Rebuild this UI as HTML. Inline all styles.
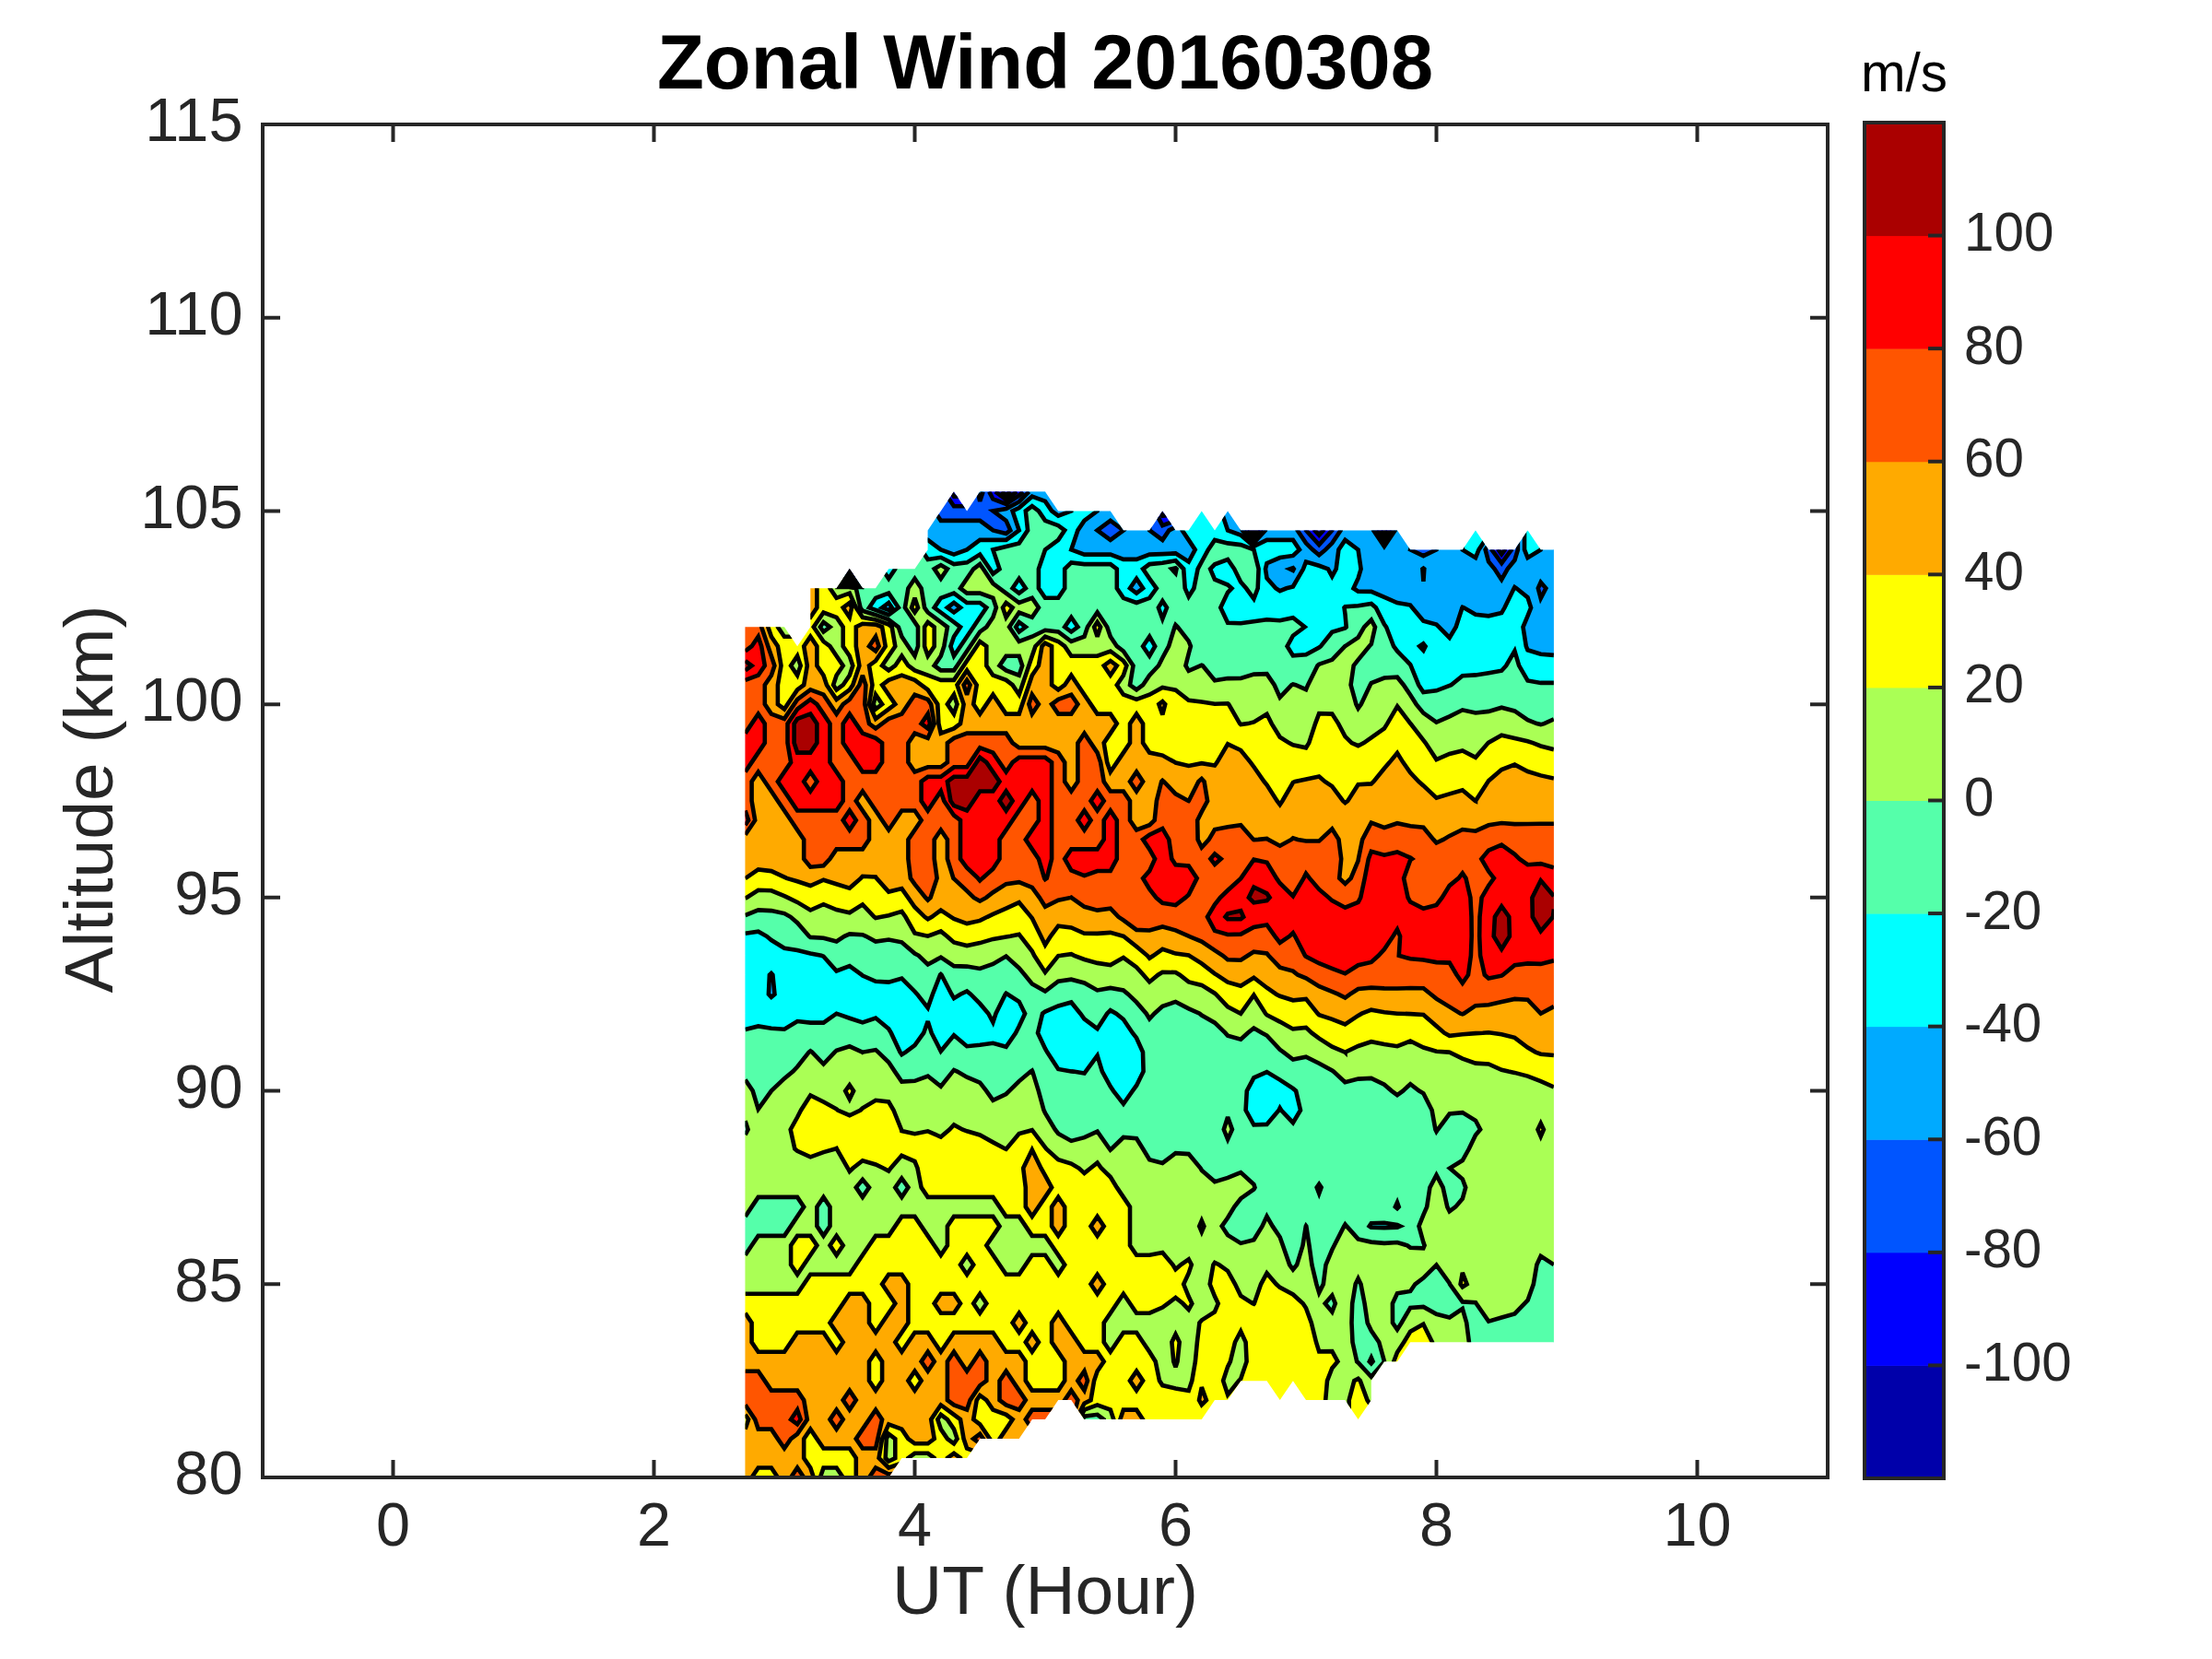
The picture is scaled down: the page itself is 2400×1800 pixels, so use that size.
<!DOCTYPE html>
<html><head><meta charset="utf-8">
<style>
html,body{margin:0;padding:0;background:#fff;}
body{width:2400px;height:1800px;overflow:hidden;position:relative;font-family:"Liberation Sans",sans-serif;}
svg{position:absolute;left:0;top:0;}
text{font-family:"Liberation Sans",sans-serif;}
.tk{font-size:58.33px;fill:#262626;}
.lb{font-size:75px;fill:#262626;}
.tkx{font-size:66.67px;fill:#262626;}
</style></head><body>
<svg width="2400" height="1800" viewBox="0 0 2400 1800">
<rect x="0" y="0" width="2400" height="1800" fill="#ffffff"/>
<defs><clipPath id="reg"><path d="M808.5 680.3 808.5 680.3 808.5 680.3 808.5 680.3 808.5 680.3 808.5 680.3 808.5 680.3 808.5 680.3 808.5 680.3 808.5 701.2 808.5 722.2 808.5 743.2 808.5 764.1 808.5 785.1 808.5 806.1 808.5 827.1 808.5 848.0 808.5 869.0 808.5 890.0 808.5 910.9 808.5 931.9 808.5 952.9 808.5 973.9 808.5 994.8 808.5 1015.8 808.5 1036.8 808.5 1057.7 808.5 1078.7 808.5 1099.7 808.5 1120.7 808.5 1141.6 808.5 1162.6 808.5 1183.6 808.5 1204.5 808.5 1225.5 808.5 1246.5 808.5 1267.5 808.5 1288.4 808.5 1309.4 808.5 1330.4 808.5 1351.3 808.5 1372.3 808.5 1393.3 808.5 1414.3 808.5 1435.2 808.5 1456.2 808.5 1477.2 808.5 1498.1 808.5 1519.1 808.5 1540.1 808.5 1561.1 808.5 1582.0 808.5 1603.0 808.5 1603.0 808.5 1603.0 808.5 1603.0 808.5 1603.0 808.5 1603.0 808.5 1603.0 808.5 1603.0 808.5 1603.0 808.5 1603.0 808.5 1603.0 808.5 1603.0 808.5 1603.0 808.5 1603.0 808.5 1603.0 808.5 1603.0 808.6 1603.0 822.7 1603.0 836.9 1603.0 851.0 1603.0 865.1 1603.0 879.3 1603.0 893.5 1603.0 907.6 1603.0 921.8 1603.0 935.9 1603.0 950.1 1603.0 964.2 1603.0 964.2 1603.0 964.2 1603.0 964.2 1603.0 964.2 1603.0 964.2 1603.0 964.2 1603.0 964.2 1603.0 964.2 1603.0 964.2 1603.0 964.2 1603.0 964.2 1603.0 964.2 1603.0 964.2 1603.0 964.2 1603.0 964.2 1603.0 964.2 1603.0 964.2 1603.0 964.2 1603.0 964.2 1603.0 964.2 1603.0 964.2 1603.0 964.2 1603.0 964.2 1603.0 964.2 1603.0 964.2 1603.0 964.2 1603.0 964.2 1603.0 964.2 1603.0 964.2 1603.0 964.2 1603.0 964.2 1603.0 964.2 1603.0 964.2 1603.0 964.2 1603.0 964.2 1603.0 964.2 1603.0 964.2 1603.0 964.2 1603.0 978.4 1582.0 992.5 1582.0 1006.7 1582.0 1020.8 1582.0 1035.0 1582.0 1049.1 1582.0 1049.1 1582.0 1049.1 1582.0 1049.1 1582.0 1049.1 1582.0 1049.1 1582.0 1049.1 1582.0 1049.1 1582.0 1049.1 1582.0 1049.1 1582.0 1049.1 1582.0 1049.1 1582.0 1049.1 1582.0 1049.1 1582.0 1049.1 1582.0 1049.1 1582.0 1049.1 1582.0 1049.1 1582.0 1049.1 1582.0 1049.1 1582.0 1049.1 1582.0 1049.1 1582.0 1049.1 1582.0 1049.1 1582.0 1049.1 1582.0 1049.1 1582.0 1049.1 1582.0 1049.1 1582.0 1049.1 1582.0 1049.1 1582.0 1049.1 1582.0 1049.1 1582.0 1049.1 1582.0 1049.1 1582.0 1049.1 1582.0 1049.1 1582.0 1049.1 1582.0 1049.1 1582.0 1049.1 1582.0 1063.3 1561.1 1077.4 1561.1 1091.6 1561.1 1105.7 1561.1 1105.7 1561.1 1105.7 1561.1 1105.7 1561.1 1105.7 1561.1 1105.7 1561.1 1105.7 1561.1 1105.7 1561.1 1105.7 1561.1 1105.7 1561.1 1105.7 1561.1 1105.7 1561.1 1105.7 1561.1 1105.7 1561.1 1105.7 1561.1 1105.7 1561.1 1105.7 1561.1 1105.7 1561.1 1105.7 1561.1 1105.7 1561.1 1105.7 1561.1 1105.7 1561.1 1105.7 1561.1 1105.7 1561.1 1105.7 1561.1 1105.7 1561.1 1105.7 1561.1 1105.7 1561.1 1105.7 1561.1 1105.7 1561.1 1105.7 1561.1 1105.7 1561.1 1105.7 1561.1 1105.7 1561.1 1105.7 1561.1 1105.7 1561.1 1105.7 1561.1 1105.7 1561.1 1105.7 1561.1 1119.9 1540.1 1134.0 1540.1 1134.0 1540.1 1134.0 1540.1 1134.0 1540.1 1134.0 1540.1 1134.0 1540.1 1134.0 1540.1 1134.0 1540.1 1134.0 1540.1 1134.0 1540.1 1134.0 1540.1 1134.0 1540.1 1134.0 1540.1 1134.0 1540.1 1134.0 1540.1 1134.0 1540.1 1134.0 1540.1 1134.0 1540.1 1134.0 1540.1 1134.0 1540.1 1134.0 1540.1 1134.0 1540.1 1134.0 1540.1 1134.0 1540.1 1134.0 1540.1 1134.0 1540.1 1134.0 1540.1 1134.0 1540.1 1134.0 1540.1 1134.0 1540.1 1134.0 1540.1 1134.0 1540.1 1134.0 1540.1 1134.0 1540.1 1134.0 1540.1 1134.0 1540.1 1134.0 1540.1 1134.0 1540.1 1134.0 1540.1 1148.2 1519.1 1162.3 1519.1 1176.4 1540.1 1176.4 1540.1 1176.4 1540.1 1176.4 1540.1 1176.4 1540.1 1176.4 1540.1 1176.4 1540.1 1176.4 1540.1 1176.4 1540.1 1176.4 1540.1 1176.4 1540.1 1176.4 1540.1 1176.4 1540.1 1176.4 1540.1 1176.4 1540.1 1176.4 1540.1 1176.4 1540.1 1176.4 1540.1 1176.4 1540.1 1176.4 1540.1 1176.4 1540.1 1176.4 1540.1 1176.4 1540.1 1176.4 1540.1 1176.4 1540.1 1176.4 1540.1 1176.4 1540.1 1176.4 1540.1 1176.4 1540.1 1176.4 1540.1 1176.4 1540.1 1176.4 1540.1 1176.4 1540.1 1176.4 1540.1 1176.4 1540.1 1176.4 1540.1 1176.4 1540.1 1176.4 1540.1 1176.5 1540.1 1190.6 1540.1 1204.8 1540.1 1218.9 1540.1 1233.1 1540.1 1247.2 1540.1 1261.3 1540.1 1275.5 1540.1 1289.7 1540.1 1303.8 1540.1 1303.8 1540.1 1303.8 1540.1 1303.8 1540.1 1303.8 1540.1 1303.8 1540.1 1303.8 1540.1 1303.8 1540.1 1303.8 1540.1 1303.8 1540.1 1303.8 1540.1 1303.8 1540.1 1303.8 1540.1 1303.8 1540.1 1303.8 1540.1 1303.8 1540.1 1303.8 1540.1 1303.8 1540.1 1303.8 1540.1 1303.8 1540.1 1303.8 1540.1 1303.8 1540.1 1303.8 1540.1 1303.8 1540.1 1303.8 1540.1 1303.8 1540.1 1303.8 1540.1 1303.8 1540.1 1303.8 1540.1 1303.8 1540.1 1303.8 1540.1 1303.8 1540.1 1303.8 1540.1 1303.8 1540.1 1303.8 1540.1 1303.8 1540.1 1303.8 1540.1 1303.8 1540.1 1303.8 1540.1 1318.0 1519.1 1332.1 1519.1 1332.1 1519.1 1332.1 1519.1 1332.1 1519.1 1332.1 1519.1 1332.1 1519.1 1332.1 1519.1 1332.1 1519.1 1332.1 1519.1 1332.1 1519.1 1332.1 1519.1 1332.1 1519.1 1332.1 1519.1 1332.1 1519.1 1332.1 1519.1 1332.1 1519.1 1332.1 1519.1 1332.1 1519.1 1332.1 1519.1 1332.1 1519.1 1332.1 1519.1 1332.1 1519.1 1332.1 1519.1 1332.1 1519.1 1332.1 1519.1 1332.1 1519.1 1332.1 1519.1 1332.1 1519.1 1332.1 1519.1 1332.1 1519.1 1332.1 1519.1 1332.1 1519.1 1332.1 1519.1 1332.1 1519.1 1332.1 1519.1 1332.1 1519.1 1332.1 1519.1 1332.1 1519.1 1332.1 1519.1 1346.3 1498.2 1360.4 1498.2 1374.5 1498.2 1388.7 1519.1 1388.7 1519.1 1388.7 1519.1 1388.7 1519.1 1388.7 1519.1 1388.7 1519.1 1388.7 1519.1 1388.7 1519.1 1388.7 1519.1 1388.7 1519.1 1388.7 1519.1 1388.7 1519.1 1388.7 1519.1 1388.7 1519.1 1388.7 1519.1 1388.7 1519.1 1388.7 1519.1 1388.7 1519.1 1388.7 1519.1 1388.7 1519.1 1388.7 1519.1 1388.7 1519.1 1388.7 1519.1 1388.7 1519.1 1388.7 1519.1 1388.7 1519.1 1388.7 1519.1 1388.7 1519.1 1388.7 1519.1 1388.7 1519.1 1388.7 1519.1 1388.7 1519.1 1388.7 1519.1 1388.7 1519.1 1388.7 1519.1 1388.7 1519.1 1388.7 1519.1 1388.7 1519.1 1388.7 1519.1 1388.7 1519.1 1388.7 1519.1 1388.7 1519.1 1388.7 1519.1 1388.7 1519.1 1388.7 1519.1 1388.7 1519.1 1388.7 1519.1 1388.7 1519.1 1388.7 1519.1 1388.7 1519.1 1388.7 1519.1 1388.7 1519.1 1388.7 1519.1 1388.7 1519.1 1388.7 1519.1 1388.7 1519.1 1388.7 1519.1 1388.7 1519.1 1388.7 1519.1 1388.7 1519.1 1388.7 1519.1 1388.7 1519.1 1388.7 1519.1 1388.7 1519.1 1388.7 1519.1 1388.7 1519.1 1388.7 1519.1 1388.7 1519.1 1388.7 1519.1 1388.7 1519.1 1388.7 1519.1 1388.7 1519.1 1388.7 1519.1 1388.7 1519.1 1388.7 1519.1 1388.7 1519.1 1388.7 1519.1 1388.7 1519.1 1388.7 1519.1 1402.9 1498.2 1417.0 1519.1 1417.0 1519.1 1417.0 1519.1 1417.0 1519.1 1417.0 1519.1 1417.0 1519.1 1417.0 1519.1 1417.0 1519.1 1417.0 1519.1 1417.0 1519.1 1417.0 1519.1 1417.0 1519.1 1417.0 1519.1 1417.0 1519.1 1417.0 1519.1 1417.0 1519.1 1417.0 1519.1 1417.0 1519.1 1417.0 1519.1 1417.0 1519.1 1417.0 1519.1 1417.0 1519.1 1417.0 1519.1 1417.0 1519.1 1417.0 1519.1 1417.0 1519.1 1417.0 1519.1 1417.0 1519.1 1417.0 1519.1 1417.0 1519.1 1417.0 1519.1 1417.0 1519.1 1417.0 1519.1 1417.0 1519.1 1417.0 1519.1 1417.0 1519.1 1417.0 1519.1 1417.0 1519.1 1417.0 1519.1 1431.2 1519.1 1445.3 1519.1 1459.4 1519.1 1473.6 1540.1 1473.6 1540.1 1473.6 1540.1 1473.6 1540.1 1473.6 1540.1 1473.6 1540.1 1473.6 1540.1 1473.6 1540.1 1473.6 1540.1 1473.6 1540.1 1473.6 1540.1 1473.6 1540.1 1473.6 1540.1 1473.6 1540.1 1473.6 1540.1 1473.6 1540.1 1473.6 1540.1 1473.6 1540.1 1473.6 1540.1 1473.6 1540.1 1473.6 1540.1 1473.6 1540.1 1473.6 1540.1 1473.6 1540.1 1473.6 1540.1 1473.6 1540.1 1473.6 1540.1 1473.6 1540.1 1473.6 1540.1 1473.6 1540.1 1473.6 1540.1 1473.6 1540.1 1473.6 1540.1 1473.6 1540.1 1473.6 1540.1 1473.6 1540.1 1473.6 1540.1 1473.6 1540.1 1473.6 1540.1 1473.6 1540.1 1473.6 1540.1 1473.6 1540.1 1473.6 1540.1 1473.6 1540.1 1473.6 1540.1 1473.6 1540.1 1473.6 1540.1 1473.6 1540.1 1473.6 1540.1 1473.6 1540.1 1473.6 1540.1 1473.6 1540.1 1473.6 1540.1 1473.6 1540.1 1473.6 1540.1 1473.6 1540.1 1473.6 1540.1 1473.6 1540.1 1473.6 1540.1 1473.6 1540.1 1473.6 1540.1 1473.6 1540.1 1473.6 1540.1 1473.6 1540.1 1473.6 1540.1 1473.6 1540.1 1473.6 1540.1 1473.6 1540.1 1473.6 1540.1 1473.6 1540.1 1473.6 1540.1 1473.6 1540.1 1473.6 1540.1 1473.6 1540.1 1473.6 1540.1 1473.6 1540.1 1473.6 1540.1 1473.6 1540.1 1473.6 1540.1 1487.8 1519.1 1487.8 1519.1 1487.8 1519.1 1487.8 1519.1 1487.8 1519.1 1487.8 1519.1 1487.8 1519.1 1487.8 1519.1 1487.8 1519.1 1487.8 1519.1 1487.8 1519.1 1487.8 1519.1 1487.8 1519.1 1487.8 1519.1 1487.8 1519.1 1487.8 1519.1 1487.8 1519.1 1487.8 1519.1 1487.8 1519.1 1487.8 1519.1 1487.8 1519.1 1487.8 1519.1 1487.8 1519.1 1487.8 1519.1 1487.8 1519.1 1487.8 1519.1 1487.8 1519.1 1487.8 1498.1 1501.9 1477.2 1516.0 1477.2 1516.1 1477.2 1516.1 1477.2 1516.1 1477.2 1516.1 1477.2 1516.1 1477.2 1516.1 1477.2 1516.1 1477.2 1516.1 1477.2 1516.1 1477.2 1516.1 1477.2 1516.1 1477.2 1516.1 1477.2 1516.1 1477.2 1516.1 1477.2 1516.1 1477.2 1516.1 1477.2 1516.1 1477.2 1516.1 1477.2 1516.1 1477.2 1516.1 1477.2 1516.1 1477.2 1516.1 1477.2 1516.1 1477.2 1516.1 1477.2 1516.1 1477.2 1516.1 1477.2 1516.1 1477.2 1516.1 1477.2 1516.1 1477.2 1516.1 1477.2 1516.1 1477.2 1516.1 1477.2 1516.1 1477.2 1516.1 1477.2 1516.1 1477.2 1516.1 1477.2 1516.1 1477.2 1516.1 1477.2 1530.2 1456.2 1544.4 1456.2 1558.5 1456.2 1572.7 1456.2 1586.8 1456.2 1601.0 1456.2 1615.1 1456.2 1629.2 1456.2 1643.4 1456.2 1657.5 1456.2 1671.7 1456.2 1685.9 1456.2 1685.9 1456.2 1685.9 1456.2 1685.9 1456.2 1685.9 1456.2 1685.9 1456.2 1685.9 1456.2 1685.9 1456.2 1685.9 1456.2 1685.9 1456.2 1685.9 1456.2 1685.9 1456.2 1685.9 1456.2 1685.9 1456.2 1685.9 1456.2 1685.9 1456.2 1685.9 1456.2 1685.9 1435.2 1685.9 1414.3 1685.9 1393.3 1685.9 1372.3 1685.9 1351.3 1685.9 1330.4 1685.9 1309.4 1685.9 1288.4 1685.9 1267.5 1685.9 1246.5 1685.9 1225.5 1685.9 1204.5 1685.9 1183.6 1685.9 1162.6 1685.9 1141.6 1685.9 1120.7 1685.9 1099.7 1685.9 1078.7 1685.9 1057.7 1685.9 1036.8 1685.9 1015.8 1685.9 994.8 1685.9 973.9 1685.9 952.9 1685.9 931.9 1685.9 910.9 1685.9 890.0 1685.9 869.0 1685.9 848.0 1685.9 827.1 1685.9 806.1 1685.9 785.1 1685.9 764.1 1685.9 743.2 1685.9 722.2 1685.9 701.2 1685.9 680.3 1685.9 659.3 1685.9 638.3 1685.9 617.3 1685.9 596.4 1685.9 596.4 1685.9 596.4 1685.9 596.4 1685.9 596.4 1685.9 596.4 1685.9 596.4 1685.9 596.4 1685.9 596.4 1685.9 596.4 1685.9 596.4 1685.9 596.4 1685.9 596.4 1685.9 596.4 1685.9 596.4 1685.9 596.4 1685.9 596.4 1671.7 596.4 1657.6 575.4 1657.6 575.4 1657.6 575.4 1657.6 575.4 1657.6 575.4 1657.6 575.4 1657.6 575.4 1657.6 575.4 1657.6 575.4 1657.6 575.4 1657.6 575.4 1657.6 575.4 1657.6 575.4 1657.6 575.4 1657.6 575.4 1657.6 575.4 1657.6 575.4 1657.6 575.4 1657.6 575.4 1657.6 575.4 1657.6 575.4 1657.6 575.4 1657.6 575.4 1657.6 575.4 1657.6 575.4 1657.6 575.4 1657.6 575.4 1657.6 575.4 1657.6 575.4 1657.6 575.4 1657.6 575.4 1657.6 575.4 1657.6 575.4 1657.6 575.4 1657.6 575.4 1657.6 575.4 1657.6 575.4 1657.6 575.4 1657.6 575.4 1657.5 575.4 1657.5 575.4 1657.5 575.4 1657.5 575.4 1657.5 575.4 1657.5 575.4 1657.5 575.4 1657.5 575.4 1657.5 575.4 1657.5 575.4 1657.5 575.4 1657.5 575.4 1657.5 575.4 1657.5 575.4 1657.5 575.4 1657.5 575.4 1657.5 575.4 1657.5 575.4 1657.5 575.4 1657.5 575.4 1657.5 575.4 1657.5 575.4 1657.5 575.4 1657.5 575.4 1657.5 575.4 1657.5 575.4 1657.5 575.4 1657.5 575.4 1657.5 575.4 1657.5 575.4 1657.5 575.4 1657.5 575.4 1657.5 575.4 1657.5 575.4 1657.5 575.4 1657.5 575.4 1657.5 575.4 1657.5 575.4 1657.5 575.4 1657.5 575.4 1643.4 596.4 1629.2 596.4 1615.1 596.4 1601.0 575.4 1601.0 575.4 1601.0 575.4 1601.0 575.4 1601.0 575.4 1601.0 575.4 1601.0 575.4 1601.0 575.4 1601.0 575.4 1601.0 575.4 1601.0 575.4 1601.0 575.4 1601.0 575.4 1601.0 575.4 1601.0 575.4 1601.0 575.4 1601.0 575.4 1601.0 575.4 1601.0 575.4 1601.0 575.4 1601.0 575.4 1601.0 575.4 1601.0 575.4 1601.0 575.4 1601.0 575.4 1601.0 575.4 1601.0 575.4 1601.0 575.4 1601.0 575.4 1601.0 575.4 1601.0 575.4 1601.0 575.4 1601.0 575.4 1601.0 575.4 1601.0 575.4 1601.0 575.4 1601.0 575.4 1601.0 575.4 1601.0 575.4 1601.0 575.4 1600.9 575.4 1600.9 575.4 1600.9 575.4 1600.9 575.4 1600.9 575.4 1600.9 575.4 1600.9 575.4 1600.9 575.4 1600.9 575.4 1600.9 575.4 1600.9 575.4 1600.9 575.4 1600.9 575.4 1600.9 575.4 1600.9 575.4 1600.9 575.4 1600.9 575.4 1600.9 575.4 1600.9 575.4 1600.9 575.4 1600.9 575.4 1600.9 575.4 1600.9 575.4 1600.9 575.4 1600.9 575.4 1600.9 575.4 1600.9 575.4 1600.9 575.4 1600.9 575.4 1600.9 575.4 1600.9 575.4 1600.9 575.4 1600.9 575.4 1600.9 575.4 1600.9 575.4 1600.9 575.4 1600.9 575.4 1600.9 575.4 1600.9 575.4 1586.8 596.4 1572.7 596.4 1558.5 596.4 1544.4 596.4 1530.2 596.4 1516.1 575.4 1516.1 575.4 1516.1 575.4 1516.1 575.4 1516.1 575.4 1516.1 575.4 1516.1 575.4 1516.1 575.4 1516.1 575.4 1516.1 575.4 1516.1 575.4 1516.1 575.4 1516.1 575.4 1516.1 575.4 1516.1 575.4 1516.1 575.4 1516.1 575.4 1516.1 575.4 1516.1 575.4 1516.1 575.4 1516.1 575.4 1516.1 575.4 1516.1 575.4 1516.1 575.4 1516.1 575.4 1516.1 575.4 1516.1 575.4 1516.1 575.4 1516.1 575.4 1516.1 575.4 1516.1 575.4 1516.1 575.4 1516.1 575.4 1516.1 575.4 1516.1 575.4 1516.1 575.4 1516.1 575.4 1516.1 575.4 1516.0 575.4 1501.9 575.4 1487.8 575.4 1473.6 575.4 1459.5 575.4 1445.3 575.4 1431.2 575.4 1417.0 575.4 1402.9 575.4 1388.7 575.4 1374.5 575.4 1360.4 575.4 1346.3 575.4 1332.1 554.4 1332.1 554.4 1332.1 554.4 1332.1 554.4 1332.1 554.4 1332.1 554.4 1332.1 554.4 1332.1 554.4 1332.1 554.4 1332.1 554.4 1332.1 554.4 1332.1 554.4 1332.1 554.4 1332.1 554.4 1332.1 554.4 1332.1 554.4 1332.1 554.4 1332.1 554.4 1332.1 554.4 1332.1 554.4 1332.1 554.4 1332.1 554.4 1332.1 554.4 1332.1 554.4 1332.1 554.4 1332.1 554.4 1332.1 554.4 1332.1 554.4 1332.1 554.4 1332.1 554.4 1332.1 554.4 1332.1 554.4 1332.1 554.4 1332.1 554.4 1332.1 554.4 1332.1 554.4 1332.1 554.4 1332.1 554.4 1332.1 554.4 1332.1 554.4 1332.1 554.4 1332.1 554.4 1332.1 554.4 1332.1 554.4 1332.1 554.4 1332.1 554.4 1332.1 554.4 1332.1 554.4 1332.1 554.4 1332.1 554.4 1332.1 554.4 1332.1 554.4 1332.1 554.4 1332.1 554.4 1332.1 554.4 1332.1 554.4 1332.1 554.4 1332.1 554.4 1332.1 554.4 1332.1 554.4 1332.1 554.4 1332.1 554.4 1332.1 554.4 1332.1 554.4 1332.1 554.4 1332.1 554.4 1332.1 554.4 1332.1 554.4 1332.1 554.4 1332.1 554.4 1332.1 554.4 1332.1 554.4 1332.1 554.4 1332.1 554.4 1332.1 554.4 1332.1 554.4 1332.1 554.4 1332.1 554.4 1332.1 554.4 1318.0 575.4 1303.8 554.4 1303.8 554.4 1303.8 554.4 1303.8 554.4 1303.8 554.4 1303.8 554.4 1303.8 554.4 1303.8 554.4 1303.8 554.4 1303.8 554.4 1303.8 554.4 1303.8 554.4 1303.8 554.4 1303.8 554.4 1303.8 554.4 1303.8 554.4 1303.8 554.4 1303.8 554.4 1303.8 554.4 1303.8 554.4 1303.8 554.4 1303.8 554.4 1303.8 554.4 1303.8 554.4 1303.8 554.4 1303.8 554.4 1303.8 554.4 1303.8 554.4 1303.8 554.4 1303.8 554.4 1303.8 554.4 1303.8 554.4 1303.8 554.4 1303.8 554.4 1303.8 554.4 1303.8 554.4 1303.8 554.4 1303.8 554.4 1303.8 554.4 1303.8 554.4 1303.8 554.4 1303.8 554.4 1303.8 554.4 1303.8 554.4 1303.8 554.4 1303.8 554.4 1303.8 554.4 1303.8 554.4 1303.8 554.4 1303.8 554.4 1303.8 554.4 1303.8 554.4 1303.8 554.4 1303.8 554.4 1303.8 554.4 1303.8 554.4 1303.8 554.4 1303.8 554.4 1303.8 554.4 1303.8 554.4 1303.8 554.4 1303.8 554.4 1303.8 554.4 1303.8 554.4 1303.8 554.4 1303.8 554.4 1303.8 554.4 1303.8 554.4 1303.8 554.4 1303.8 554.4 1303.8 554.4 1303.8 554.4 1303.8 554.4 1303.8 554.4 1303.8 554.4 1303.8 554.4 1303.8 554.4 1303.8 554.4 1303.8 554.4 1289.6 575.4 1275.5 575.4 1261.4 554.4 1261.4 554.4 1261.4 554.4 1261.4 554.4 1261.4 554.4 1261.4 554.4 1261.4 554.4 1261.4 554.4 1261.4 554.4 1261.4 554.4 1261.4 554.4 1261.4 554.4 1261.4 554.4 1261.4 554.4 1261.4 554.4 1261.4 554.4 1261.4 554.4 1261.4 554.4 1261.4 554.4 1261.4 554.4 1261.4 554.4 1261.4 554.4 1261.4 554.4 1261.4 554.4 1261.4 554.4 1261.4 554.4 1261.4 554.4 1261.4 554.4 1261.4 554.4 1261.4 554.4 1261.4 554.4 1261.4 554.4 1261.4 554.4 1261.4 554.4 1261.4 554.4 1261.4 554.4 1261.4 554.4 1261.4 554.4 1261.4 554.4 1261.3 554.4 1261.3 554.4 1261.3 554.4 1261.3 554.4 1261.3 554.4 1261.3 554.4 1261.3 554.4 1261.3 554.4 1261.3 554.4 1261.3 554.4 1261.3 554.4 1261.3 554.4 1261.3 554.4 1261.3 554.4 1261.3 554.4 1261.3 554.4 1261.3 554.4 1261.3 554.4 1261.3 554.4 1261.3 554.4 1261.3 554.4 1261.3 554.4 1261.3 554.4 1261.3 554.4 1261.3 554.4 1261.3 554.4 1261.3 554.4 1261.3 554.4 1261.3 554.4 1261.3 554.4 1261.3 554.4 1261.3 554.4 1261.3 554.4 1261.3 554.4 1261.3 554.4 1261.3 554.4 1261.3 554.4 1261.3 554.4 1261.3 554.4 1261.3 554.4 1247.2 575.4 1233.1 575.4 1218.9 575.4 1204.8 554.4 1204.8 554.4 1204.8 554.4 1204.8 554.4 1204.8 554.4 1204.8 554.4 1204.8 554.4 1204.8 554.4 1204.8 554.4 1204.8 554.4 1204.8 554.4 1204.8 554.4 1204.8 554.4 1204.8 554.4 1204.8 554.4 1204.8 554.4 1204.8 554.4 1204.8 554.4 1204.8 554.4 1204.8 554.4 1204.8 554.4 1204.8 554.4 1204.8 554.4 1204.8 554.4 1204.8 554.4 1204.8 554.4 1204.8 554.4 1204.8 554.4 1204.8 554.4 1204.8 554.4 1204.8 554.4 1204.8 554.4 1204.8 554.4 1204.8 554.4 1204.8 554.4 1204.8 554.4 1204.8 554.4 1204.8 554.4 1204.8 554.4 1190.6 554.4 1176.5 554.4 1162.3 554.4 1148.2 554.4 1134.0 533.5 1134.0 533.5 1134.0 533.5 1134.0 533.5 1134.0 533.5 1134.0 533.5 1134.0 533.5 1134.0 533.5 1134.0 533.5 1134.0 533.4 1134.0 533.4 1134.0 533.4 1134.0 533.4 1134.0 533.4 1134.0 533.4 1134.0 533.4 1134.0 533.4 1134.0 533.4 1134.0 533.4 1134.0 533.4 1134.0 533.4 1134.0 533.4 1134.0 533.4 1134.0 533.4 1134.0 533.4 1134.0 533.4 1134.0 533.4 1134.0 533.4 1134.0 533.4 1134.0 533.4 1134.0 533.4 1134.0 533.4 1134.0 533.4 1134.0 533.4 1134.0 533.4 1134.0 533.4 1134.0 533.4 1134.0 533.4 1134.0 533.4 1119.8 533.4 1105.7 533.4 1091.6 533.4 1077.4 533.4 1063.2 533.4 1063.2 533.4 1063.2 533.4 1063.2 533.4 1063.2 533.4 1063.2 533.4 1063.2 533.4 1063.2 533.4 1063.2 533.4 1063.2 533.4 1063.2 533.4 1063.2 533.4 1063.2 533.4 1063.2 533.4 1063.2 533.4 1063.2 533.4 1063.2 533.4 1063.2 533.4 1063.2 533.4 1063.2 533.4 1063.2 533.4 1063.2 533.4 1063.2 533.4 1063.2 533.4 1063.2 533.4 1063.2 533.4 1063.2 533.4 1063.2 533.4 1063.2 533.4 1063.2 533.4 1063.2 533.5 1063.2 533.5 1063.2 533.5 1063.2 533.5 1063.2 533.5 1063.2 533.5 1063.2 533.5 1063.2 533.5 1063.2 533.5 1049.1 554.4 1035.0 533.5 1035.0 533.5 1035.0 533.5 1035.0 533.5 1035.0 533.5 1035.0 533.5 1035.0 533.5 1035.0 533.5 1035.0 533.5 1035.0 533.4 1035.0 533.4 1035.0 533.4 1035.0 533.4 1035.0 533.4 1035.0 533.4 1035.0 533.4 1035.0 533.4 1035.0 533.4 1035.0 533.4 1035.0 533.4 1035.0 533.4 1035.0 533.4 1035.0 533.4 1035.0 533.4 1035.0 533.4 1035.0 533.4 1035.0 533.4 1035.0 533.4 1035.0 533.4 1035.0 533.4 1035.0 533.4 1035.0 533.4 1035.0 533.4 1035.0 533.4 1035.0 533.4 1035.0 533.4 1035.0 533.4 1035.0 533.4 1035.0 533.4 1035.0 533.4 1034.9 533.4 1034.9 533.4 1034.9 533.4 1034.9 533.4 1034.9 533.4 1034.9 533.4 1034.9 533.4 1034.9 533.4 1034.9 533.4 1034.9 533.4 1034.9 533.4 1034.9 533.4 1034.9 533.4 1034.9 533.4 1034.9 533.4 1034.9 533.4 1034.9 533.4 1034.9 533.4 1034.9 533.4 1034.9 533.4 1034.9 533.4 1034.9 533.4 1034.9 533.4 1034.9 533.4 1034.9 533.4 1034.9 533.4 1034.9 533.4 1034.9 533.4 1034.9 533.4 1034.9 533.4 1034.9 533.5 1034.9 533.5 1034.9 533.5 1034.9 533.5 1034.9 533.5 1034.9 533.5 1034.9 533.5 1034.9 533.5 1034.9 533.5 1020.8 554.4 1006.6 575.4 1006.6 575.4 1006.6 575.4 1006.6 575.4 1006.6 575.4 1006.6 575.4 1006.6 575.4 1006.6 575.4 1006.6 575.4 1006.6 575.4 1006.6 575.4 1006.6 575.4 1006.6 575.4 1006.6 575.4 1006.6 575.4 1006.6 575.4 1006.6 575.4 1006.6 575.4 1006.6 575.4 1006.6 575.4 1006.6 575.4 1006.6 575.4 1006.6 575.4 1006.6 575.4 1006.6 575.4 1006.6 575.4 1006.6 575.4 1006.6 596.4 992.5 617.3 978.4 617.3 964.2 617.3 964.2 617.3 964.2 617.3 964.2 617.3 964.2 617.3 964.2 617.3 964.2 617.3 964.2 617.3 964.2 617.3 964.2 617.3 964.2 617.3 964.2 617.3 964.2 617.3 964.2 617.3 964.2 617.3 964.2 617.3 964.2 617.3 964.2 617.3 964.2 617.3 964.2 617.3 964.2 617.3 964.2 617.3 964.2 617.3 964.2 617.3 964.2 617.3 964.2 617.3 964.2 617.3 964.2 617.3 964.2 617.3 964.2 617.3 964.2 617.3 964.2 617.3 964.2 617.3 964.2 617.3 964.2 617.3 964.2 617.3 964.2 617.3 964.2 617.3 964.2 617.3 950.0 638.3 935.9 638.3 921.8 617.3 921.8 617.3 921.8 617.3 921.8 617.3 921.8 617.3 921.8 617.3 921.8 617.3 921.8 617.3 921.8 617.3 921.8 617.3 921.8 617.3 921.8 617.3 921.8 617.3 921.8 617.3 921.8 617.3 921.8 617.3 921.8 617.3 921.8 617.3 921.8 617.3 921.8 617.3 921.8 617.3 921.8 617.3 921.8 617.3 921.8 617.3 921.8 617.3 921.8 617.3 921.8 617.3 921.8 617.3 921.8 617.3 921.8 617.3 921.8 617.3 921.8 617.3 921.8 617.3 921.8 617.3 921.8 617.3 921.8 617.3 921.8 617.3 921.8 617.3 921.8 617.3 921.8 617.3 921.7 617.3 921.7 617.3 921.7 617.3 921.7 617.3 921.7 617.3 921.7 617.3 921.7 617.3 921.7 617.3 921.7 617.3 921.7 617.3 921.7 617.3 921.7 617.3 921.7 617.3 921.7 617.3 921.7 617.3 921.7 617.3 921.7 617.3 921.7 617.3 921.7 617.3 921.7 617.3 921.7 617.3 921.7 617.3 921.7 617.3 921.7 617.3 921.7 617.3 921.7 617.3 921.7 617.3 921.7 617.3 921.7 617.3 921.7 617.3 921.7 617.3 921.7 617.3 921.7 617.3 921.7 617.3 921.7 617.3 921.7 617.3 921.7 617.3 921.7 617.3 921.7 617.3 907.6 638.3 893.5 638.3 879.3 638.3 879.3 638.3 879.3 638.3 879.3 638.3 879.3 638.3 879.3 638.3 879.3 638.3 879.3 638.3 879.3 638.3 879.3 638.3 879.3 638.3 879.3 638.3 879.3 638.3 879.3 638.3 879.3 638.3 879.3 638.3 879.3 638.3 879.3 659.3 879.3 680.3 865.1 701.2 851.0 680.3 851.0 680.3 851.0 680.3 851.0 680.3 851.0 680.3 851.0 680.3 851.0 680.3 851.0 680.3 851.0 680.3 851.0 680.2 851.0 680.2 851.0 680.2 851.0 680.2 851.0 680.2 851.0 680.2 851.0 680.2 851.0 680.2 851.0 680.2 851.0 680.2 851.0 680.2 851.0 680.2 851.0 680.2 851.0 680.2 851.0 680.2 851.0 680.2 851.0 680.2 851.0 680.2 851.0 680.2 851.0 680.2 851.0 680.2 851.0 680.2 851.0 680.2 851.0 680.2 851.0 680.2 851.0 680.2 851.0 680.2 851.0 680.2 851.0 680.2 851.0 680.2 836.9 680.2 822.7 680.2 808.6 680.2 808.5 680.2 808.5 680.2 808.5 680.2 808.5 680.2 808.5 680.2 808.5 680.2 808.5 680.2 808.5 680.3Z" clip-rule="evenodd"/></clipPath></defs>
<g clip-path="url(#reg)">
<path d="M918.3 617.3 921.8 622.4 935.9 623.2 939.9 617.3 940.6 596.4 940.6 575.4 940.6 554.4 940.6 533.5 935.9 533.5 921.8 533.5 907.6 533.5 893.5 533.5 890.8 533.5 890.8 554.4 890.8 575.4 893.5 579.8 904.6 596.4 907.6 601.4 918.3 617.3ZM1625.7 596.4 1629.2 601.3 1632.8 596.4 1632.8 575.4 1631.0 554.4 1629.2 551.8 1627.5 554.4 1627.5 575.4 1625.7 596.4ZM1354.6 575.4 1360.4 581.8 1366.2 575.4 1366.2 554.4 1366.2 533.5 1360.4 533.5 1354.6 533.5 1354.6 554.4 1354.6 575.4ZM1426.4 575.4 1431.2 580.6 1435.9 575.4 1435.9 554.4 1435.9 533.5 1431.2 533.5 1426.4 533.5 1426.4 554.4 1426.4 575.4ZM1499.5 575.4 1501.9 578.9 1504.3 575.4 1504.3 554.4 1504.3 533.5 1501.9 533.5 1499.5 533.5 1499.5 554.4 1499.5 575.4ZM1258.5 554.4 1261.3 559.7 1275.5 557.9 1277.3 554.4 1277.3 533.5 1275.5 533.5 1261.3 533.5 1247.2 533.5 1244.8 533.5 1247.2 537.7 1258.5 554.4ZM1031.4 533.5 1035.0 538.7 1049.1 538.7 1051.5 533.5 1049.1 533.5 1035.0 533.5 1031.4 533.5ZM1079.9 533.5 1091.6 542.1 1103.2 533.5 1091.6 533.5 1079.9 533.5Z" fill="#0000AA" stroke="#0000AA" stroke-width="1" fill-rule="evenodd"/>
<path d="M916.4 617.3 921.8 625.3 935.9 626.6 942.1 617.3 943.3 596.4 943.3 575.4 943.3 554.4 943.3 533.5 940.6 533.5 940.6 554.4 940.6 575.4 940.6 596.4 939.9 617.3 935.9 623.2 921.8 622.4 918.3 617.3 907.6 601.4 904.6 596.4 893.5 579.8 890.8 575.4 890.8 554.4 890.8 533.5 889.2 533.5 889.2 554.4 889.2 575.4 893.5 582.4 902.9 596.4 907.6 604.3 916.4 617.3ZM1618.6 596.4 1629.2 611.0 1639.9 596.4 1639.9 575.4 1634.6 554.4 1629.2 546.6 1623.9 554.4 1623.9 575.4 1618.6 596.4ZM1629.2 601.3 1625.7 596.4 1627.5 575.4 1627.5 554.4 1629.2 551.8 1631.0 554.4 1632.8 575.4 1632.8 596.4 1629.2 601.3ZM1351.2 575.4 1360.4 585.4 1369.6 575.4 1369.6 554.4 1369.6 533.5 1366.2 533.5 1366.2 554.4 1366.2 575.4 1360.4 581.8 1354.6 575.4 1354.6 554.4 1354.6 533.5 1351.2 533.5 1351.2 554.4 1351.2 575.4ZM1417.0 575.4 1417.0 575.4 1431.2 591.1 1445.3 575.4 1445.3 575.4 1445.3 554.4 1445.3 533.5 1445.3 533.5 1435.9 533.5 1435.9 554.4 1435.9 575.4 1431.2 580.6 1426.4 575.4 1426.4 554.4 1426.4 533.5 1417.0 533.5 1417.0 533.5 1417.0 554.4 1417.0 575.4ZM1494.8 575.4 1501.9 585.9 1509.0 575.4 1509.0 554.4 1509.0 533.5 1504.3 533.5 1504.3 554.4 1504.3 575.4 1501.9 578.9 1499.5 575.4 1499.5 554.4 1499.5 533.5 1494.8 533.5 1494.8 554.4 1494.8 575.4ZM1252.9 554.4 1261.3 570.2 1275.5 564.9 1280.8 554.4 1280.8 533.5 1277.3 533.5 1277.3 554.4 1275.5 557.9 1261.3 559.7 1258.5 554.4 1247.2 537.7 1244.8 533.5 1240.1 533.5 1247.2 546.0 1252.9 554.4ZM1024.3 533.5 1035.0 549.2 1049.1 549.2 1056.2 533.5 1051.5 533.5 1049.1 538.7 1035.0 538.7 1031.4 533.5 1024.3 533.5ZM1073.2 533.5 1077.4 541.5 1091.6 547.0 1105.7 537.7 1109.9 533.5 1105.7 533.5 1103.2 533.5 1091.6 542.1 1079.9 533.5 1077.4 533.5 1073.2 533.5Z" fill="#0000FF" stroke="#0000FF" stroke-width="1" fill-rule="evenodd"/>
<path d="M1668.8 638.3 1671.7 649.2 1677.3 638.3 1671.7 631.7 1668.8 638.3ZM914.4 617.3 921.8 628.2 935.9 629.9 944.4 617.3 946.0 596.4 946.0 575.4 946.0 554.4 946.0 533.5 943.3 533.5 943.3 554.4 943.3 575.4 943.3 596.4 942.1 617.3 935.9 626.6 921.8 625.3 916.4 617.3 907.6 604.3 902.9 596.4 893.5 582.4 889.2 575.4 889.2 554.4 889.2 533.5 887.7 533.5 887.7 554.4 887.7 575.4 893.5 584.9 901.2 596.4 907.6 607.2 914.4 617.3ZM1399.4 617.3 1402.9 619.0 1403.8 617.3 1402.9 616.1 1399.4 617.3ZM1621.6 617.3 1629.2 628.9 1635.7 617.3 1643.4 607.8 1646.9 596.4 1646.9 575.4 1643.4 570.2 1638.1 554.4 1629.2 541.3 1620.4 554.4 1620.4 575.4 1615.1 591.1 1611.6 596.4 1615.1 609.5 1621.6 617.3ZM1629.2 611.0 1618.6 596.4 1623.9 575.4 1623.9 554.4 1629.2 546.6 1634.6 554.4 1639.9 575.4 1639.9 596.4 1629.2 611.0ZM1424.1 596.4 1431.2 602.2 1438.2 596.4 1445.3 589.4 1454.7 575.4 1454.7 554.4 1454.7 533.5 1445.3 533.5 1445.3 554.4 1445.3 575.4 1445.3 575.4 1431.2 591.1 1417.0 575.4 1417.0 575.4 1417.0 554.4 1417.0 533.5 1407.6 533.5 1407.6 554.4 1407.6 575.4 1417.0 589.4 1424.1 596.4ZM1530.2 596.4 1530.2 596.4 1544.4 603.1 1558.5 596.4 1558.5 596.4 1558.5 575.4 1558.5 554.4 1558.5 533.5 1558.5 533.5 1558.5 533.5 1544.4 543.9 1537.3 554.4 1537.3 575.4 1530.2 596.4 1530.2 596.4ZM1077.4 575.4 1077.4 575.4 1091.6 578.9 1096.3 575.4 1091.6 564.9 1077.4 554.4 1091.6 552.0 1105.7 544.4 1116.5 533.5 1109.9 533.5 1105.7 537.7 1091.6 547.0 1077.4 541.5 1073.2 533.5 1066.6 533.5 1063.2 543.9 1060.9 533.5 1056.2 533.5 1049.1 549.2 1035.0 549.2 1024.3 533.5 1020.8 533.5 1006.7 533.5 999.6 533.5 1006.7 543.9 1013.7 554.4 1020.8 564.9 1035.0 564.9 1049.1 564.9 1063.2 564.9 1077.4 575.4ZM1190.6 575.4 1190.6 575.4 1204.8 585.9 1218.9 575.4 1218.9 575.4 1218.9 575.4 1204.8 564.9 1190.6 575.4 1190.6 575.4ZM1247.2 575.4 1247.2 575.4 1261.3 585.9 1268.4 575.4 1275.5 571.9 1284.3 554.4 1284.3 533.5 1280.8 533.5 1280.8 554.4 1275.5 564.9 1261.3 570.2 1252.9 554.4 1247.2 546.0 1240.1 533.5 1235.4 533.5 1247.2 554.4 1247.2 575.4ZM1347.9 575.4 1360.4 589.1 1372.9 575.4 1372.9 554.4 1372.9 533.5 1369.6 533.5 1369.6 554.4 1369.6 575.4 1360.4 585.4 1351.2 575.4 1351.2 554.4 1351.2 533.5 1347.9 533.5 1347.9 554.4 1347.9 575.4ZM1490.1 575.4 1501.9 592.9 1513.7 575.4 1513.7 554.4 1513.7 533.5 1509.0 533.5 1509.0 554.4 1509.0 575.4 1501.9 585.9 1494.8 575.4 1494.8 554.4 1494.8 533.5 1490.1 533.5 1490.1 554.4 1490.1 575.4Z" fill="#0055FF" stroke="#0055FF" stroke-width="1" fill-rule="evenodd"/>
<path d="M833.9 1078.7 836.9 1081.9 840.5 1078.7 838.4 1057.7 836.9 1056.0 834.9 1057.7 833.9 1078.7ZM1655.8 701.2 1657.5 705.3 1671.7 709.8 1685.9 710.9 1685.9 701.2 1685.9 680.3 1685.9 659.3 1685.9 638.3 1685.9 617.3 1685.9 596.4 1685.9 575.4 1685.9 554.4 1685.9 543.9 1678.8 554.4 1678.8 575.4 1671.7 596.4 1671.7 596.4 1657.5 605.1 1654.0 596.4 1654.0 575.4 1643.4 559.7 1641.6 554.4 1629.2 536.1 1616.9 554.4 1616.9 575.4 1615.1 580.6 1604.5 596.4 1600.9 605.1 1586.8 596.4 1586.8 575.4 1586.8 575.4 1579.7 554.4 1572.7 543.9 1567.9 533.5 1558.5 533.5 1558.5 554.4 1558.5 575.4 1558.5 596.4 1558.5 596.4 1544.4 603.1 1530.2 596.4 1530.2 596.4 1530.2 596.4 1537.3 575.4 1537.3 554.4 1544.4 543.9 1558.5 533.5 1544.4 533.5 1530.2 533.5 1516.0 533.5 1513.7 533.5 1513.7 554.4 1513.7 575.4 1501.9 592.9 1490.1 575.4 1490.1 554.4 1490.1 533.5 1487.8 533.5 1473.6 533.5 1459.5 533.5 1454.7 533.5 1454.7 554.4 1454.7 575.4 1445.3 589.4 1438.2 596.4 1431.2 602.2 1424.1 596.4 1417.0 589.4 1407.6 575.4 1407.6 554.4 1407.6 533.5 1402.9 533.5 1388.7 533.5 1374.5 533.5 1372.9 533.5 1372.9 554.4 1372.9 575.4 1360.4 589.1 1347.9 575.4 1347.9 554.4 1347.9 533.5 1346.2 533.5 1332.1 533.5 1325.0 533.5 1325.0 554.4 1332.1 575.4 1332.1 575.4 1346.2 580.6 1360.4 592.7 1374.5 585.9 1388.7 585.9 1402.9 585.9 1409.9 596.4 1402.9 602.9 1388.7 605.1 1374.5 611.1 1373.0 617.3 1374.5 627.2 1384.2 638.3 1388.7 641.1 1395.8 638.3 1402.9 636.4 1414.0 617.3 1417.0 609.5 1431.2 613.8 1440.9 617.3 1445.3 625.4 1449.7 617.3 1452.4 596.4 1459.5 585.9 1473.6 596.4 1473.6 596.4 1476.6 617.3 1473.6 627.4 1468.5 638.3 1473.6 641.6 1487.8 641.9 1501.9 647.9 1516.1 654.0 1530.2 656.5 1532.3 659.3 1544.4 673.8 1558.5 677.6 1561.4 680.3 1572.7 691.9 1579.7 680.3 1586.5 659.3 1586.8 658.8 1588.2 659.3 1601.0 666.7 1615.1 668.3 1629.2 665.1 1632.5 659.3 1642.7 638.3 1643.4 637.0 1645.3 638.3 1657.5 648.1 1661.1 659.3 1657.5 668.4 1652.5 680.3 1655.8 701.2ZM1671.7 649.2 1668.8 638.3 1671.7 631.7 1677.3 638.3 1671.7 649.2ZM1402.9 619.0 1399.4 617.3 1402.9 616.1 1403.8 617.3 1402.9 619.0ZM1544.4 630.8 1543.4 617.3 1544.4 616.6 1545.3 617.3 1544.4 630.8ZM1629.2 628.9 1621.6 617.3 1615.1 609.5 1611.6 596.4 1615.1 591.1 1620.4 575.4 1620.4 554.4 1629.2 541.3 1638.1 554.4 1643.4 570.2 1646.9 575.4 1646.9 596.4 1643.4 607.8 1635.7 617.3 1629.2 628.9ZM957.1 659.3 964.2 661.9 967.7 659.3 964.2 654.0 957.1 659.3ZM1027.9 659.3 1035.0 664.5 1042.0 659.3 1035.0 654.0 1027.9 659.3ZM1226.0 638.3 1233.1 643.6 1240.1 638.3 1233.1 627.8 1226.0 638.3ZM912.5 617.3 921.8 631.1 935.9 633.3 946.7 617.3 948.7 596.4 948.7 575.4 948.7 554.4 948.7 533.5 946.0 533.5 946.0 554.4 946.0 575.4 946.0 596.4 944.4 617.3 935.9 629.9 921.8 628.2 914.4 617.3 907.6 607.2 901.2 596.4 893.5 584.9 887.7 575.4 887.7 554.4 887.7 533.5 886.2 533.5 886.2 554.4 886.2 575.4 893.5 587.5 899.5 596.4 907.6 610.1 912.5 617.3ZM1020.8 596.4 1020.8 596.4 1035.0 601.6 1049.1 596.4 1049.1 596.4 1063.2 585.9 1077.4 585.9 1091.6 585.9 1105.7 575.4 1105.7 575.4 1105.7 575.4 1098.6 554.4 1105.7 551.1 1119.8 538.7 1134.0 543.9 1141.1 554.4 1148.2 559.7 1162.3 554.4 1162.3 554.4 1162.3 533.5 1162.3 533.5 1148.2 533.5 1134.0 533.5 1119.8 533.5 1116.5 533.5 1105.7 544.4 1091.6 552.0 1077.4 554.4 1091.6 564.9 1096.3 575.4 1091.6 578.9 1077.4 575.4 1077.4 575.4 1063.2 564.9 1049.1 564.9 1035.0 564.9 1020.8 564.9 1013.7 554.4 1006.7 543.9 999.6 533.5 992.5 533.5 978.4 533.5 964.2 533.5 957.1 533.5 964.2 543.9 971.3 554.4 978.4 559.7 989.0 575.4 992.5 580.6 1006.7 585.9 1020.8 596.4ZM1162.3 596.4 1162.3 596.4 1176.5 601.6 1190.6 601.6 1204.8 601.6 1218.9 606.9 1233.1 606.9 1247.2 601.6 1261.3 601.1 1275.5 600.4 1289.7 609.5 1296.7 596.4 1289.7 585.9 1282.6 575.4 1287.9 554.4 1287.9 533.5 1284.3 533.5 1284.3 554.4 1275.5 571.9 1268.4 575.4 1261.3 585.9 1247.2 575.4 1247.2 575.4 1247.2 554.4 1235.4 533.5 1233.1 533.5 1218.9 533.5 1204.8 533.5 1190.6 533.5 1190.6 533.5 1190.6 554.4 1176.5 564.9 1169.4 575.4 1162.3 596.4 1162.3 596.4ZM1190.6 575.4 1190.6 575.4 1190.6 575.4 1204.8 564.9 1218.9 575.4 1218.9 575.4 1218.9 575.4 1204.8 585.9 1190.6 575.4ZM1060.9 533.5 1063.2 543.9 1066.6 533.5 1063.2 533.5 1060.9 533.5Z" fill="#00AAFF" stroke="#00AAFF" stroke-width="1" fill-rule="evenodd"/>
<path d="M1485.8 1477.2 1487.8 1479.3 1489.6 1477.2 1487.8 1473.0 1485.8 1477.2ZM1485.7 1330.4 1487.8 1331.8 1501.9 1332.1 1516.0 1331.7 1519.1 1330.4 1516.0 1328.9 1501.9 1326.7 1487.8 1327.3 1485.7 1330.4ZM1351.6 1204.5 1360.4 1220.5 1374.5 1219.9 1387.6 1204.5 1388.7 1202.2 1390.1 1204.5 1402.9 1218.1 1411.0 1204.5 1406.1 1183.6 1402.9 1180.9 1388.7 1171.6 1374.5 1163.1 1360.4 1169.3 1352.8 1183.6 1351.6 1204.5ZM1208.0 1183.6 1218.9 1197.7 1228.8 1183.6 1233.1 1177.7 1240.6 1162.6 1240.0 1141.6 1233.1 1126.2 1228.8 1120.7 1218.9 1106.0 1211.0 1099.7 1204.8 1096.2 1201.2 1099.7 1190.6 1116.2 1176.5 1105.5 1172.2 1099.7 1162.3 1087.5 1148.2 1091.5 1134.0 1097.6 1131.1 1099.7 1126.0 1120.7 1134.0 1137.7 1136.2 1141.6 1148.2 1160.0 1162.3 1162.4 1164.7 1162.6 1176.5 1164.5 1177.9 1162.6 1190.6 1145.3 1195.9 1162.6 1204.8 1178.8 1208.0 1183.6ZM976.6 1141.6 978.4 1144.2 982.5 1141.6 992.5 1134.2 1002.2 1120.7 1006.7 1108.1 1010.7 1120.7 1020.8 1140.5 1035.0 1123.2 1049.1 1135.2 1063.2 1133.7 1077.4 1131.8 1091.6 1135.8 1102.0 1120.7 1105.7 1113.5 1112.1 1099.7 1105.7 1086.8 1093.2 1078.7 1091.6 1077.7 1090.8 1078.7 1080.5 1099.7 1077.4 1109.2 1072.4 1099.7 1063.2 1088.9 1053.1 1078.7 1049.1 1075.4 1042.1 1078.7 1035.0 1083.1 1032.4 1078.7 1021.5 1057.7 1020.8 1057.1 1020.1 1057.7 1011.9 1078.7 1006.7 1093.5 995.1 1078.7 992.5 1075.7 978.4 1061.6 964.2 1065.6 950.0 1064.8 935.9 1058.5 934.9 1057.7 921.8 1048.2 907.6 1053.5 893.5 1037.7 891.1 1036.8 879.3 1034.5 865.1 1031.1 851.0 1028.7 836.9 1020.0 831.8 1015.8 822.7 1010.7 808.6 1012.7 808.6 1015.8 808.6 1036.8 808.6 1057.7 808.6 1078.7 808.6 1099.7 808.6 1117.0 822.7 1113.4 836.9 1115.8 851.0 1116.7 865.2 1108.0 879.3 1109.6 893.5 1109.6 907.6 1099.7 907.6 1099.7 907.6 1099.7 921.8 1104.7 935.9 1109.4 950.1 1104.5 964.2 1116.3 966.8 1120.7 976.6 1141.6ZM836.9 1081.9 833.9 1078.7 834.9 1057.7 836.8 1056.0 838.4 1057.7 840.5 1078.7 836.9 1081.9ZM1539.2 743.2 1544.4 751.1 1558.5 749.3 1572.7 744.0 1574.4 743.2 1586.8 733.2 1601.0 732.4 1615.1 730.2 1629.2 727.7 1634.2 722.2 1643.4 706.3 1648.1 722.2 1657.5 738.4 1671.7 740.9 1685.9 740.9 1685.9 722.2 1685.9 710.9 1671.7 709.8 1657.5 705.3 1655.8 701.2 1652.5 680.3 1657.5 668.4 1661.1 659.3 1657.5 648.1 1645.3 638.3 1643.4 637.0 1642.7 638.3 1632.5 659.3 1629.2 665.1 1615.1 668.3 1601.0 666.7 1588.2 659.3 1586.8 658.8 1586.5 659.3 1579.7 680.3 1572.7 691.9 1561.4 680.3 1558.5 677.6 1544.4 673.8 1532.3 659.3 1530.2 656.5 1516.0 654.0 1501.9 647.9 1487.8 641.9 1473.6 641.6 1468.5 638.3 1473.6 627.4 1476.6 617.3 1473.6 596.4 1473.6 596.4 1459.5 585.9 1452.4 596.4 1449.7 617.3 1445.3 625.4 1440.9 617.3 1431.2 613.8 1417.0 609.5 1414.0 617.3 1402.9 636.4 1395.8 638.3 1388.7 641.1 1384.2 638.3 1374.5 627.2 1373.0 617.3 1374.5 611.1 1388.7 605.1 1402.9 602.9 1409.9 596.4 1402.9 585.9 1388.7 585.9 1374.5 585.9 1360.4 592.7 1346.2 580.6 1332.1 575.4 1332.1 575.4 1325.0 554.4 1325.0 533.5 1318.0 533.5 1303.8 533.5 1289.7 533.5 1287.9 533.5 1287.9 554.4 1282.6 575.4 1289.7 585.9 1296.7 596.4 1289.7 609.5 1275.5 600.4 1261.3 601.1 1247.2 601.6 1233.1 606.9 1218.9 606.9 1204.8 601.6 1190.6 601.6 1176.5 601.6 1162.3 596.4 1162.3 596.4 1162.3 596.4 1169.4 575.4 1176.5 564.9 1190.6 554.4 1190.6 533.5 1176.5 533.5 1162.3 533.5 1162.3 554.4 1162.3 554.4 1148.2 559.7 1141.1 554.4 1134.0 543.9 1119.8 538.7 1105.7 551.1 1098.6 554.4 1105.7 575.4 1105.7 575.4 1105.7 575.4 1091.6 585.9 1077.4 585.9 1063.2 585.9 1049.1 596.4 1049.1 596.4 1035.0 601.6 1020.8 596.4 1020.8 596.4 1006.7 585.9 992.5 580.6 989.0 575.4 978.4 559.7 971.3 554.4 964.2 543.9 957.1 533.5 950.1 533.5 948.7 533.5 948.7 554.4 948.7 575.4 948.7 596.4 946.7 617.3 935.9 633.3 921.8 631.1 912.5 617.3 907.6 610.1 899.5 596.4 893.5 587.5 886.2 575.4 886.2 554.4 886.2 533.5 884.7 533.5 884.7 554.4 884.7 575.4 893.5 590.0 897.7 596.4 907.6 613.0 910.5 617.3 921.8 634.0 935.9 636.6 948.9 617.3 950.1 606.9 957.1 617.3 964.2 627.8 971.3 617.3 971.3 596.4 971.3 575.4 978.4 570.2 981.9 575.4 992.5 591.1 999.6 596.4 1006.7 606.9 1020.8 604.8 1035.0 612.1 1049.1 610.4 1063.2 601.6 1073.9 617.3 1077.4 622.6 1084.5 617.3 1077.4 596.4 1091.6 592.9 1105.7 589.4 1115.1 575.4 1112.8 554.4 1119.8 549.2 1126.9 554.4 1134.0 564.9 1148.2 570.2 1155.2 575.4 1148.2 585.9 1134.0 596.4 1134.0 596.4 1126.9 617.3 1126.9 638.3 1134.0 648.8 1148.2 648.8 1155.2 638.3 1155.2 617.3 1162.3 610.4 1176.5 612.1 1190.6 612.1 1204.8 612.1 1211.8 617.3 1211.8 638.3 1218.9 648.8 1233.1 654.0 1247.2 648.8 1254.8 638.3 1247.2 627.8 1240.1 617.3 1247.2 612.1 1261.3 610.7 1275.5 608.3 1284.2 617.3 1285.7 638.3 1289.7 647.4 1295.4 638.3 1299.6 617.3 1303.8 609.5 1310.9 596.4 1318.0 585.9 1332.1 589.4 1346.2 591.1 1360.4 596.4 1360.4 596.4 1365.6 617.3 1364.7 638.3 1360.4 649.7 1352.1 638.3 1346.2 631.5 1339.2 617.3 1332.1 607.0 1318.0 612.3 1313.1 617.3 1318.0 628.7 1332.1 634.6 1336.4 638.3 1332.1 642.8 1324.3 659.3 1332.1 675.8 1346.2 676.2 1360.4 674.3 1374.6 672.3 1388.7 673.2 1402.9 670.2 1415.6 680.3 1402.9 689.7 1396.6 701.2 1402.9 711.4 1417.0 710.2 1431.2 702.6 1433.0 701.2 1445.3 685.7 1459.5 681.5 1460.7 680.3 1459.5 666.4 1458.5 659.3 1459.5 658.2 1473.6 657.2 1487.8 654.9 1492.8 659.3 1501.9 677.4 1504.1 680.3 1512.1 701.2 1516.1 706.4 1530.2 721.1 1530.7 722.2 1539.2 743.2ZM1544.4 705.7 1540.2 701.2 1544.4 698.4 1546.6 701.2 1544.4 705.7ZM1233.1 643.6 1226.0 638.3 1233.1 627.8 1240.1 638.3 1233.1 643.6ZM1031.4 701.2 1035.0 711.7 1042.0 701.2 1049.1 690.7 1056.2 680.3 1063.2 669.8 1070.3 659.3 1063.2 654.0 1049.1 654.0 1035.0 643.6 1020.8 648.8 1013.7 659.3 1020.8 664.5 1035.0 675.0 1042.0 680.3 1035.0 690.7 1031.4 701.2ZM1035.0 664.5 1027.9 659.3 1035.0 654.0 1042.0 659.3 1035.0 664.5ZM1240.1 701.2 1247.2 711.7 1253.2 701.2 1247.2 690.7 1240.1 701.2ZM1102.2 680.3 1105.7 685.5 1112.8 680.3 1105.7 675.0 1102.2 680.3ZM1155.2 680.3 1162.3 685.5 1169.4 680.3 1162.3 669.8 1155.2 680.3ZM943.0 659.3 950.1 661.9 964.2 667.2 974.8 659.3 964.2 643.6 950.1 648.8 943.0 659.3ZM964.2 661.9 957.1 659.3 964.2 654.0 967.7 659.3 964.2 661.9ZM1256.9 659.3 1261.3 671.5 1266.0 659.3 1261.3 652.1 1256.9 659.3ZM1098.6 638.3 1105.7 643.6 1112.8 638.3 1105.7 627.8 1098.6 638.3ZM1543.4 617.3 1544.4 630.8 1545.3 617.3 1544.4 616.6 1543.4 617.3ZM1586.8 596.4 1601.0 605.1 1604.5 596.4 1615.1 580.6 1616.9 575.4 1616.9 554.4 1629.2 536.1 1641.6 554.4 1643.4 559.7 1654.0 575.4 1654.0 596.4 1657.5 605.1 1671.7 596.4 1671.7 596.4 1678.8 575.4 1678.8 554.4 1685.9 543.9 1685.9 533.5 1671.7 533.5 1657.5 533.5 1643.4 533.5 1629.2 533.5 1615.1 533.5 1601.0 533.5 1586.8 533.5 1572.7 533.5 1567.9 533.5 1572.7 543.9 1579.7 554.4 1586.8 575.4 1586.8 575.4 1586.8 596.4Z" fill="#00FFFF" stroke="#00FFFF" stroke-width="1" fill-rule="evenodd"/>
<path d="M1160.5 1603.0 1162.3 1603.0 1176.5 1603.0 1190.6 1603.0 1197.7 1603.0 1197.7 1582.0 1197.7 1561.1 1197.7 1540.1 1190.6 1534.8 1176.5 1536.6 1174.7 1540.1 1162.3 1558.4 1160.5 1561.1 1160.5 1582.0 1160.5 1603.0ZM1593.9 1603.0 1601.0 1603.0 1615.1 1603.0 1629.2 1603.0 1643.4 1603.0 1657.5 1603.0 1671.7 1603.0 1685.9 1603.0 1685.9 1582.0 1685.9 1561.1 1685.9 1540.1 1685.9 1519.1 1685.9 1498.1 1685.9 1477.2 1685.9 1456.2 1685.9 1435.2 1685.9 1414.3 1685.9 1393.3 1685.9 1372.3 1685.9 1372.2 1671.7 1362.8 1667.4 1372.3 1663.8 1393.3 1657.6 1410.7 1654.1 1414.3 1643.4 1425.4 1629.2 1429.5 1615.1 1433.6 1601.7 1414.3 1601.0 1413.2 1586.8 1412.4 1573.0 1393.3 1572.7 1392.2 1558.5 1372.6 1544.4 1386.6 1535.4 1393.3 1530.2 1401.0 1516.0 1403.3 1510.9 1414.3 1511.0 1435.2 1516.0 1442.6 1520.6 1435.2 1530.2 1418.9 1544.4 1417.9 1558.5 1425.8 1572.7 1429.4 1586.8 1420.0 1591.2 1435.2 1593.9 1456.2 1593.9 1477.2 1593.9 1498.1 1593.9 1519.1 1593.9 1540.1 1593.9 1561.1 1593.9 1582.0 1593.9 1603.0ZM1472.2 1477.2 1473.6 1478.5 1487.8 1493.7 1501.9 1477.5 1501.9 1477.2 1501.9 1476.9 1496.2 1456.2 1487.8 1443.8 1483.7 1435.2 1480.6 1414.3 1476.5 1393.3 1473.6 1387.3 1470.7 1393.3 1467.2 1414.3 1466.5 1435.2 1467.5 1456.2 1472.2 1477.2ZM1487.8 1479.3 1485.8 1477.2 1487.8 1473.0 1489.6 1477.2 1487.8 1479.3ZM1437.7 1414.3 1445.3 1423.4 1448.8 1414.3 1445.3 1405.6 1437.7 1414.3ZM1428.4 1393.3 1431.2 1402.6 1435.8 1393.3 1438.5 1372.3 1445.3 1356.0 1447.7 1351.3 1458.3 1330.4 1459.5 1328.4 1461.1 1330.4 1473.6 1344.4 1487.8 1347.6 1501.9 1348.9 1516.0 1348.0 1526.9 1351.3 1530.2 1353.7 1544.4 1354.4 1545.6 1351.3 1544.4 1348.0 1539.5 1330.4 1544.4 1318.2 1548.2 1309.4 1551.4 1288.4 1558.5 1274.9 1565.6 1288.4 1570.3 1309.4 1572.7 1314.3 1579.3 1309.4 1586.8 1300.6 1590.2 1288.4 1586.8 1279.3 1573.0 1267.5 1586.8 1259.0 1593.8 1246.5 1601.0 1231.4 1606.1 1225.5 1601.0 1215.8 1586.8 1207.1 1572.7 1208.5 1560.0 1225.5 1558.5 1227.7 1557.4 1225.5 1553.6 1204.5 1544.4 1186.3 1539.7 1183.6 1530.2 1176.3 1522.2 1183.6 1516.0 1188.2 1509.9 1183.6 1501.9 1176.8 1487.8 1169.9 1473.6 1170.6 1459.5 1174.2 1446.9 1162.6 1445.3 1161.4 1431.2 1153.8 1417.0 1146.7 1402.9 1149.5 1392.6 1141.6 1388.7 1138.8 1374.5 1123.5 1369.3 1120.7 1360.4 1115.5 1353.8 1120.7 1346.2 1127.7 1332.1 1123.8 1329.4 1120.7 1317.9 1109.7 1303.8 1101.6 1301.6 1099.7 1289.7 1094.4 1275.5 1086.9 1261.3 1091.8 1252.5 1099.7 1247.2 1105.4 1243.7 1099.7 1233.1 1087.4 1224.0 1078.7 1218.9 1074.4 1204.8 1071.9 1190.6 1074.4 1176.5 1066.4 1162.3 1062.7 1148.2 1064.7 1134.0 1075.5 1119.8 1067.4 1111.9 1057.7 1105.7 1050.3 1091.6 1037.6 1077.4 1046.0 1063.2 1051.0 1049.1 1048.6 1035.0 1048.1 1020.8 1038.7 1006.7 1046.5 996.8 1036.8 992.5 1034.6 978.3 1022.3 964.2 1019.5 950.0 1021.5 939.5 1015.8 935.9 1014.2 921.8 1013.4 916.2 1015.8 907.6 1021.4 893.5 1017.7 879.3 1016.9 877.8 1015.8 865.1 1001.2 857.7 994.8 851.0 991.1 836.8 988.1 822.7 987.4 808.6 993.0 808.6 994.8 808.6 1012.7 822.7 1010.7 831.8 1015.8 836.9 1020.0 851.0 1028.7 865.1 1031.1 879.3 1034.5 891.1 1036.8 893.5 1037.7 907.6 1053.5 921.8 1048.2 934.9 1057.7 935.9 1058.5 950.1 1064.8 964.2 1065.6 978.4 1061.6 992.5 1075.7 995.1 1078.7 1006.7 1093.5 1011.9 1078.7 1020.1 1057.7 1020.8 1057.1 1021.5 1057.7 1032.4 1078.7 1035.0 1083.1 1042.1 1078.7 1049.1 1075.4 1053.1 1078.7 1063.2 1088.9 1072.4 1099.7 1077.4 1109.2 1080.5 1099.7 1090.8 1078.7 1091.6 1077.7 1093.2 1078.7 1105.7 1086.8 1112.1 1099.7 1105.7 1113.5 1102.0 1120.7 1091.6 1135.8 1077.4 1131.8 1063.2 1133.7 1049.1 1135.2 1035.0 1123.2 1020.8 1140.5 1010.7 1120.7 1006.7 1108.1 1002.2 1120.7 992.5 1134.2 982.5 1141.6 978.4 1144.2 976.6 1141.6 966.8 1120.7 964.2 1116.3 950.1 1104.5 935.9 1109.4 921.8 1104.7 907.6 1099.7 907.6 1099.7 907.6 1099.7 893.5 1109.6 879.3 1109.6 865.2 1108.0 851.0 1116.7 836.9 1115.8 822.7 1113.4 808.6 1117.0 808.6 1120.7 808.6 1141.6 808.6 1162.6 808.6 1171.4 816.7 1183.6 822.7 1203.3 836.9 1183.6 836.9 1183.6 851.0 1170.2 860.3 1162.6 865.1 1157.5 877.6 1141.6 879.3 1140.4 881.1 1141.6 893.5 1154.5 905.6 1141.6 907.6 1139.7 921.8 1135.3 935.8 1141.6 935.9 1141.7 936.1 1141.6 950.1 1139.1 952.9 1141.6 964.2 1152.5 970.9 1162.6 978.4 1173.6 992.5 1172.8 1006.7 1167.5 1020.8 1178.7 1033.6 1162.6 1035.0 1161.0 1038.6 1162.6 1049.1 1168.7 1063.2 1174.7 1070.2 1183.6 1077.4 1193.9 1091.6 1187.0 1095.1 1183.6 1105.7 1173.1 1118.2 1162.6 1119.8 1161.6 1120.3 1162.6 1126.8 1183.6 1132.5 1204.5 1134.0 1207.6 1144.7 1225.5 1148.2 1230.0 1162.3 1237.9 1176.5 1234.1 1190.6 1227.7 1203.8 1246.5 1204.8 1247.7 1206.0 1246.5 1218.9 1234.0 1233.1 1235.2 1240.1 1246.5 1247.2 1258.2 1261.3 1261.9 1275.5 1251.2 1289.7 1252.1 1302.6 1267.5 1303.8 1269.7 1317.9 1282.1 1332.1 1277.9 1346.2 1272.1 1360.4 1285.0 1361.5 1288.4 1360.4 1290.4 1346.2 1300.5 1339.3 1309.4 1332.1 1321.3 1325.7 1330.4 1332.1 1340.1 1346.2 1348.9 1360.4 1345.3 1369.5 1330.4 1374.5 1319.8 1380.7 1330.4 1388.7 1342.2 1391.9 1351.3 1399.2 1372.3 1402.9 1377.4 1407.1 1372.3 1413.5 1351.3 1416.8 1330.4 1417.0 1330.0 1417.3 1330.4 1420.5 1351.3 1423.4 1372.3 1428.4 1393.3ZM1431.2 1294.9 1428.7 1288.4 1431.2 1284.8 1433.6 1288.4 1431.2 1294.9ZM1487.8 1331.8 1485.7 1330.4 1487.8 1327.3 1501.9 1326.7 1516.0 1328.9 1519.1 1330.4 1516.0 1331.7 1501.9 1332.1 1487.8 1331.8ZM1218.9 1197.7 1208.0 1183.6 1204.8 1178.8 1195.9 1162.6 1190.6 1145.3 1177.9 1162.6 1176.5 1164.5 1164.7 1162.6 1162.3 1162.4 1148.2 1160.0 1136.2 1141.6 1134.0 1137.7 1126.0 1120.7 1131.1 1099.7 1134.0 1097.6 1148.2 1091.5 1162.3 1087.5 1172.2 1099.7 1176.5 1105.5 1190.6 1116.2 1201.2 1099.7 1204.8 1096.2 1211.0 1099.7 1218.9 1106.0 1228.8 1120.7 1233.1 1126.2 1240.0 1141.6 1240.6 1162.6 1233.1 1177.7 1228.8 1183.6 1218.9 1197.7ZM1332.1 1236.1 1327.8 1225.5 1332.1 1212.0 1336.9 1225.5 1332.1 1236.1ZM1360.4 1220.5 1351.6 1204.5 1352.8 1183.6 1360.4 1169.3 1374.5 1163.1 1388.7 1171.6 1402.8 1180.9 1406.1 1183.6 1411.0 1204.5 1402.9 1218.1 1390.1 1204.5 1388.7 1202.2 1387.6 1204.5 1374.5 1219.9 1360.4 1220.5ZM1516.0 1311.1 1513.9 1309.4 1516.0 1304.7 1517.7 1309.4 1516.0 1311.1ZM808.6 1351.3 808.6 1361.8 815.6 1351.3 822.7 1340.9 836.9 1340.9 851.0 1340.9 858.1 1330.4 865.1 1319.9 872.2 1309.4 865.1 1298.9 851.0 1298.9 836.9 1298.9 822.7 1298.9 815.6 1309.4 808.6 1319.9 808.6 1330.4 808.6 1351.3ZM886.4 1330.4 893.5 1340.9 900.5 1330.4 900.5 1309.4 893.5 1298.9 886.4 1309.4 886.4 1330.4ZM928.8 1288.4 935.9 1298.9 943.0 1288.4 935.9 1279.8 928.8 1288.4ZM971.3 1288.4 978.4 1298.9 985.4 1288.4 978.4 1278.4 971.3 1288.4ZM808.6 1225.5 808.6 1231.2 811.6 1225.5 808.6 1216.1 808.6 1225.5ZM1667.4 785.1 1671.7 786.1 1675.4 785.1 1685.9 780.3 1685.9 764.1 1685.9 743.2 1685.9 740.9 1671.7 740.9 1657.5 738.4 1648.1 722.2 1643.4 706.3 1634.2 722.2 1629.2 727.7 1615.1 730.2 1601.0 732.4 1586.8 733.2 1574.4 743.2 1572.7 744.0 1558.5 749.3 1544.3 751.1 1539.2 743.2 1530.7 722.2 1530.2 721.1 1516.0 706.4 1512.1 701.2 1504.1 680.3 1501.9 677.4 1492.8 659.3 1487.8 654.9 1473.6 657.2 1459.5 658.2 1458.5 659.3 1459.5 666.4 1460.7 680.3 1459.5 681.5 1445.3 685.7 1433.0 701.2 1431.2 702.6 1417.0 710.2 1402.9 711.4 1396.6 701.2 1402.9 689.7 1415.6 680.3 1402.9 670.2 1388.7 673.2 1374.5 672.3 1360.4 674.3 1346.2 676.2 1332.1 675.8 1324.3 659.3 1332.1 642.8 1336.4 638.3 1332.1 634.6 1318.0 628.7 1313.1 617.3 1318.0 612.3 1332.1 607.0 1339.2 617.3 1346.2 631.5 1352.1 638.3 1360.4 649.7 1364.7 638.3 1365.6 617.3 1360.4 596.4 1360.4 596.4 1346.2 591.1 1332.1 589.4 1318.0 585.9 1310.9 596.4 1303.8 609.5 1299.6 617.3 1295.4 638.3 1289.7 647.4 1285.7 638.3 1284.2 617.3 1275.5 608.3 1261.3 610.7 1247.2 612.1 1240.1 617.3 1247.2 627.8 1254.8 638.3 1247.2 648.8 1233.1 654.0 1218.9 648.8 1211.8 638.3 1211.8 617.3 1204.8 612.1 1190.6 612.1 1176.5 612.1 1162.3 610.4 1155.2 617.3 1155.2 638.3 1148.2 648.8 1134.0 648.8 1126.9 638.3 1126.9 617.3 1134.0 596.4 1134.0 596.4 1148.2 585.9 1155.2 575.4 1148.2 570.2 1134.0 564.9 1126.9 554.4 1119.8 549.2 1112.8 554.4 1115.1 575.4 1105.7 589.4 1091.6 592.9 1077.4 596.4 1084.5 617.3 1077.4 622.6 1073.9 617.3 1063.2 601.6 1049.1 610.4 1035.0 612.1 1020.8 604.8 1006.7 606.9 999.6 596.4 992.5 591.1 981.9 575.4 978.4 570.2 971.3 575.4 971.3 596.4 971.3 617.3 964.2 627.8 957.1 617.3 950.1 606.9 948.9 617.3 935.9 636.6 921.8 634.0 910.5 617.3 907.6 613.0 897.7 596.4 893.5 590.0 884.7 575.4 884.7 554.4 884.7 533.5 883.1 533.5 883.1 554.4 883.1 575.4 893.5 592.6 896.0 596.4 907.6 615.9 908.6 617.3 921.8 636.9 928.8 638.3 933.5 659.3 935.9 662.8 950.0 667.2 964.2 672.4 974.8 680.3 978.4 690.7 985.4 701.2 992.5 711.7 996.0 701.2 996.0 680.3 992.5 675.0 981.9 659.3 985.4 638.3 992.5 627.8 999.6 638.3 1003.1 659.3 1006.7 664.5 1020.8 675.0 1027.9 680.3 1024.3 701.2 1020.8 711.7 1013.7 722.2 1020.8 727.4 1035.0 727.4 1038.5 722.2 1049.1 706.5 1052.6 701.2 1063.2 685.5 1070.3 680.3 1077.4 669.8 1080.9 659.3 1077.4 648.8 1063.2 643.6 1049.1 643.6 1042.0 638.3 1049.1 627.8 1056.2 617.3 1063.2 612.1 1066.8 617.3 1077.4 633.1 1084.5 638.3 1091.6 643.6 1105.7 654.0 1119.8 648.8 1126.9 659.3 1119.8 669.8 1105.7 664.5 1095.1 680.3 1105.7 696.0 1119.8 690.7 1134.0 683.8 1148.2 685.5 1162.3 696.0 1176.5 690.7 1180.0 680.3 1190.6 664.5 1201.2 680.3 1204.8 690.7 1211.8 701.2 1218.9 706.5 1229.5 722.2 1226.0 743.2 1233.1 748.4 1240.1 743.2 1247.2 732.7 1257.0 722.2 1261.3 713.7 1268.1 701.2 1274.5 680.3 1275.5 678.0 1277.8 680.3 1289.7 695.7 1291.9 701.2 1289.7 709.2 1286.4 722.2 1289.7 727.9 1302.8 722.2 1303.8 721.8 1304.9 722.2 1318.0 738.3 1332.1 736.1 1346.2 736.0 1360.4 731.6 1374.5 731.1 1382.7 743.2 1388.7 756.7 1401.4 743.2 1402.8 742.5 1405.8 743.2 1417.0 748.2 1419.1 743.2 1429.5 722.2 1431.2 720.7 1445.3 715.8 1459.3 701.2 1459.5 701.1 1473.6 691.7 1480.1 680.3 1487.8 672.5 1492.0 680.3 1487.8 698.9 1485.6 701.2 1473.6 715.9 1468.7 722.2 1465.6 743.2 1471.4 764.1 1473.6 768.6 1476.8 764.1 1486.6 743.2 1487.8 741.1 1501.9 735.5 1516.0 734.7 1522.9 743.2 1530.2 754.0 1536.6 764.1 1544.4 773.6 1558.5 783.7 1572.7 777.4 1586.8 770.3 1601.0 773.5 1615.1 771.9 1629.2 767.7 1643.4 771.4 1657.5 781.1 1667.4 785.1ZM950.1 661.9 943.0 659.3 950.1 648.8 964.2 643.6 974.8 659.3 964.2 667.2 950.1 661.9ZM1035.0 711.7 1031.4 701.2 1035.0 690.7 1042.0 680.3 1035.0 675.0 1020.8 664.5 1013.7 659.3 1020.8 648.8 1035.0 643.6 1049.1 654.0 1063.2 654.0 1070.3 659.3 1063.2 669.8 1056.2 680.3 1049.1 690.7 1042.0 701.2 1035.0 711.7ZM1105.7 643.6 1098.6 638.3 1105.7 627.8 1112.8 638.3 1105.7 643.6ZM1105.7 685.5 1102.2 680.3 1105.7 675.0 1112.8 680.3 1105.7 685.5ZM1162.3 685.5 1155.2 680.3 1162.3 669.8 1169.4 680.3 1162.3 685.5ZM1247.2 711.7 1240.1 701.2 1247.2 690.7 1253.2 701.2 1247.2 711.7ZM1261.3 671.5 1256.9 659.3 1261.3 652.1 1266.0 659.3 1261.3 671.5ZM1275.5 622.0 1271.2 617.3 1275.5 616.3 1276.5 617.3 1275.5 622.0ZM1020.8 627.8 1013.7 617.3 1020.8 613.1 1027.9 617.3 1020.8 627.8ZM1084.5 722.2 1091.6 727.4 1105.7 732.7 1109.2 722.2 1105.7 711.7 1091.6 711.7 1084.5 722.2ZM1540.2 701.2 1544.4 705.7 1546.6 701.2 1544.3 698.4 1540.2 701.2ZM889.9 680.3 893.5 685.5 900.5 680.3 893.5 675.0 889.9 680.3Z" fill="#55FFAA" stroke="#55FFAA" stroke-width="1" fill-rule="evenodd"/>
<path d="M889.9 1603.0 893.5 1603.0 907.6 1603.0 914.7 1603.0 907.6 1592.5 893.5 1592.5 889.9 1603.0ZM960.7 1582.0 964.2 1585.5 971.3 1582.0 971.3 1561.1 964.2 1555.8 961.8 1561.1 960.7 1582.0ZM990.1 1603.0 992.5 1603.0 1006.7 1603.0 1013.7 1603.0 1013.7 1582.0 1006.7 1576.8 992.5 1576.8 985.4 1582.0 990.1 1603.0ZM1157.0 1603.0 1160.5 1603.0 1160.5 1582.0 1160.5 1561.1 1162.3 1558.4 1174.7 1540.1 1176.5 1536.6 1190.6 1534.8 1197.7 1540.1 1197.7 1561.1 1197.7 1582.0 1197.7 1603.0 1204.8 1603.0 1208.3 1603.0 1208.3 1582.0 1208.3 1561.1 1208.3 1540.1 1204.8 1529.6 1190.6 1524.4 1176.5 1529.6 1171.1 1540.1 1162.3 1553.2 1157.0 1561.1 1157.0 1582.0 1157.0 1603.0ZM1526.0 1582.0 1530.2 1588.3 1540.1 1603.0 1544.4 1603.0 1558.5 1603.0 1572.7 1603.0 1586.8 1603.0 1593.9 1603.0 1593.9 1582.0 1593.9 1561.1 1593.9 1540.1 1593.9 1519.1 1593.9 1498.1 1593.9 1477.2 1593.9 1456.2 1591.2 1435.2 1586.8 1420.0 1572.7 1429.4 1558.5 1425.8 1544.4 1417.9 1530.2 1418.9 1520.6 1435.2 1516.0 1442.6 1511.0 1435.2 1510.9 1414.3 1516.0 1403.3 1530.2 1401.0 1535.4 1393.3 1544.4 1386.6 1558.5 1372.6 1572.7 1392.2 1573.0 1393.3 1586.8 1412.4 1601.0 1413.2 1601.7 1414.3 1615.1 1433.6 1629.2 1429.5 1643.4 1425.4 1654.1 1414.3 1657.6 1410.7 1663.8 1393.3 1667.4 1372.3 1671.7 1362.8 1685.9 1372.2 1685.9 1351.3 1685.9 1330.4 1685.9 1309.4 1685.9 1288.4 1685.9 1267.5 1685.9 1246.5 1685.9 1225.5 1685.9 1204.5 1685.9 1183.6 1685.9 1179.4 1671.7 1173.1 1657.5 1167.6 1643.4 1163.9 1636.7 1162.6 1629.2 1160.8 1615.1 1154.5 1601.0 1153.6 1586.8 1148.6 1572.7 1141.8 1571.8 1141.6 1558.5 1140.7 1544.3 1136.5 1530.2 1129.5 1516.0 1135.2 1501.9 1133.1 1487.8 1130.2 1473.6 1135.0 1459.5 1141.6 1459.5 1141.7 1459.4 1141.6 1445.3 1135.6 1431.2 1126.6 1423.2 1120.7 1417.0 1114.9 1402.9 1116.4 1388.7 1108.6 1374.5 1101.2 1373.1 1099.7 1360.4 1079.7 1346.2 1099.7 1332.1 1092.3 1319.2 1078.7 1317.9 1077.7 1303.8 1068.9 1289.7 1065.4 1280.0 1057.7 1275.5 1055.0 1261.3 1054.7 1256.5 1057.7 1247.2 1065.4 1240.6 1057.7 1233.1 1049.4 1218.9 1039.1 1204.8 1047.0 1190.6 1044.9 1176.5 1041.0 1165.6 1036.8 1162.3 1035.2 1150.8 1036.8 1148.2 1037.1 1134.0 1054.9 1122.2 1036.8 1119.8 1032.0 1107.3 1015.8 1105.7 1013.7 1096.2 1015.8 1091.6 1016.4 1077.4 1018.9 1063.2 1023.1 1049.1 1026.1 1035.0 1022.5 1027.4 1015.8 1020.8 1010.4 1006.7 1015.7 992.5 1012.4 982.5 994.8 978.4 988.9 964.2 993.2 956.3 994.8 950.1 996.0 948.5 994.8 935.9 981.4 921.8 990.3 907.6 987.1 893.5 981.2 879.3 987.5 865.1 978.9 854.7 973.9 851.0 972.1 836.8 966.3 822.7 965.8 810.0 973.9 808.6 974.6 808.6 993.0 822.7 987.4 836.9 988.1 851.0 991.1 857.7 994.8 865.1 1001.2 877.8 1015.8 879.3 1016.9 893.5 1017.7 907.6 1021.4 916.2 1015.8 921.8 1013.4 935.9 1014.2 939.5 1015.8 950.1 1021.5 964.2 1019.5 978.3 1022.3 992.5 1034.6 996.8 1036.8 1006.7 1046.5 1020.8 1038.7 1035.0 1048.1 1049.1 1048.6 1063.2 1051.0 1077.4 1046.0 1091.6 1037.6 1105.7 1050.3 1111.9 1057.7 1119.8 1067.4 1134.0 1075.5 1148.2 1064.7 1162.3 1062.7 1176.5 1066.4 1190.6 1074.4 1204.8 1071.9 1218.9 1074.4 1224.0 1078.7 1233.1 1087.4 1243.7 1099.7 1247.2 1105.4 1252.5 1099.7 1261.3 1091.8 1275.5 1086.9 1289.7 1094.4 1301.6 1099.7 1303.8 1101.6 1318.0 1109.7 1329.4 1120.7 1332.1 1123.8 1346.2 1127.7 1353.8 1120.7 1360.4 1115.5 1369.3 1120.7 1374.5 1123.5 1388.7 1138.8 1392.6 1141.6 1402.9 1149.5 1417.0 1146.7 1431.2 1153.8 1445.3 1161.4 1446.9 1162.6 1459.4 1174.2 1473.6 1170.6 1487.8 1169.9 1501.9 1176.8 1509.9 1183.6 1516.0 1188.2 1522.2 1183.6 1530.2 1176.3 1539.7 1183.6 1544.4 1186.3 1553.6 1204.5 1557.4 1225.5 1558.5 1227.7 1560.0 1225.5 1572.7 1208.5 1586.8 1207.1 1601.0 1215.8 1606.1 1225.5 1601.0 1231.4 1593.8 1246.5 1586.8 1259.0 1573.0 1267.5 1586.8 1279.3 1590.2 1288.4 1586.8 1300.6 1579.3 1309.4 1572.7 1314.3 1570.3 1309.4 1565.6 1288.4 1558.5 1274.9 1551.4 1288.4 1548.2 1309.4 1544.4 1318.2 1539.5 1330.4 1544.4 1348.0 1545.6 1351.3 1544.3 1354.4 1530.2 1353.7 1526.9 1351.3 1516.0 1348.0 1501.9 1348.9 1487.8 1347.6 1473.6 1344.4 1461.1 1330.4 1459.5 1328.4 1458.3 1330.4 1447.7 1351.3 1445.3 1356.0 1438.5 1372.3 1435.8 1393.3 1431.2 1402.6 1428.4 1393.3 1423.4 1372.3 1420.5 1351.3 1417.3 1330.4 1417.0 1330.0 1416.8 1330.4 1413.5 1351.3 1407.1 1372.3 1402.9 1377.4 1399.2 1372.3 1391.9 1351.3 1388.7 1342.2 1380.7 1330.4 1374.5 1319.8 1369.5 1330.4 1360.4 1345.3 1346.2 1348.9 1332.1 1340.1 1325.7 1330.4 1332.1 1321.3 1339.3 1309.4 1346.2 1300.5 1360.4 1290.4 1361.5 1288.4 1360.4 1285.0 1346.2 1272.1 1332.1 1277.9 1318.0 1282.1 1303.8 1269.7 1302.6 1267.5 1289.7 1252.1 1275.5 1251.2 1261.3 1261.9 1247.2 1258.2 1240.1 1246.5 1233.1 1235.2 1218.9 1234.0 1206.0 1246.5 1204.7 1247.7 1203.8 1246.5 1190.6 1227.7 1176.5 1234.1 1162.3 1237.9 1148.2 1230.0 1144.7 1225.5 1134.0 1207.6 1132.5 1204.5 1126.8 1183.6 1120.3 1162.6 1119.8 1161.6 1118.2 1162.6 1105.7 1173.1 1095.1 1183.6 1091.6 1187.0 1077.4 1193.9 1070.2 1183.6 1063.2 1174.7 1049.1 1168.7 1038.6 1162.6 1035.0 1161.0 1033.6 1162.6 1020.8 1178.7 1006.7 1167.5 992.5 1172.8 978.4 1173.6 970.9 1162.6 964.2 1152.5 952.9 1141.6 950.1 1139.1 936.1 1141.6 935.9 1141.7 935.8 1141.6 921.8 1135.3 907.6 1139.7 905.6 1141.6 893.5 1154.5 881.1 1141.6 879.3 1140.4 877.6 1141.6 865.1 1157.5 860.3 1162.6 851.0 1170.2 836.9 1183.6 836.9 1183.6 822.7 1203.3 816.7 1183.6 808.6 1171.4 808.6 1183.6 808.6 1204.5 808.6 1216.1 811.6 1225.5 808.6 1231.2 808.6 1246.5 808.6 1267.5 808.6 1288.4 808.6 1309.4 808.6 1319.9 815.6 1309.4 822.7 1298.9 836.9 1298.9 851.0 1298.9 865.1 1298.9 872.2 1309.4 865.1 1319.9 858.1 1330.4 851.0 1340.9 836.9 1340.9 822.7 1340.9 815.6 1351.3 808.6 1361.8 808.6 1372.3 808.6 1393.3 808.6 1403.8 822.7 1403.8 836.9 1403.8 851.0 1403.8 865.1 1403.8 872.2 1393.3 879.3 1382.8 893.5 1382.8 907.6 1382.8 921.8 1382.8 928.8 1372.3 935.9 1361.8 943.0 1351.3 950.1 1340.9 964.2 1340.9 971.3 1330.4 978.4 1319.9 992.5 1319.9 999.6 1330.4 1006.7 1340.9 1013.7 1351.3 1020.8 1361.8 1027.9 1351.3 1027.9 1330.4 1035.0 1319.9 1049.1 1319.9 1063.2 1319.9 1077.4 1319.9 1084.5 1330.4 1077.4 1340.9 1070.3 1351.3 1077.4 1361.8 1084.5 1372.3 1091.6 1382.8 1105.7 1382.8 1112.8 1372.3 1119.8 1361.8 1134.0 1361.8 1141.1 1372.3 1148.2 1382.8 1155.2 1372.3 1148.2 1361.8 1141.1 1351.3 1134.0 1340.9 1119.8 1340.9 1112.8 1330.4 1105.7 1319.9 1091.6 1319.9 1084.5 1309.4 1077.4 1298.9 1063.2 1298.9 1049.1 1298.9 1035.0 1298.9 1020.8 1298.9 1006.7 1298.9 999.6 1288.4 995.5 1267.5 992.5 1260.1 978.3 1253.8 966.4 1267.5 964.2 1270.5 958.5 1267.5 950.1 1263.5 935.9 1259.2 925.4 1267.5 921.7 1271.0 919.9 1267.5 907.8 1246.5 907.6 1246.0 906.3 1246.5 893.5 1250.1 879.3 1255.3 865.1 1248.8 862.3 1246.5 857.7 1225.5 865.2 1212.0 869.1 1204.5 879.3 1188.4 893.5 1195.5 907.6 1203.3 908.9 1204.5 921.8 1210.2 933.6 1204.5 935.9 1202.3 950.1 1193.8 964.2 1195.5 969.5 1204.5 977.9 1225.5 978.3 1227.1 992.5 1230.2 1006.7 1227.3 1020.8 1233.5 1030.2 1225.5 1035.0 1220.4 1044.1 1225.5 1049.1 1227.3 1063.2 1231.5 1077.4 1239.4 1090.7 1246.5 1091.6 1246.8 1091.9 1246.5 1105.7 1230.1 1119.8 1226.2 1134.0 1244.9 1135.2 1246.5 1148.2 1258.1 1162.3 1262.6 1170.7 1267.5 1176.5 1272.9 1183.2 1267.5 1190.6 1261.6 1195.0 1267.5 1204.8 1277.0 1211.8 1288.4 1218.9 1298.9 1226.0 1309.4 1226.0 1330.4 1226.0 1351.3 1233.1 1361.8 1247.2 1361.8 1261.3 1359.1 1272.5 1372.3 1275.5 1377.3 1281.1 1372.3 1289.7 1366.3 1292.8 1372.3 1289.7 1381.4 1284.2 1393.3 1289.7 1406.8 1293.3 1414.3 1289.7 1420.8 1283.4 1414.3 1275.5 1407.9 1267.0 1414.3 1261.3 1418.5 1247.2 1424.7 1233.1 1424.7 1226.0 1414.3 1218.9 1403.8 1211.8 1414.3 1204.8 1424.7 1197.7 1435.2 1197.7 1456.2 1204.8 1466.7 1211.8 1456.2 1218.9 1445.7 1233.1 1445.7 1240.1 1456.2 1247.2 1466.7 1253.7 1477.2 1258.0 1498.1 1261.3 1503.1 1275.5 1506.5 1289.7 1508.9 1293.3 1498.1 1296.9 1477.2 1298.9 1456.2 1301.4 1435.2 1303.8 1432.4 1318.0 1423.4 1321.7 1414.3 1318.0 1406.5 1312.7 1393.3 1316.4 1372.3 1318.0 1369.9 1322.7 1372.3 1332.1 1379.0 1340.1 1393.3 1346.2 1406.0 1359.1 1414.3 1360.4 1414.8 1360.8 1414.3 1368.1 1393.3 1374.5 1381.4 1384.7 1393.3 1388.7 1396.9 1402.9 1404.5 1413.7 1414.3 1417.0 1419.2 1422.8 1435.2 1428.0 1456.2 1431.2 1466.4 1445.3 1466.1 1451.4 1477.2 1445.3 1484.5 1440.0 1498.1 1438.2 1519.1 1438.2 1540.1 1438.2 1561.1 1445.3 1571.5 1452.4 1561.1 1459.5 1546.4 1463.7 1540.1 1463.7 1519.1 1469.3 1498.1 1473.6 1495.9 1475.8 1498.1 1483.5 1519.1 1487.8 1525.4 1497.7 1540.1 1501.9 1546.4 1511.8 1561.1 1516.0 1567.3 1526.0 1582.0ZM1558.5 1572.7 1550.6 1561.1 1544.4 1551.7 1536.5 1540.1 1530.2 1530.8 1522.3 1519.1 1516.0 1509.8 1511.1 1498.1 1512.2 1477.2 1516.0 1467.3 1523.2 1456.2 1530.2 1444.8 1544.4 1436.8 1554.0 1456.2 1554.0 1477.2 1554.0 1498.1 1552.2 1519.1 1552.2 1540.1 1558.5 1549.4 1566.4 1561.1 1558.5 1572.7ZM1586.8 1396.3 1584.6 1393.3 1586.8 1380.8 1591.6 1393.3 1586.8 1396.3ZM1671.7 1233.0 1668.5 1225.5 1671.7 1218.8 1674.9 1225.5 1671.7 1233.0ZM865.1 1382.8 858.1 1372.3 858.1 1351.3 865.1 1340.9 879.3 1340.9 886.4 1351.3 879.3 1361.8 872.2 1372.3 865.1 1382.8ZM893.5 1340.9 886.4 1330.4 886.4 1309.4 893.5 1298.9 900.5 1309.4 900.5 1330.4 893.5 1340.9ZM907.6 1361.8 900.5 1351.3 907.6 1340.9 914.7 1351.3 907.6 1361.8ZM935.9 1298.9 928.8 1288.4 935.9 1279.8 943.0 1288.4 935.9 1298.9ZM978.4 1298.9 971.3 1288.4 978.3 1278.4 985.4 1288.4 978.4 1298.9ZM921.8 1192.5 917.2 1183.6 921.8 1177.2 926.1 1183.6 921.8 1192.5ZM1275.5 1483.3 1273.3 1477.2 1271.4 1456.2 1275.5 1447.7 1279.7 1456.2 1277.5 1477.2 1275.5 1483.3ZM1303.8 1336.6 1301.2 1330.4 1303.8 1324.4 1306.4 1330.4 1303.8 1336.6ZM1445.3 1423.4 1437.7 1414.3 1445.3 1405.6 1448.8 1414.3 1445.3 1423.4ZM1473.6 1478.5 1472.2 1477.2 1467.5 1456.2 1466.5 1435.2 1467.2 1414.3 1470.7 1393.3 1473.6 1387.3 1476.5 1393.3 1480.6 1414.3 1483.7 1435.2 1487.8 1443.8 1496.2 1456.2 1501.9 1476.9 1501.9 1477.2 1501.9 1477.5 1487.8 1493.7 1473.6 1478.5ZM1027.9 1561.1 1035.0 1566.3 1038.5 1561.1 1035.0 1550.6 1027.9 1540.1 1020.8 1534.8 1017.3 1540.1 1020.8 1550.6 1027.9 1561.1ZM1327.1 1498.1 1332.1 1513.3 1344.2 1498.1 1346.2 1496.0 1352.6 1477.2 1351.6 1456.2 1346.2 1444.5 1340.0 1456.2 1334.9 1477.2 1332.1 1482.9 1327.1 1498.1ZM1056.2 1414.3 1063.2 1424.7 1070.3 1414.3 1063.2 1403.8 1056.2 1414.3ZM1042.0 1372.3 1049.1 1382.8 1056.2 1372.3 1049.1 1361.8 1042.0 1372.3ZM1513.9 1309.4 1516.0 1311.1 1517.7 1309.4 1516.0 1304.7 1513.9 1309.4ZM1428.7 1288.4 1431.2 1294.9 1433.6 1288.4 1431.2 1284.8 1428.7 1288.4ZM1327.8 1225.5 1332.1 1236.1 1336.9 1225.5 1332.1 1212.0 1327.8 1225.5ZM1398.7 806.1 1402.9 808.3 1417.0 811.3 1420.2 806.1 1427.1 785.1 1431.2 774.1 1445.3 774.6 1452.1 785.1 1459.5 799.1 1466.6 806.1 1473.6 809.2 1479.7 806.1 1487.8 800.3 1501.9 790.4 1505.2 785.1 1516.1 766.3 1530.2 784.9 1530.4 785.1 1544.4 803.1 1546.7 806.1 1558.5 824.1 1572.7 818.0 1586.8 814.4 1601.0 821.8 1614.6 806.1 1615.1 805.7 1629.2 797.7 1643.4 801.1 1657.5 804.3 1663.3 806.1 1671.7 809.5 1685.9 813.2 1685.9 806.1 1685.9 785.1 1685.9 780.3 1675.4 785.1 1671.7 786.1 1667.4 785.1 1657.6 781.1 1643.4 771.4 1629.2 767.7 1615.1 771.9 1601.0 773.5 1586.8 770.3 1572.7 777.4 1558.5 783.7 1544.4 773.6 1536.6 764.1 1530.2 754.0 1522.9 743.2 1516.0 734.7 1501.9 735.5 1487.8 741.1 1486.6 743.2 1476.8 764.1 1473.6 768.6 1471.4 764.1 1465.6 743.2 1468.7 722.2 1473.6 715.9 1485.6 701.2 1487.8 698.9 1492.0 680.3 1487.8 672.5 1480.1 680.3 1473.6 691.7 1459.5 701.1 1459.3 701.2 1445.3 715.8 1431.2 720.7 1429.5 722.2 1419.1 743.2 1417.0 748.2 1405.8 743.2 1402.9 742.5 1401.4 743.2 1388.7 756.7 1382.7 743.2 1374.5 731.1 1360.4 731.6 1346.2 736.0 1332.1 736.1 1318.0 738.3 1304.9 722.2 1303.8 721.8 1302.8 722.2 1289.7 727.9 1286.4 722.2 1289.7 709.2 1291.9 701.2 1289.7 695.7 1277.8 680.3 1275.5 678.0 1274.5 680.3 1268.1 701.2 1261.3 713.7 1257.0 722.2 1247.2 732.7 1240.1 743.2 1233.1 748.4 1226.0 743.2 1229.5 722.2 1218.9 706.5 1211.8 701.2 1204.8 690.7 1201.2 680.3 1190.6 664.5 1180.0 680.3 1176.5 690.7 1162.3 696.0 1148.2 685.5 1134.0 683.8 1119.8 690.7 1105.7 696.0 1095.1 680.3 1105.7 664.5 1119.8 669.8 1126.9 659.3 1119.8 648.8 1105.7 654.0 1091.6 643.6 1084.5 638.3 1077.4 633.1 1066.8 617.3 1063.2 612.1 1056.2 617.3 1049.1 627.8 1042.0 638.3 1049.1 643.6 1063.2 643.6 1077.4 648.8 1080.9 659.3 1077.4 669.8 1070.3 680.3 1063.2 685.5 1052.6 701.2 1049.1 706.5 1038.5 722.2 1035.0 727.4 1020.8 727.4 1013.7 722.2 1020.8 711.7 1024.3 701.2 1027.9 680.3 1020.8 675.0 1006.7 664.5 1003.1 659.3 999.6 638.3 992.5 627.8 985.4 638.3 981.9 659.3 992.5 675.0 996.0 680.3 996.0 701.2 992.5 711.7 985.4 701.2 978.4 690.7 974.8 680.3 964.2 672.4 950.0 667.2 935.9 662.8 933.5 659.3 928.8 638.3 921.8 636.9 908.6 617.3 907.6 615.9 896.0 596.4 893.5 592.6 883.1 575.4 883.1 554.4 883.1 533.5 881.6 533.5 881.6 554.4 881.6 575.4 893.5 595.1 894.3 596.4 900.5 617.3 900.5 638.3 907.6 648.8 921.8 643.6 928.8 659.3 935.9 669.8 950.0 672.4 964.2 677.6 967.7 680.3 971.3 701.2 964.2 711.7 957.1 722.2 964.2 727.4 971.3 722.2 978.4 711.7 985.4 722.2 992.5 727.4 1006.7 732.7 1020.8 737.9 1035.0 737.9 1045.6 722.2 1049.1 717.0 1059.7 701.2 1063.2 696.0 1070.3 701.2 1070.3 722.2 1077.4 732.7 1091.6 737.9 1098.6 743.2 1105.7 753.7 1109.2 743.2 1116.3 722.2 1119.8 711.7 1123.4 701.2 1134.0 690.7 1148.2 696.0 1155.2 701.2 1162.3 711.7 1176.5 711.7 1190.6 711.7 1204.8 706.5 1218.9 717.0 1222.4 722.2 1218.9 732.7 1211.8 743.2 1218.9 753.7 1233.1 758.9 1247.2 753.7 1261.3 745.9 1275.5 748.7 1289.7 759.9 1303.8 761.5 1318.0 763.7 1332.1 763.3 1333.1 764.1 1345.2 785.1 1346.2 786.1 1354.0 785.1 1360.4 783.4 1374.5 774.8 1379.7 785.1 1388.7 799.8 1398.7 806.1ZM992.5 664.5 989.0 659.3 992.5 648.8 996.0 659.3 992.5 664.5ZM1006.7 711.7 1003.1 701.2 1003.1 680.3 1006.7 675.0 1013.7 680.3 1013.7 701.2 1006.7 711.7ZM1091.6 727.4 1084.5 722.2 1091.6 711.7 1105.7 711.7 1109.2 722.2 1105.7 732.7 1091.6 727.4ZM1190.6 690.7 1187.1 680.3 1190.6 675.0 1194.1 680.3 1190.6 690.7ZM1091.6 669.8 1088.0 659.3 1091.6 654.0 1098.6 659.3 1091.6 669.8ZM947.7 764.1 950.1 769.4 957.1 764.1 950.1 753.7 947.7 764.1ZM1027.9 764.1 1035.0 774.6 1038.5 764.1 1035.0 753.7 1027.9 764.1ZM904.1 743.2 907.6 748.4 914.7 743.2 921.8 732.7 925.3 722.2 921.8 711.7 914.7 701.2 914.7 680.3 907.6 669.8 893.5 664.5 882.8 680.3 893.5 696.0 900.5 701.2 907.6 711.7 914.7 722.2 907.6 732.7 904.1 743.2ZM893.5 685.5 889.9 680.3 893.5 675.0 900.5 680.3 893.5 685.5ZM858.1 722.2 865.1 732.7 868.7 722.2 865.1 711.7 858.1 722.2ZM843.9 680.3 851.0 690.7 865.1 690.7 872.2 680.3 865.1 675.0 854.5 659.3 854.5 638.3 851.0 633.1 843.9 638.3 843.9 659.3 843.9 680.3ZM1013.7 617.3 1020.8 627.8 1027.9 617.3 1020.8 613.1 1013.7 617.3ZM1271.2 617.3 1275.5 622.0 1276.5 617.3 1275.5 616.3 1271.2 617.3Z" fill="#AAFF55" stroke="#AAFF55" stroke-width="1" fill-rule="evenodd"/>
<path d="M815.6 1603.0 822.7 1603.0 836.9 1603.0 843.9 1603.0 836.9 1592.5 822.7 1592.5 815.6 1603.0ZM872.2 1582.0 879.3 1592.5 882.8 1603.0 889.9 1603.0 893.5 1592.5 907.6 1592.5 914.7 1603.0 921.8 1603.0 928.8 1603.0 928.8 1582.0 921.8 1571.5 907.6 1571.5 893.5 1571.5 886.4 1561.1 879.3 1550.6 872.2 1561.1 872.2 1582.0ZM953.6 1582.0 964.2 1592.5 978.4 1587.3 985.4 1603.0 990.1 1603.0 985.4 1582.0 992.5 1576.8 1006.7 1576.8 1013.7 1582.0 1013.7 1603.0 1020.8 1603.0 1027.9 1603.0 1027.9 1582.0 1035.0 1576.8 1042.0 1582.0 1042.0 1603.0 1049.1 1603.0 1063.2 1603.0 1077.4 1603.0 1084.5 1603.0 1084.5 1582.0 1084.5 1561.1 1091.6 1550.6 1098.6 1540.1 1091.6 1534.8 1077.4 1529.6 1070.3 1519.1 1063.2 1513.9 1059.7 1519.1 1056.2 1540.1 1063.2 1545.3 1073.9 1561.1 1063.2 1576.8 1049.1 1571.5 1045.6 1561.1 1042.0 1540.1 1035.0 1534.8 1020.8 1524.4 1010.2 1540.1 1013.7 1561.1 1006.7 1566.3 992.5 1566.3 985.4 1561.1 978.4 1550.6 964.2 1545.3 957.1 1561.1 953.6 1582.0ZM964.2 1585.5 960.7 1582.0 961.8 1561.1 964.2 1555.8 971.3 1561.1 971.3 1582.0 964.2 1585.5ZM1035.0 1566.3 1027.9 1561.1 1020.8 1550.6 1017.3 1540.1 1020.8 1534.8 1027.9 1540.1 1035.0 1550.6 1038.5 1561.1 1035.0 1566.3ZM1153.5 1603.0 1157.0 1603.0 1157.0 1582.0 1157.0 1561.1 1162.3 1553.2 1171.1 1540.1 1176.5 1529.6 1190.6 1524.4 1204.8 1529.6 1208.3 1540.1 1208.3 1561.1 1208.3 1582.0 1208.3 1603.0 1215.4 1603.0 1215.4 1582.0 1215.4 1561.1 1215.4 1540.1 1218.9 1529.6 1233.1 1529.6 1240.1 1540.1 1240.1 1561.1 1240.1 1582.0 1240.1 1603.0 1247.2 1603.0 1261.3 1603.0 1275.5 1603.0 1289.7 1603.0 1303.8 1603.0 1318.0 1603.0 1332.1 1603.0 1346.2 1603.0 1360.4 1603.0 1374.5 1603.0 1388.7 1603.0 1402.9 1603.0 1417.0 1603.0 1431.2 1603.0 1445.3 1603.0 1459.5 1603.0 1473.6 1603.0 1487.8 1603.0 1501.9 1603.0 1516.0 1603.0 1530.2 1603.0 1540.1 1603.0 1530.2 1588.3 1526.0 1582.0 1516.0 1567.3 1511.8 1561.1 1501.9 1546.4 1497.7 1540.1 1487.8 1525.4 1483.5 1519.1 1475.8 1498.1 1473.6 1495.9 1469.3 1498.1 1463.7 1519.1 1463.7 1540.1 1459.5 1546.4 1452.4 1561.1 1445.3 1571.5 1438.2 1561.1 1438.2 1540.1 1438.2 1519.1 1440.0 1498.1 1445.3 1484.5 1451.4 1477.2 1445.3 1466.1 1431.2 1466.4 1428.0 1456.2 1422.8 1435.2 1417.0 1419.2 1413.7 1414.3 1402.9 1404.5 1388.7 1396.9 1384.7 1393.3 1374.5 1381.4 1368.1 1393.3 1360.8 1414.3 1360.4 1414.8 1359.1 1414.3 1346.2 1406.0 1340.1 1393.3 1332.1 1379.0 1322.7 1372.3 1318.0 1369.9 1316.4 1372.3 1312.7 1393.3 1318.0 1406.5 1321.7 1414.3 1317.9 1423.4 1303.8 1432.4 1301.4 1435.2 1298.9 1456.2 1296.9 1477.2 1293.3 1498.1 1289.7 1508.9 1275.5 1506.5 1261.3 1503.1 1258.0 1498.1 1253.7 1477.2 1247.2 1466.7 1240.1 1456.2 1233.1 1445.7 1218.9 1445.7 1211.8 1456.2 1204.8 1466.7 1197.7 1456.2 1197.7 1435.2 1204.8 1424.7 1211.8 1414.3 1218.9 1403.8 1226.0 1414.3 1233.1 1424.7 1247.2 1424.7 1261.3 1418.5 1267.0 1414.3 1275.5 1407.9 1283.4 1414.3 1289.7 1420.8 1293.3 1414.3 1289.7 1406.8 1284.2 1393.3 1289.7 1381.4 1292.8 1372.3 1289.7 1366.3 1281.1 1372.3 1275.5 1377.3 1272.5 1372.3 1261.3 1359.1 1247.2 1361.8 1233.1 1361.8 1226.0 1351.3 1226.0 1330.4 1226.0 1309.4 1218.9 1298.9 1211.8 1288.4 1204.8 1277.0 1195.0 1267.5 1190.6 1261.6 1183.2 1267.5 1176.5 1272.9 1170.7 1267.5 1162.3 1262.6 1148.2 1258.1 1135.2 1246.5 1134.0 1244.9 1119.8 1226.2 1105.7 1230.1 1091.9 1246.5 1091.6 1246.8 1090.7 1246.5 1077.4 1239.4 1063.2 1231.5 1049.1 1227.3 1044.1 1225.5 1035.0 1220.4 1030.2 1225.5 1020.8 1233.5 1006.7 1227.3 992.5 1230.2 978.3 1227.1 977.9 1225.5 969.5 1204.5 964.2 1195.5 950.1 1193.8 935.9 1202.3 933.6 1204.5 921.8 1210.2 908.9 1204.5 907.6 1203.3 893.5 1195.5 879.3 1188.4 869.1 1204.5 865.2 1212.0 857.7 1225.5 862.3 1246.5 865.1 1248.8 879.3 1255.3 893.5 1250.1 906.3 1246.5 907.6 1246.0 907.8 1246.5 919.9 1267.5 921.8 1271.0 925.4 1267.5 935.9 1259.2 950.1 1263.5 958.5 1267.5 964.2 1270.5 966.4 1267.5 978.3 1253.8 992.5 1260.1 995.5 1267.5 999.6 1288.4 1006.7 1298.9 1020.8 1298.9 1035.0 1298.9 1049.1 1298.9 1063.2 1298.9 1077.4 1298.9 1084.5 1309.4 1091.6 1319.9 1105.7 1319.9 1112.8 1330.4 1119.8 1340.9 1134.0 1340.9 1141.1 1351.3 1148.2 1361.8 1155.2 1372.3 1148.2 1382.8 1141.1 1372.3 1134.0 1361.8 1119.8 1361.8 1112.8 1372.3 1105.7 1382.8 1091.6 1382.8 1084.5 1372.3 1077.4 1361.8 1070.3 1351.3 1077.4 1340.9 1084.5 1330.4 1077.4 1319.9 1063.2 1319.9 1049.1 1319.9 1035.0 1319.9 1027.9 1330.4 1027.9 1351.3 1020.8 1361.8 1013.7 1351.3 1006.7 1340.9 999.6 1330.4 992.5 1319.9 978.4 1319.9 971.3 1330.4 964.2 1340.9 950.1 1340.9 943.0 1351.3 935.9 1361.8 928.8 1372.3 921.8 1382.8 907.6 1382.8 893.5 1382.8 879.3 1382.8 872.2 1393.3 865.1 1403.8 851.0 1403.8 836.9 1403.8 822.7 1403.8 808.6 1403.8 808.6 1414.3 808.6 1424.7 815.6 1435.2 815.6 1456.2 822.7 1466.7 836.9 1466.7 851.0 1466.7 858.1 1456.2 865.1 1445.7 879.3 1445.7 893.5 1445.7 900.5 1456.2 907.6 1466.7 914.7 1456.2 907.6 1445.7 900.5 1435.2 907.6 1424.7 914.7 1414.3 921.8 1403.8 935.9 1403.8 943.0 1414.3 943.0 1435.2 950.1 1445.7 957.1 1435.2 964.2 1424.7 971.3 1414.3 964.2 1403.8 957.1 1393.3 964.2 1382.8 978.4 1382.8 985.4 1393.3 985.4 1414.3 985.4 1435.2 978.4 1445.7 971.3 1456.2 978.4 1466.7 985.4 1456.2 992.5 1445.7 1006.7 1445.7 1013.7 1456.2 1020.8 1466.7 1027.9 1456.2 1035.0 1445.7 1049.1 1445.7 1063.2 1445.7 1077.4 1445.7 1084.5 1456.2 1091.6 1466.7 1105.7 1466.7 1112.8 1477.2 1112.8 1498.1 1119.8 1508.6 1134.0 1508.6 1148.2 1508.6 1155.2 1498.1 1155.2 1477.2 1148.2 1466.7 1141.1 1456.2 1141.1 1435.2 1148.2 1424.7 1155.2 1435.2 1162.3 1445.7 1169.4 1456.2 1176.5 1466.7 1190.6 1466.7 1197.7 1477.2 1190.6 1487.7 1187.1 1498.1 1183.5 1519.1 1176.5 1522.6 1167.6 1540.1 1162.3 1548.0 1153.5 1561.1 1153.5 1582.0 1153.5 1603.0ZM1233.1 1508.6 1226.0 1498.1 1233.1 1487.7 1240.1 1498.1 1233.1 1508.6ZM1303.8 1524.2 1301.0 1519.1 1303.8 1505.1 1308.9 1519.1 1303.8 1524.2ZM1332.1 1513.3 1327.1 1498.1 1332.1 1482.9 1334.9 1477.2 1340.0 1456.2 1346.2 1444.5 1351.6 1456.2 1352.6 1477.2 1346.2 1496.0 1344.2 1498.1 1332.1 1513.3ZM1119.8 1319.9 1112.8 1309.4 1112.8 1288.4 1110.2 1267.5 1119.8 1247.5 1129.5 1267.5 1134.0 1275.3 1141.1 1288.4 1134.0 1298.9 1126.9 1309.4 1119.8 1319.9ZM1148.2 1340.9 1141.1 1330.4 1141.1 1309.4 1148.2 1298.9 1155.2 1309.4 1155.2 1330.4 1148.2 1340.9ZM1020.8 1424.7 1013.7 1414.3 1020.8 1403.8 1035.0 1403.8 1042.0 1414.3 1035.0 1424.7 1020.8 1424.7ZM1049.1 1382.8 1042.0 1372.3 1049.1 1361.8 1056.2 1372.3 1049.1 1382.8ZM1063.2 1424.7 1056.2 1414.3 1063.2 1403.8 1070.3 1414.3 1063.2 1424.7ZM1105.7 1445.7 1098.6 1435.2 1105.7 1424.7 1112.8 1435.2 1105.7 1445.7ZM1119.8 1466.7 1112.8 1456.2 1119.8 1445.7 1126.9 1456.2 1119.8 1466.7ZM1190.6 1403.8 1183.5 1393.3 1190.6 1382.8 1197.7 1393.3 1190.6 1403.8ZM1190.6 1340.9 1183.5 1330.4 1190.6 1319.9 1197.7 1330.4 1190.6 1340.9ZM1550.6 1561.1 1558.5 1572.7 1566.4 1561.1 1558.5 1549.4 1552.2 1540.1 1552.2 1519.1 1554.0 1498.1 1554.0 1477.2 1554.0 1456.2 1544.3 1436.8 1530.2 1444.8 1523.2 1456.2 1516.0 1467.3 1512.2 1477.2 1511.1 1498.1 1516.0 1509.8 1522.3 1519.1 1530.2 1530.8 1536.5 1540.1 1544.4 1551.7 1550.6 1561.1ZM808.6 1540.1 808.6 1550.6 812.1 1540.1 808.6 1534.8 808.6 1540.1ZM943.0 1498.1 950.1 1508.6 957.1 1498.1 957.1 1477.2 950.1 1466.7 943.0 1477.2 943.0 1498.1ZM985.4 1498.1 992.5 1508.6 999.6 1498.1 992.5 1487.7 985.4 1498.1ZM1273.3 1477.2 1275.5 1483.3 1277.5 1477.2 1279.7 1456.2 1275.5 1447.7 1271.4 1456.2 1273.3 1477.2ZM1584.6 1393.3 1586.8 1396.3 1591.6 1393.3 1586.8 1380.8 1584.6 1393.3ZM858.1 1372.3 865.1 1382.8 872.2 1372.3 879.3 1361.8 886.4 1351.3 879.3 1340.9 865.1 1340.9 858.1 1351.3 858.1 1372.3ZM900.5 1351.3 907.6 1361.8 914.7 1351.3 907.6 1340.9 900.5 1351.3ZM1301.2 1330.4 1303.8 1336.6 1306.4 1330.4 1303.8 1324.4 1301.2 1330.4ZM1668.5 1225.5 1671.7 1233.0 1674.9 1225.5 1671.7 1218.8 1668.5 1225.5ZM917.2 1183.6 921.8 1192.5 926.1 1183.6 921.8 1177.2 917.2 1183.6ZM1636.7 1162.6 1643.4 1163.9 1657.5 1167.6 1671.7 1173.1 1685.9 1179.4 1685.9 1162.6 1685.9 1145.0 1671.7 1143.7 1666.1 1141.6 1657.6 1136.5 1643.4 1125.8 1629.2 1122.3 1618.7 1120.7 1615.1 1120.2 1608.8 1120.7 1601.0 1121.1 1586.8 1122.3 1572.7 1123.8 1567.0 1120.7 1558.5 1113.3 1544.4 1100.9 1530.2 1100.1 1516.2 1099.7 1516.0 1099.7 1501.9 1098.3 1487.8 1095.7 1477.6 1099.7 1473.6 1101.9 1459.5 1111.3 1445.3 1105.8 1431.2 1101.2 1429.7 1099.7 1417.0 1083.9 1402.9 1085.3 1388.7 1080.8 1384.7 1078.7 1374.5 1071.7 1360.4 1060.8 1346.2 1069.7 1332.1 1065.7 1320.0 1057.7 1318.0 1056.3 1303.8 1045.4 1290.3 1036.8 1289.7 1036.4 1275.5 1034.6 1261.3 1029.9 1251.5 1036.8 1247.2 1039.6 1244.8 1036.8 1233.1 1027.0 1219.0 1015.8 1218.9 1015.7 1204.8 1011.9 1190.6 1012.9 1176.5 1012.8 1162.3 1006.5 1148.2 1004.7 1139.9 1015.8 1134.0 1025.2 1129.4 1015.8 1119.9 996.3 1118.7 994.8 1105.7 979.2 1091.6 985.7 1077.4 991.9 1071.3 994.8 1063.2 998.9 1049.1 1002.1 1035.0 996.9 1031.8 994.8 1020.8 987.6 1011.1 994.8 1006.6 997.2 1003.3 994.8 992.5 984.2 985.3 973.9 978.4 964.1 964.2 967.6 951.0 952.9 950.0 951.5 935.9 950.8 934.0 952.9 921.8 963.6 907.6 959.3 893.5 954.7 879.3 961.0 865.1 956.2 853.6 952.9 851.0 951.6 836.9 945.1 822.7 943.4 808.9 952.9 808.6 953.1 808.6 973.9 808.6 974.6 810.0 973.9 822.7 965.8 836.9 966.3 851.0 972.1 854.7 973.9 865.1 978.9 879.3 987.5 893.5 981.2 907.6 987.1 921.8 990.3 935.9 981.4 948.5 994.8 950.1 996.0 956.3 994.8 964.2 993.2 978.4 988.9 982.5 994.8 992.5 1012.4 1006.7 1015.7 1020.8 1010.4 1027.4 1015.8 1035.0 1022.5 1049.1 1026.1 1063.2 1023.1 1077.4 1018.9 1091.6 1016.4 1096.2 1015.8 1105.7 1013.7 1107.3 1015.8 1119.8 1032.0 1122.2 1036.8 1134.0 1054.9 1148.2 1037.1 1150.8 1036.8 1162.3 1035.2 1165.6 1036.8 1176.5 1041.0 1190.6 1044.9 1204.8 1047.0 1218.9 1039.1 1233.1 1049.4 1240.6 1057.7 1247.2 1065.4 1256.5 1057.7 1261.3 1054.7 1275.5 1055.0 1280.0 1057.7 1289.7 1065.4 1303.8 1068.9 1318.0 1077.7 1319.2 1078.7 1332.1 1092.3 1346.2 1099.7 1360.4 1079.7 1373.1 1099.7 1374.5 1101.2 1388.7 1108.6 1402.8 1116.4 1417.0 1114.9 1423.2 1120.7 1431.2 1126.6 1445.3 1135.6 1459.4 1141.6 1459.5 1141.7 1459.5 1141.6 1473.6 1135.0 1487.8 1130.2 1501.9 1133.1 1516.0 1135.2 1530.2 1129.5 1544.4 1136.5 1558.5 1140.7 1571.8 1141.6 1572.7 1141.8 1586.8 1148.6 1601.0 1153.6 1615.1 1154.5 1629.2 1160.8 1636.7 1162.6ZM1385.6 869.0 1388.7 873.0 1391.4 869.0 1402.9 849.0 1405.2 848.0 1417.0 845.6 1431.2 842.6 1437.5 848.0 1445.3 853.2 1457.1 869.0 1459.5 871.1 1462.3 869.0 1473.6 851.2 1487.8 850.4 1490.4 848.0 1501.9 833.7 1507.7 827.1 1516.1 817.0 1522.3 827.1 1530.2 838.3 1539.4 848.0 1544.4 852.4 1558.5 865.7 1572.7 861.4 1586.8 857.2 1600.8 869.0 1601.0 869.1 1601.0 869.0 1614.5 848.0 1615.1 847.2 1629.2 835.0 1643.4 829.6 1657.5 837.0 1671.7 841.4 1685.9 844.6 1685.9 827.1 1685.9 813.2 1671.7 809.5 1663.3 806.1 1657.5 804.3 1643.4 801.1 1629.2 797.7 1615.1 805.7 1614.6 806.1 1601.0 821.8 1586.8 814.4 1572.7 818.0 1558.5 824.1 1546.7 806.1 1544.4 803.1 1530.4 785.1 1530.2 784.9 1516.1 766.3 1505.2 785.1 1501.9 790.4 1487.8 800.3 1479.7 806.1 1473.6 809.2 1466.6 806.1 1459.5 799.1 1452.1 785.1 1445.3 774.6 1431.2 774.1 1427.1 785.1 1420.2 806.1 1417.0 811.3 1402.9 808.3 1398.7 806.1 1388.7 799.8 1379.7 785.1 1374.5 774.8 1360.4 783.4 1354.0 785.1 1346.3 786.1 1345.2 785.1 1333.1 764.1 1332.1 763.3 1318.0 763.7 1303.8 761.5 1289.7 759.9 1275.5 748.7 1261.3 745.9 1247.2 753.7 1233.1 758.9 1218.9 753.7 1211.8 743.2 1218.9 732.7 1222.4 722.2 1218.9 717.0 1204.8 706.5 1190.6 711.7 1176.5 711.7 1162.3 711.7 1155.2 701.2 1148.2 696.0 1134.0 690.7 1123.4 701.2 1119.8 711.7 1116.3 722.2 1109.2 743.2 1105.7 753.7 1098.6 743.2 1091.6 737.9 1077.4 732.7 1070.3 722.2 1070.3 701.2 1063.2 696.0 1059.7 701.2 1049.1 717.0 1045.6 722.2 1035.0 737.9 1020.8 737.9 1006.7 732.7 992.5 727.4 985.4 722.2 978.4 711.7 971.3 722.2 964.2 727.4 957.1 722.2 964.2 711.7 971.3 701.2 967.7 680.3 964.2 677.6 950.0 672.4 935.9 669.8 928.8 659.3 921.8 643.6 907.6 648.8 900.5 638.3 900.5 617.3 894.3 596.4 893.5 595.1 881.6 575.4 881.6 554.4 881.6 533.5 880.1 533.5 880.1 554.4 880.1 575.4 886.4 596.4 886.4 617.3 886.4 638.3 886.4 659.3 879.3 669.8 865.1 664.5 861.6 659.3 861.6 638.3 851.0 622.6 843.9 617.3 836.9 606.9 833.3 617.3 833.3 638.3 833.3 659.3 833.3 680.3 836.9 690.7 843.9 701.2 847.5 722.2 843.9 743.2 843.9 764.1 851.0 769.4 854.5 764.1 865.1 748.4 872.2 743.2 875.8 722.2 872.2 701.2 879.3 690.7 886.4 701.2 886.4 722.2 893.5 732.7 897.0 743.2 907.6 758.9 921.8 748.4 925.3 743.2 932.4 722.2 928.8 701.2 928.8 680.3 935.9 676.8 950.1 677.6 957.1 680.3 960.7 701.2 950.1 717.0 943.0 722.2 946.5 743.2 943.0 764.1 950.1 779.9 964.2 769.4 971.3 764.1 964.2 753.7 957.1 743.2 964.2 737.9 978.4 732.7 992.5 737.9 999.6 743.2 1006.7 748.4 1017.3 764.1 1018.4 785.1 1020.8 795.6 1035.0 790.4 1042.0 785.1 1045.6 764.1 1038.5 743.2 1049.1 727.4 1059.7 743.2 1056.2 764.1 1063.2 774.6 1070.3 764.1 1077.4 753.7 1084.5 764.1 1091.6 774.6 1105.7 774.6 1109.2 764.1 1116.3 743.2 1119.8 732.7 1126.9 722.2 1130.5 701.2 1134.0 697.7 1141.1 701.2 1141.1 722.2 1141.1 743.2 1148.2 748.4 1155.2 743.2 1162.3 732.7 1169.4 743.2 1176.5 753.7 1183.5 764.1 1190.6 774.6 1204.8 774.6 1211.8 785.1 1204.8 795.6 1197.7 806.1 1201.2 827.1 1204.8 837.5 1211.8 827.1 1218.9 816.6 1226.0 806.1 1226.0 785.1 1233.1 774.6 1240.1 785.1 1240.1 806.1 1247.2 816.6 1261.3 819.6 1274.8 827.1 1275.5 827.5 1289.7 831.0 1303.8 828.2 1318.0 830.6 1320.5 827.1 1332.1 807.3 1346.2 814.0 1356.8 827.1 1360.4 832.0 1371.6 848.0 1374.5 851.6 1385.6 869.0ZM851.0 690.7 843.9 680.3 843.9 659.3 843.9 638.3 851.0 633.1 854.5 638.3 854.5 659.3 865.1 675.0 872.2 680.3 865.1 690.7 851.0 690.7ZM865.1 732.7 858.1 722.2 865.1 711.7 868.7 722.2 865.1 732.7ZM907.6 748.4 904.1 743.2 907.6 732.7 914.7 722.2 907.6 711.7 900.5 701.2 893.5 696.0 882.8 680.3 893.5 664.5 907.6 669.8 914.7 680.3 914.7 701.2 921.8 711.7 925.3 722.2 921.8 732.7 914.7 743.2 907.6 748.4ZM950.1 769.4 947.7 764.1 950.1 753.7 957.1 764.1 950.1 769.4ZM1035.0 774.6 1027.9 764.1 1035.0 753.7 1038.5 764.1 1035.0 774.6ZM1204.8 732.7 1197.7 722.2 1204.8 717.0 1211.8 722.2 1204.8 732.7ZM1261.3 775.4 1257.3 764.1 1261.3 761.1 1264.2 764.1 1261.3 775.4ZM921.8 669.8 914.7 659.3 921.8 654.0 924.1 659.3 921.8 669.8ZM1003.1 701.2 1006.7 711.7 1013.7 701.2 1013.7 680.3 1006.7 675.0 1003.1 680.3 1003.1 701.2ZM1187.1 680.3 1190.6 690.7 1194.1 680.3 1190.6 675.0 1187.1 680.3ZM989.0 659.3 992.5 664.5 996.0 659.3 992.5 648.8 989.0 659.3ZM1088.0 659.3 1091.6 669.8 1098.6 659.3 1091.6 654.0 1088.0 659.3Z" fill="#FFFF00" stroke="#FFFF00" stroke-width="1" fill-rule="evenodd"/>
<path d="M808.6 1603.0 815.6 1603.0 822.7 1592.5 836.9 1592.5 843.9 1603.0 851.0 1603.0 858.1 1603.0 865.1 1592.5 872.2 1603.0 879.3 1603.0 882.8 1603.0 879.3 1592.5 872.2 1582.0 872.2 1561.1 879.3 1550.6 886.4 1561.1 893.5 1571.5 907.6 1571.5 921.8 1571.5 928.8 1582.0 928.8 1603.0 935.9 1603.0 943.0 1603.0 950.1 1592.5 964.2 1599.5 978.4 1597.8 980.7 1603.0 985.4 1603.0 978.4 1587.3 964.2 1592.5 953.6 1582.0 957.1 1561.1 964.2 1545.3 978.4 1550.6 985.4 1561.1 992.5 1566.3 1006.7 1566.3 1013.7 1561.1 1010.2 1540.1 1020.8 1524.4 1035.0 1534.8 1042.0 1540.1 1045.6 1561.1 1049.1 1571.5 1063.2 1576.8 1073.9 1561.1 1063.2 1545.3 1056.2 1540.1 1059.7 1519.1 1063.2 1513.9 1070.3 1519.1 1077.4 1529.6 1091.6 1534.8 1098.6 1540.1 1091.6 1550.6 1084.5 1561.1 1084.5 1582.0 1084.5 1603.0 1091.6 1603.0 1105.7 1603.0 1119.8 1603.0 1134.0 1603.0 1141.1 1603.0 1134.0 1592.5 1126.9 1582.0 1126.9 1561.1 1119.8 1550.6 1112.8 1540.1 1119.8 1529.6 1134.0 1529.6 1148.2 1529.6 1155.2 1519.1 1162.3 1508.6 1169.4 1519.1 1164.1 1540.1 1162.3 1542.7 1149.9 1561.1 1149.9 1582.0 1149.9 1603.0 1153.5 1603.0 1153.5 1582.0 1153.5 1561.1 1162.3 1548.0 1167.6 1540.1 1176.5 1522.6 1183.5 1519.1 1187.1 1498.1 1190.6 1487.7 1197.7 1477.2 1190.6 1466.7 1176.5 1466.7 1169.4 1456.2 1162.3 1445.7 1155.2 1435.2 1148.2 1424.7 1141.1 1435.2 1141.1 1456.2 1148.2 1466.7 1155.2 1477.2 1155.2 1498.1 1148.2 1508.6 1134.0 1508.6 1119.8 1508.6 1112.8 1498.1 1112.8 1477.2 1105.7 1466.7 1091.6 1466.7 1084.5 1456.2 1077.4 1445.7 1063.2 1445.7 1049.1 1445.7 1035.0 1445.7 1027.9 1456.2 1020.8 1466.7 1013.7 1456.2 1006.7 1445.7 992.5 1445.7 985.4 1456.2 978.4 1466.7 971.3 1456.2 978.4 1445.7 985.4 1435.2 985.4 1414.3 985.4 1393.3 978.4 1382.8 964.2 1382.8 957.1 1393.3 964.2 1403.8 971.3 1414.3 964.2 1424.7 957.1 1435.2 950.1 1445.7 943.0 1435.2 943.0 1414.3 935.9 1403.8 921.8 1403.8 914.7 1414.3 907.6 1424.7 900.5 1435.2 907.6 1445.7 914.7 1456.2 907.6 1466.7 900.5 1456.2 893.5 1445.7 879.3 1445.7 865.1 1445.7 858.1 1456.2 851.0 1466.7 836.9 1466.7 822.7 1466.7 815.6 1456.2 815.6 1435.2 808.6 1424.7 808.6 1435.2 808.6 1456.2 808.6 1477.2 808.6 1487.7 822.7 1487.7 829.8 1498.1 836.9 1508.6 851.0 1508.6 865.1 1508.6 872.2 1519.1 875.8 1540.1 865.1 1555.8 858.1 1561.1 851.0 1571.5 843.9 1561.1 836.9 1550.6 822.7 1550.6 819.2 1540.1 808.6 1524.4 808.6 1534.8 812.1 1540.1 808.6 1550.6 808.6 1561.1 808.6 1582.0 808.6 1603.0ZM907.6 1550.6 900.5 1540.1 907.6 1529.6 914.7 1540.1 907.6 1550.6ZM921.8 1529.6 914.7 1519.1 921.8 1508.6 928.8 1519.1 921.8 1529.6ZM935.9 1571.5 928.8 1561.1 935.9 1550.6 943.0 1540.1 950.1 1529.6 957.1 1540.1 952.4 1561.1 950.1 1571.5 935.9 1571.5ZM992.5 1508.6 985.4 1498.1 992.5 1487.7 999.6 1498.1 992.5 1508.6ZM1006.7 1487.7 999.6 1477.2 1006.7 1466.7 1013.7 1477.2 1006.7 1487.7ZM1035.0 1524.4 1027.9 1519.1 1027.9 1498.1 1027.9 1477.2 1035.0 1466.7 1042.0 1477.2 1049.1 1487.7 1056.2 1477.2 1063.2 1466.7 1070.3 1477.2 1070.3 1498.1 1063.2 1503.4 1052.6 1519.1 1049.1 1529.6 1035.0 1524.4ZM1063.2 1566.3 1056.2 1561.1 1063.2 1555.8 1066.8 1561.1 1063.2 1566.3ZM1091.6 1524.4 1084.5 1519.1 1084.5 1498.1 1091.6 1487.7 1098.6 1498.1 1105.7 1508.6 1112.8 1519.1 1105.7 1529.6 1091.6 1524.4ZM1176.5 1508.6 1169.4 1498.1 1176.5 1487.7 1180.0 1498.1 1176.5 1508.6ZM950.1 1508.6 943.0 1498.1 943.0 1477.2 950.1 1466.7 957.1 1477.2 957.1 1498.1 950.1 1508.6ZM1027.9 1603.0 1035.0 1603.0 1042.0 1603.0 1042.0 1582.0 1035.0 1576.8 1027.9 1582.0 1027.9 1603.0ZM1215.4 1603.0 1218.9 1603.0 1233.1 1603.0 1240.1 1603.0 1240.1 1582.0 1240.1 1561.1 1240.1 1540.1 1233.1 1529.6 1218.9 1529.6 1215.4 1540.1 1215.4 1561.1 1215.4 1582.0 1215.4 1603.0ZM1301.0 1519.1 1303.8 1524.2 1308.9 1519.1 1303.8 1505.1 1301.0 1519.1ZM1226.0 1498.1 1233.1 1508.6 1240.1 1498.1 1233.1 1487.7 1226.0 1498.1ZM1112.8 1456.2 1119.8 1466.7 1126.9 1456.2 1119.8 1445.7 1112.8 1456.2ZM1098.6 1435.2 1105.7 1445.7 1112.8 1435.2 1105.7 1424.7 1098.6 1435.2ZM1013.7 1414.3 1020.8 1424.7 1035.0 1424.7 1042.0 1414.3 1035.0 1403.8 1020.8 1403.8 1013.7 1414.3ZM1183.5 1393.3 1190.6 1403.8 1197.7 1393.3 1190.6 1382.8 1183.5 1393.3ZM1141.1 1330.4 1148.2 1340.9 1155.2 1330.4 1155.2 1309.4 1148.2 1298.9 1141.1 1309.4 1141.1 1330.4ZM1183.5 1330.4 1190.6 1340.9 1197.7 1330.4 1190.6 1319.9 1183.5 1330.4ZM1112.8 1309.4 1119.8 1319.9 1126.9 1309.4 1134.0 1298.9 1141.1 1288.4 1134.0 1275.3 1129.5 1267.5 1119.8 1247.5 1110.2 1267.5 1112.8 1288.4 1112.8 1309.4ZM1666.1 1141.6 1671.7 1143.7 1685.9 1145.0 1685.9 1141.6 1685.9 1120.7 1685.9 1099.7 1685.9 1092.1 1671.7 1099.7 1657.5 1084.7 1643.4 1083.9 1629.2 1086.9 1615.1 1090.2 1601.0 1091.2 1588.3 1099.7 1586.8 1100.4 1584.5 1099.7 1572.7 1092.4 1558.5 1083.6 1552.5 1078.7 1544.4 1072.3 1530.2 1072.1 1516.0 1072.5 1501.9 1072.4 1487.8 1071.6 1473.6 1073.0 1464.9 1078.7 1459.5 1082.6 1451.8 1078.7 1445.3 1075.9 1431.2 1070.2 1417.0 1061.4 1408.1 1057.7 1402.9 1053.6 1388.7 1049.7 1376.4 1036.8 1374.5 1034.5 1360.4 1032.6 1353.9 1036.8 1346.2 1041.8 1332.1 1041.3 1326.7 1036.8 1318.0 1031.2 1303.8 1021.6 1289.9 1015.8 1289.7 1015.6 1275.5 1009.4 1261.3 1005.5 1247.2 1009.5 1233.1 1008.9 1218.9 998.4 1213.5 994.8 1204.8 985.7 1190.6 987.6 1176.5 983.8 1162.5 973.9 1162.3 973.7 1161.8 973.9 1148.2 976.7 1134.0 983.8 1127.8 973.9 1119.8 962.8 1105.7 957.1 1091.6 959.1 1077.4 968.2 1070.1 973.9 1063.2 977.7 1056.6 973.9 1049.1 966.7 1035.0 953.4 1034.4 952.9 1027.9 931.9 1027.9 910.9 1020.8 900.5 1013.7 910.9 1013.7 931.9 1016.6 952.9 1009.6 973.9 1006.7 976.5 1004.2 973.9 992.5 959.4 987.9 952.9 985.4 931.9 985.4 910.9 992.5 900.5 999.6 890.0 992.5 879.5 978.4 879.5 971.3 890.0 964.2 900.5 957.1 890.0 950.1 879.5 943.0 869.0 935.9 858.5 928.8 869.0 935.9 879.5 943.0 890.0 943.0 910.9 935.9 921.4 921.8 921.4 907.6 921.4 900.5 931.9 893.5 939.3 879.3 940.7 872.2 931.9 872.2 910.9 865.1 900.5 858.1 890.0 851.0 879.5 843.9 869.0 836.9 858.5 829.8 848.0 822.7 837.5 815.6 848.0 815.6 869.0 819.2 890.0 808.6 905.7 808.6 910.9 808.6 931.9 808.6 952.9 808.6 953.1 808.9 952.9 822.7 943.4 836.9 945.1 851.0 951.6 853.6 952.9 865.1 956.2 879.3 961.0 893.5 954.7 907.6 959.3 921.8 963.6 934.0 952.9 935.9 950.8 950.1 951.5 951.0 952.9 964.2 967.6 978.4 964.1 985.3 973.9 992.5 984.2 1003.3 994.8 1006.7 997.2 1011.1 994.8 1020.8 987.6 1031.8 994.8 1035.0 996.9 1049.1 1002.1 1063.2 998.9 1071.3 994.8 1077.4 991.9 1091.6 985.7 1105.7 979.2 1118.7 994.8 1119.8 996.3 1129.4 1015.8 1134.0 1025.2 1139.9 1015.8 1148.2 1004.7 1162.3 1006.5 1176.5 1012.8 1190.6 1012.9 1204.8 1011.9 1218.9 1015.7 1219.0 1015.8 1233.1 1027.0 1244.8 1036.8 1247.2 1039.6 1251.5 1036.8 1261.3 1029.9 1275.5 1034.6 1289.7 1036.4 1290.3 1036.8 1303.8 1045.4 1317.9 1056.3 1320.0 1057.7 1332.1 1065.7 1346.2 1069.7 1360.4 1060.8 1374.6 1071.7 1384.7 1078.7 1388.7 1080.8 1402.9 1085.3 1417.0 1083.9 1429.7 1099.7 1431.2 1101.2 1445.3 1105.8 1459.4 1111.3 1473.6 1101.9 1477.6 1099.7 1487.8 1095.7 1501.9 1098.3 1516.0 1099.7 1516.2 1099.7 1530.2 1100.1 1544.4 1100.9 1558.5 1113.3 1567.0 1120.7 1572.7 1123.8 1586.8 1122.3 1601.0 1121.1 1608.8 1120.7 1615.1 1120.2 1618.7 1120.7 1629.2 1122.3 1643.4 1125.8 1657.5 1136.5 1666.1 1141.6ZM1453.2 952.9 1459.5 958.9 1465.7 952.9 1473.6 933.9 1473.9 931.9 1478.2 910.9 1487.8 892.7 1501.9 898.0 1516.0 893.2 1530.2 896.3 1544.4 897.8 1555.3 910.9 1558.5 914.5 1566.0 910.9 1572.7 906.9 1586.8 900.0 1601.0 901.7 1615.1 895.3 1629.2 893.0 1643.4 894.1 1657.5 894.0 1671.7 893.8 1685.9 893.8 1685.9 890.0 1685.9 869.0 1685.9 848.0 1685.9 844.6 1671.7 841.4 1657.6 837.0 1643.4 829.6 1629.2 835.0 1615.1 847.2 1614.5 848.0 1601.0 869.0 1601.0 869.1 1600.8 869.0 1586.8 857.2 1572.7 861.4 1558.5 865.7 1544.4 852.4 1539.4 848.0 1530.2 838.3 1522.3 827.1 1516.0 817.0 1507.7 827.1 1501.9 833.7 1490.4 848.0 1487.8 850.4 1473.6 851.2 1462.3 869.0 1459.5 871.1 1457.1 869.0 1445.3 853.2 1437.5 848.0 1431.2 842.6 1417.0 845.6 1405.2 848.0 1402.9 849.0 1391.4 869.0 1388.7 873.0 1385.6 869.0 1374.5 851.6 1371.6 848.0 1360.4 832.0 1356.8 827.1 1346.2 814.0 1332.1 807.3 1320.5 827.1 1318.0 830.6 1303.8 828.2 1289.7 831.0 1275.5 827.5 1274.8 827.1 1261.3 819.6 1247.2 816.6 1240.1 806.1 1240.1 785.1 1233.1 774.6 1226.0 785.1 1226.0 806.1 1218.9 816.6 1211.8 827.1 1204.8 837.5 1201.2 827.1 1197.7 806.1 1204.8 795.6 1211.8 785.1 1204.8 774.6 1190.6 774.6 1183.5 764.1 1176.5 753.7 1169.4 743.2 1162.3 732.7 1155.2 743.2 1148.2 748.4 1141.1 743.2 1141.1 722.2 1141.1 701.2 1134.0 697.7 1130.5 701.2 1126.9 722.2 1119.8 732.7 1116.3 743.2 1109.2 764.1 1105.7 774.6 1091.6 774.6 1084.5 764.1 1077.4 753.7 1070.3 764.1 1063.2 774.6 1056.2 764.1 1059.7 743.2 1049.1 727.4 1038.5 743.2 1045.6 764.1 1042.0 785.1 1035.0 790.4 1020.8 795.6 1018.4 785.1 1017.3 764.1 1006.7 748.4 999.6 743.2 992.5 737.9 978.4 732.7 964.2 737.9 957.1 743.2 964.2 753.7 971.3 764.1 964.2 769.4 950.1 779.9 943.0 764.1 946.5 743.2 943.0 722.2 950.1 717.0 960.7 701.2 957.1 680.3 950.1 677.6 935.9 676.8 928.8 680.3 928.8 701.2 932.4 722.2 925.3 743.2 921.8 748.4 907.6 758.9 897.0 743.2 893.5 732.7 886.4 722.2 886.4 701.2 879.3 690.7 872.2 701.2 875.8 722.2 872.2 743.2 865.1 748.4 854.5 764.1 851.0 769.4 843.9 764.1 843.9 743.2 847.5 722.2 843.9 701.2 836.9 690.7 833.3 680.3 833.3 659.3 833.3 638.3 833.3 617.3 836.9 606.9 843.9 617.3 851.0 622.6 861.6 638.3 861.6 659.3 865.1 664.5 879.3 669.8 886.4 659.3 886.4 638.3 886.4 617.3 886.4 596.4 880.1 575.4 880.1 554.4 880.1 533.5 879.3 533.5 865.1 533.5 851.0 533.5 836.9 533.5 822.7 533.5 815.6 533.5 815.6 554.4 822.7 564.9 829.8 575.4 829.8 596.4 826.2 617.3 826.2 638.3 826.2 659.3 826.2 680.3 833.3 701.2 836.9 711.7 840.4 722.2 836.9 732.7 829.8 743.2 829.8 764.1 836.9 774.6 851.0 779.9 861.6 764.1 865.1 758.9 879.3 748.4 893.5 753.7 900.5 764.1 907.6 774.6 914.7 764.1 921.8 758.9 932.4 743.2 935.9 732.7 939.4 743.2 938.3 764.1 943.0 785.1 950.1 790.4 957.1 785.1 964.2 779.9 978.4 774.6 985.4 764.1 992.5 753.7 1006.7 758.9 1010.2 764.1 1013.7 785.1 1006.7 800.8 992.5 795.6 985.4 806.1 985.4 827.1 992.5 837.5 1006.7 832.3 1020.8 832.3 1027.9 827.1 1027.9 806.1 1035.0 800.8 1049.1 795.6 1063.2 795.6 1077.4 795.6 1091.6 795.6 1098.6 806.1 1105.7 811.3 1119.8 811.3 1134.0 811.3 1148.2 816.6 1155.2 827.1 1155.2 848.0 1162.3 858.5 1169.4 848.0 1169.4 827.1 1169.4 806.1 1176.5 795.6 1183.5 806.1 1190.6 816.6 1194.1 827.1 1197.7 848.0 1204.8 858.5 1218.9 858.5 1226.0 869.0 1226.0 890.0 1233.1 900.5 1247.2 895.2 1252.7 890.0 1254.9 869.0 1260.2 848.0 1261.3 846.9 1262.7 848.0 1275.5 861.3 1289.4 869.0 1289.7 869.1 1289.8 869.0 1300.4 848.0 1303.8 844.9 1306.6 848.0 1310.1 869.0 1303.8 880.7 1299.2 890.0 1299.6 910.9 1303.8 919.5 1311.6 910.9 1318.0 900.0 1332.1 897.2 1346.2 895.2 1360.0 910.9 1360.4 911.1 1365.1 910.9 1374.5 909.9 1375.8 910.9 1388.7 917.7 1401.1 910.9 1402.9 909.3 1408.2 910.9 1417.0 912.5 1431.2 912.5 1433.0 910.9 1445.3 899.3 1452.5 910.9 1455.2 931.9 1453.2 952.9ZM950.1 706.5 943.0 701.2 950.1 690.7 953.6 701.2 950.1 706.5ZM1049.1 753.7 1045.6 743.2 1049.1 737.9 1052.6 743.2 1049.1 753.7ZM1119.8 774.6 1116.3 764.1 1119.8 753.7 1126.9 764.1 1119.8 774.6ZM1148.2 774.6 1141.1 764.1 1148.2 758.9 1162.3 753.7 1169.4 764.1 1162.3 774.6 1148.2 774.6ZM1233.1 858.5 1226.0 848.0 1233.1 837.5 1240.1 848.0 1233.1 858.5ZM1257.3 764.1 1261.3 775.4 1264.2 764.1 1261.3 761.1 1257.3 764.1ZM1197.7 722.2 1204.8 732.7 1211.8 722.2 1204.8 717.0 1197.7 722.2ZM914.7 659.3 921.8 669.8 924.1 659.3 921.8 654.0 914.7 659.3Z" fill="#FFAA00" stroke="#FFAA00" stroke-width="1" fill-rule="evenodd"/>
<path d="M858.1 1603.0 865.1 1603.0 872.2 1603.0 865.1 1592.5 858.1 1603.0ZM943.0 1603.0 950.1 1603.0 964.2 1603.0 978.4 1603.0 980.7 1603.0 978.4 1597.8 964.2 1599.5 950.1 1592.5 943.0 1603.0ZM1126.9 1582.0 1134.0 1592.5 1141.1 1603.0 1148.2 1603.0 1149.9 1603.0 1149.9 1582.0 1149.9 1561.1 1162.3 1542.7 1164.1 1540.1 1169.4 1519.1 1162.3 1508.6 1155.2 1519.1 1148.2 1529.6 1134.0 1529.6 1119.8 1529.6 1112.8 1540.1 1119.8 1550.6 1126.9 1561.1 1126.9 1582.0ZM843.9 1561.1 851.0 1571.5 858.1 1561.1 865.1 1555.8 875.8 1540.1 872.2 1519.1 865.1 1508.6 851.0 1508.6 836.9 1508.6 829.8 1498.1 822.7 1487.7 808.6 1487.7 808.6 1498.1 808.6 1519.1 808.6 1524.4 819.2 1540.1 822.7 1550.6 836.9 1550.6 843.9 1561.1ZM865.1 1545.3 858.1 1540.1 865.1 1529.6 868.7 1540.1 865.1 1545.3ZM928.8 1561.1 935.9 1571.5 950.1 1571.5 952.4 1561.1 957.1 1540.1 950.1 1529.6 943.0 1540.1 935.9 1550.6 928.8 1561.1ZM1056.2 1561.1 1063.2 1566.3 1066.8 1561.1 1063.2 1555.8 1056.2 1561.1ZM900.5 1540.1 907.6 1550.6 914.7 1540.1 907.6 1529.6 900.5 1540.1ZM914.7 1519.1 921.8 1529.6 928.8 1519.1 921.8 1508.6 914.7 1519.1ZM1027.9 1519.1 1035.0 1524.4 1049.1 1529.6 1052.6 1519.1 1063.2 1503.4 1070.3 1498.1 1070.3 1477.2 1063.2 1466.7 1056.2 1477.2 1049.1 1487.7 1042.0 1477.2 1035.0 1466.7 1027.9 1477.2 1027.9 1498.1 1027.9 1519.1ZM1084.5 1519.1 1091.6 1524.4 1105.7 1529.6 1112.8 1519.1 1105.7 1508.6 1098.6 1498.1 1091.6 1487.7 1084.5 1498.1 1084.5 1519.1ZM1169.4 1498.1 1176.5 1508.6 1180.0 1498.1 1176.5 1487.7 1169.4 1498.1ZM999.6 1477.2 1006.7 1487.7 1013.7 1477.2 1006.7 1466.7 999.6 1477.2ZM1584.5 1099.7 1586.8 1100.4 1588.3 1099.7 1600.9 1091.2 1615.1 1090.2 1629.2 1086.9 1643.4 1083.9 1657.5 1084.7 1671.7 1099.7 1685.9 1092.1 1685.9 1078.7 1685.9 1057.7 1685.8 1042.3 1671.7 1045.9 1657.6 1045.4 1643.4 1047.3 1630.7 1057.7 1629.2 1058.7 1615.1 1061.5 1610.8 1057.7 1606.1 1036.8 1605.2 1015.8 1605.5 994.8 1607.6 973.9 1615.1 960.9 1620.9 952.9 1615.1 945.3 1607.3 931.9 1615.1 922.6 1629.2 916.6 1643.4 926.8 1648.6 931.9 1657.5 938.2 1671.7 937.1 1685.8 941.3 1685.9 931.9 1685.9 910.9 1685.9 893.8 1671.7 893.8 1657.6 894.0 1643.4 894.1 1629.2 893.0 1615.1 895.3 1601.0 901.7 1586.8 900.0 1572.7 906.9 1566.0 910.9 1558.5 914.5 1555.3 910.9 1544.4 897.8 1530.2 896.3 1516.0 893.2 1501.9 898.0 1487.8 892.7 1478.2 910.9 1473.9 931.9 1473.6 933.9 1465.7 952.9 1459.5 958.9 1453.2 952.9 1455.2 931.9 1452.5 910.9 1445.3 899.3 1433.0 910.9 1431.2 912.5 1417.0 912.5 1408.2 910.9 1402.9 909.3 1401.1 910.9 1388.7 917.7 1375.8 910.9 1374.5 909.9 1365.1 910.9 1360.4 911.1 1360.0 910.9 1346.2 895.2 1332.1 897.2 1318.0 900.0 1311.6 910.9 1303.8 919.5 1299.6 910.9 1299.2 890.0 1303.8 880.7 1310.1 869.0 1306.6 848.0 1303.8 844.9 1300.4 848.0 1289.8 869.0 1289.7 869.1 1289.4 869.0 1275.5 861.3 1262.7 848.0 1261.3 846.9 1260.2 848.0 1254.9 869.0 1252.7 890.0 1247.2 895.2 1233.1 900.5 1226.0 890.0 1226.0 869.0 1218.9 858.5 1204.8 858.5 1197.7 848.0 1194.1 827.1 1190.6 816.6 1183.5 806.1 1176.5 795.6 1169.4 806.1 1169.4 827.1 1169.4 848.0 1162.3 858.5 1155.2 848.0 1155.2 827.1 1148.2 816.6 1134.0 811.3 1119.8 811.3 1105.7 811.3 1098.6 806.1 1091.6 795.6 1077.4 795.6 1063.2 795.6 1049.1 795.6 1035.0 800.8 1027.9 806.1 1027.9 827.1 1020.8 832.3 1006.7 832.3 992.5 837.5 985.4 827.1 985.4 806.1 992.5 795.6 1006.7 800.8 1013.7 785.1 1010.2 764.1 1006.7 758.9 992.5 753.7 985.4 764.1 978.4 774.6 964.2 779.9 957.1 785.1 950.1 790.4 943.0 785.1 938.3 764.1 939.4 743.2 935.9 732.7 932.4 743.2 921.8 758.9 914.7 764.1 907.6 774.6 900.5 764.1 893.5 753.7 879.3 748.4 865.1 758.9 861.6 764.1 851.0 779.9 836.9 774.6 829.8 764.1 829.8 743.2 836.9 732.7 840.4 722.2 836.9 711.7 833.3 701.2 826.2 680.3 826.2 659.3 826.2 638.3 826.2 617.3 829.8 596.4 829.8 575.4 822.7 564.9 815.6 554.4 815.6 533.5 808.6 533.5 808.6 554.4 808.6 575.4 808.6 596.4 808.6 617.3 808.6 638.3 808.6 659.3 808.6 680.3 808.6 701.2 808.6 706.5 815.6 701.2 822.7 690.7 826.2 701.2 829.8 722.2 822.7 732.7 808.6 737.9 808.6 743.2 808.6 764.1 808.6 785.1 808.6 795.6 815.6 785.1 822.7 774.6 829.8 785.1 829.8 806.1 822.7 816.6 815.6 827.1 808.6 837.5 808.6 848.0 808.6 869.0 808.6 879.5 812.1 890.0 808.6 895.2 808.6 905.7 819.2 890.0 815.6 869.0 815.6 848.0 822.7 837.5 829.8 848.0 836.9 858.5 843.9 869.0 851.0 879.5 858.1 890.0 865.1 900.5 872.2 910.9 872.2 931.9 879.3 940.7 893.5 939.3 900.5 931.9 907.6 921.4 921.8 921.4 935.9 921.4 943.0 910.9 943.0 890.0 935.9 879.5 928.8 869.0 935.9 858.5 943.0 869.0 950.1 879.5 957.1 890.0 964.2 900.5 971.3 890.0 978.4 879.5 992.5 879.5 999.6 890.0 992.5 900.5 985.4 910.9 985.4 931.9 987.9 952.9 992.5 959.4 1004.2 973.9 1006.7 976.5 1009.6 973.9 1016.6 952.9 1013.7 931.9 1013.7 910.9 1020.8 900.5 1027.9 910.9 1027.9 931.9 1034.4 952.9 1035.0 953.4 1049.1 966.7 1056.6 973.9 1063.2 977.7 1070.1 973.9 1077.4 968.2 1091.6 959.1 1105.7 957.1 1119.8 962.8 1127.8 973.9 1134.0 983.8 1148.2 976.7 1161.8 973.9 1162.3 973.7 1162.5 973.9 1176.5 983.8 1190.6 987.6 1204.8 985.7 1213.5 994.8 1218.9 998.4 1233.1 1008.9 1247.2 1009.5 1261.3 1005.5 1275.5 1009.4 1289.7 1015.6 1289.9 1015.8 1303.8 1021.6 1318.0 1031.2 1326.7 1036.8 1332.1 1041.3 1346.2 1041.8 1353.9 1036.8 1360.4 1032.6 1374.5 1034.5 1376.4 1036.8 1388.7 1049.7 1402.9 1053.6 1408.1 1057.7 1417.0 1061.4 1431.2 1070.2 1445.3 1075.9 1451.8 1078.7 1459.5 1082.6 1464.9 1078.7 1473.6 1073.0 1487.8 1071.6 1501.9 1072.4 1516.0 1072.5 1530.2 1072.1 1544.4 1072.3 1552.5 1078.7 1558.5 1083.6 1572.7 1092.4 1584.5 1099.7ZM1586.8 1066.8 1580.5 1057.7 1572.7 1044.6 1558.5 1044.1 1544.3 1041.5 1530.2 1040.3 1517.8 1036.8 1519.1 1015.8 1516.0 1008.5 1511.5 1015.8 1501.9 1030.0 1495.7 1036.8 1487.8 1043.9 1473.6 1047.2 1459.5 1056.3 1445.3 1050.8 1431.2 1045.2 1417.0 1037.9 1416.0 1036.8 1405.1 1015.8 1402.9 1012.1 1399.1 1015.8 1388.7 1022.8 1383.3 1015.8 1374.5 1003.4 1360.4 1005.9 1346.2 1013.6 1332.1 1014.0 1318.0 1009.9 1310.0 994.8 1318.0 981.6 1324.0 973.9 1332.1 966.0 1346.2 953.2 1346.4 952.9 1360.4 932.7 1374.5 935.8 1385.0 952.9 1388.7 958.2 1402.9 972.2 1414.4 952.9 1417.0 947.8 1420.9 952.9 1431.2 964.9 1441.7 973.9 1445.3 977.1 1459.5 984.7 1473.6 978.9 1476.2 973.9 1480.7 952.9 1484.8 931.9 1487.8 923.7 1501.9 927.7 1516.0 924.4 1530.2 930.6 1532.0 931.9 1530.2 933.1 1523.1 952.9 1527.6 973.9 1530.2 978.6 1544.4 985.8 1558.5 982.0 1564.6 973.9 1572.7 960.9 1582.5 952.9 1586.8 947.4 1590.5 952.9 1595.4 973.9 1596.5 994.8 1596.7 1015.8 1595.9 1036.8 1593.0 1057.7 1586.8 1066.8ZM1006.7 790.4 999.6 785.1 1006.7 774.6 1009.0 785.1 1006.7 790.4ZM865.1 879.5 858.1 869.0 851.0 858.5 843.9 848.0 851.0 837.5 858.1 827.1 854.5 806.1 854.5 785.1 865.1 769.4 872.2 764.1 879.3 758.9 886.4 764.1 893.5 774.6 900.5 785.1 900.5 806.1 900.5 827.1 907.6 837.5 914.7 848.0 914.7 869.0 907.6 879.5 893.5 879.5 879.3 879.5 865.1 879.5ZM921.8 900.5 914.7 890.0 921.8 879.5 928.8 890.0 921.8 900.5ZM935.9 837.5 928.8 827.1 921.8 816.6 914.7 806.1 914.7 785.1 921.8 774.6 928.8 785.1 935.9 795.6 950.1 800.8 957.1 806.1 957.1 827.1 950.1 837.5 935.9 837.5ZM1063.2 955.4 1061.1 952.9 1049.1 941.5 1042.0 931.9 1042.0 910.9 1042.0 890.0 1035.0 884.7 1024.3 869.0 1020.8 858.5 1013.7 869.0 1006.7 879.5 999.6 869.0 999.6 848.0 1006.7 842.8 1020.8 842.8 1035.0 832.3 1049.1 832.3 1052.6 827.1 1063.2 811.3 1077.4 816.6 1084.5 827.1 1091.6 837.5 1098.6 827.1 1105.7 821.8 1119.8 821.8 1134.0 821.8 1141.1 827.1 1141.1 848.0 1141.1 869.0 1141.1 890.0 1141.1 910.9 1141.1 931.9 1135.8 952.9 1134.0 954.1 1133.2 952.9 1126.9 931.9 1119.8 921.4 1112.8 910.9 1119.8 900.5 1126.9 890.0 1126.9 869.0 1119.8 858.5 1112.8 869.0 1105.7 879.5 1098.6 890.0 1091.6 900.5 1084.5 910.9 1084.5 931.9 1077.4 942.8 1065.9 952.9 1063.2 955.4ZM1162.3 944.4 1155.2 931.9 1162.3 921.4 1176.5 921.4 1190.6 921.4 1197.7 910.9 1197.7 890.0 1204.8 879.5 1211.8 890.0 1211.8 910.9 1211.8 931.9 1204.8 945.0 1190.6 945.0 1176.5 950.1 1162.3 944.4ZM1261.3 979.8 1254.4 973.9 1247.2 964.8 1240.1 952.9 1247.2 944.9 1253.1 931.9 1247.2 921.4 1240.1 910.9 1247.2 905.7 1261.3 898.9 1268.3 910.9 1271.3 931.9 1275.5 938.2 1289.7 939.5 1298.7 952.9 1289.7 970.8 1286.2 973.9 1275.5 982.1 1261.3 979.8ZM1317.9 937.8 1313.4 931.9 1318.0 926.4 1324.7 931.9 1317.9 937.8ZM1176.5 900.5 1169.4 890.0 1176.5 879.5 1183.5 890.0 1176.5 900.5ZM1190.6 879.5 1183.5 869.0 1190.6 858.5 1197.7 869.0 1190.6 879.5ZM872.2 848.0 879.3 858.5 886.4 848.0 879.3 837.5 872.2 848.0ZM1226.0 848.0 1233.1 858.5 1240.1 848.0 1233.1 837.5 1226.0 848.0ZM1116.3 764.1 1119.8 774.6 1126.9 764.1 1119.8 753.7 1116.3 764.1ZM1141.1 764.1 1148.2 774.6 1162.3 774.6 1169.4 764.1 1162.3 753.7 1148.2 758.9 1141.1 764.1ZM1045.6 743.2 1049.1 753.7 1052.6 743.2 1049.1 737.9 1045.6 743.2ZM943.0 701.2 950.1 706.5 953.6 701.2 950.1 690.7 943.0 701.2Z" fill="#FF5500" stroke="#FF5500" stroke-width="1" fill-rule="evenodd"/>
<path d="M858.1 1540.1 865.1 1545.3 868.7 1540.1 865.1 1529.6 858.1 1540.1ZM1580.5 1057.7 1586.8 1066.8 1593.0 1057.7 1595.9 1036.8 1596.7 1015.8 1596.5 994.8 1595.4 973.9 1590.5 952.9 1586.8 947.4 1582.5 952.9 1572.7 960.9 1564.6 973.9 1558.5 982.0 1544.4 985.8 1530.2 978.6 1527.6 973.9 1523.1 952.9 1530.2 933.1 1532.0 931.9 1530.2 930.6 1516.0 924.4 1501.9 927.7 1487.8 923.7 1484.8 931.9 1480.7 952.9 1476.2 973.9 1473.6 978.9 1459.5 984.7 1445.3 977.1 1441.7 973.9 1431.2 964.9 1420.9 952.9 1417.0 947.8 1414.4 952.9 1402.9 972.2 1388.7 958.2 1385.0 952.9 1374.6 935.8 1360.4 932.7 1346.4 952.9 1346.2 953.2 1332.1 966.0 1324.0 973.9 1317.9 981.6 1310.0 994.8 1318.0 1009.9 1332.1 1014.0 1346.2 1013.6 1360.4 1005.9 1374.5 1003.4 1383.3 1015.8 1388.7 1022.8 1399.1 1015.8 1402.9 1012.1 1405.1 1015.8 1416.0 1036.8 1417.0 1037.9 1431.2 1045.2 1445.3 1050.8 1459.5 1056.3 1473.6 1047.2 1487.8 1043.9 1495.7 1036.8 1501.9 1030.0 1511.5 1015.8 1516.0 1008.5 1519.1 1015.8 1517.8 1036.8 1530.2 1040.3 1544.4 1041.5 1558.5 1044.1 1572.7 1044.6 1580.5 1057.7ZM1332.1 997.2 1329.5 994.8 1332.1 991.3 1346.2 988.2 1349.2 994.8 1346.2 997.3 1332.1 997.2ZM1360.4 979.4 1354.9 973.9 1360.4 962.5 1374.5 969.4 1377.6 973.9 1374.5 977.2 1360.4 979.4ZM1610.8 1057.7 1615.1 1061.5 1629.2 1058.7 1630.7 1057.7 1643.4 1047.3 1657.5 1045.4 1671.7 1045.9 1685.8 1042.3 1685.9 1036.8 1685.9 1015.8 1685.9 994.8 1685.9 986.6 1685.0 994.8 1671.7 1010.2 1662.8 994.8 1662.4 973.9 1671.7 955.3 1685.9 972.3 1685.9 952.9 1685.8 941.3 1671.7 937.1 1657.5 938.2 1648.6 931.9 1643.4 926.8 1629.2 916.6 1615.1 922.6 1607.3 931.9 1615.1 945.3 1620.9 952.9 1615.1 960.9 1607.6 973.9 1605.5 994.8 1605.2 1015.8 1606.1 1036.8 1610.8 1057.7ZM1629.2 1029.8 1620.7 1015.8 1621.9 994.8 1629.2 983.3 1637.3 994.8 1637.9 1015.8 1629.2 1029.8ZM1254.4 973.9 1261.3 979.8 1275.5 982.1 1286.2 973.9 1289.7 970.8 1298.7 952.9 1289.7 939.5 1275.5 938.2 1271.3 931.9 1268.3 910.9 1261.3 898.9 1247.2 905.7 1240.1 910.9 1247.2 921.4 1253.1 931.9 1247.2 944.9 1240.1 952.9 1247.2 964.8 1254.4 973.9ZM1061.1 952.9 1063.2 955.4 1065.9 952.9 1077.4 942.8 1084.5 931.9 1084.5 910.9 1091.6 900.5 1098.6 890.0 1105.7 879.5 1112.8 869.0 1119.8 858.5 1126.9 869.0 1126.9 890.0 1119.8 900.5 1112.8 910.9 1119.8 921.4 1126.9 931.9 1133.2 952.9 1134.0 954.1 1135.8 952.9 1141.1 931.9 1141.1 910.9 1141.1 890.0 1141.1 869.0 1141.1 848.0 1141.1 827.1 1134.0 821.8 1119.8 821.8 1105.7 821.8 1098.6 827.1 1091.6 837.5 1084.5 827.1 1077.4 816.6 1063.2 811.3 1052.6 827.1 1049.1 832.3 1035.0 832.3 1020.8 842.8 1006.7 842.8 999.6 848.0 999.6 869.0 1006.7 879.5 1013.7 869.0 1020.8 858.5 1024.3 869.0 1035.0 884.7 1042.0 890.0 1042.0 910.9 1042.0 931.9 1049.1 941.5 1061.1 952.9ZM1091.6 879.5 1084.5 869.0 1091.6 858.5 1098.6 869.0 1091.6 879.5ZM1035.0 874.2 1031.4 869.0 1027.9 848.0 1035.0 842.8 1049.1 842.8 1059.7 827.1 1063.2 821.8 1070.3 827.1 1077.4 837.5 1084.5 848.0 1077.4 858.5 1063.2 858.5 1056.2 869.0 1049.1 879.5 1035.0 874.2ZM1155.2 931.9 1162.3 944.4 1176.5 950.1 1190.6 945.0 1204.8 945.0 1211.8 931.9 1211.8 910.9 1211.8 890.0 1204.8 879.5 1197.7 890.0 1197.7 910.9 1190.6 921.4 1176.5 921.4 1162.3 921.4 1155.2 931.9ZM1313.4 931.9 1318.0 937.8 1324.7 931.9 1318.0 926.4 1313.4 931.9ZM808.6 890.0 808.6 895.2 812.1 890.0 808.6 879.5 808.6 890.0ZM914.7 890.0 921.8 900.5 928.8 890.0 921.8 879.5 914.7 890.0ZM1169.4 890.0 1176.5 900.5 1183.5 890.0 1176.5 879.5 1169.4 890.0ZM858.1 869.0 865.1 879.5 879.3 879.5 893.5 879.5 907.6 879.5 914.7 869.0 914.7 848.0 907.6 837.5 900.5 827.1 900.5 806.1 900.5 785.1 893.5 774.6 886.4 764.1 879.3 758.9 872.2 764.1 865.1 769.4 854.5 785.1 854.5 806.1 858.1 827.1 851.0 837.5 843.9 848.0 851.0 858.5 858.1 869.0ZM865.1 816.6 861.6 806.1 861.6 785.1 865.1 779.9 879.3 774.6 886.4 785.1 886.4 806.1 879.3 816.6 865.1 816.6ZM879.3 858.5 872.2 848.0 879.3 837.5 886.4 848.0 879.3 858.5ZM1183.5 869.0 1190.6 879.5 1197.7 869.0 1190.6 858.5 1183.5 869.0ZM808.6 827.1 808.6 837.5 815.6 827.1 822.7 816.6 829.8 806.1 829.8 785.1 822.7 774.6 815.6 785.1 808.6 795.6 808.6 806.1 808.6 827.1ZM928.8 827.1 935.9 837.5 950.1 837.5 957.1 827.1 957.1 806.1 950.1 800.8 935.9 795.6 928.8 785.1 921.8 774.6 914.7 785.1 914.7 806.1 921.8 816.6 928.8 827.1ZM999.6 785.1 1006.7 790.4 1009.0 785.1 1006.7 774.6 999.6 785.1ZM808.6 727.4 808.6 737.9 822.7 732.7 829.8 722.2 826.2 701.2 822.7 690.7 815.6 701.2 808.6 706.5 808.6 717.0 815.6 722.2 808.6 727.4Z" fill="#FF0000" stroke="#FF0000" stroke-width="1" fill-rule="evenodd"/>
<path d="M1620.7 1015.8 1629.2 1029.8 1637.9 1015.8 1637.3 994.8 1629.2 983.3 1621.9 994.8 1620.7 1015.8ZM1329.5 994.8 1332.1 997.2 1346.2 997.3 1349.2 994.8 1346.2 988.2 1332.1 991.3 1329.5 994.8ZM1662.8 994.8 1671.7 1010.2 1685.0 994.8 1685.9 986.6 1685.9 973.9 1685.9 972.3 1671.7 955.3 1662.4 973.9 1662.8 994.8ZM1354.9 973.9 1360.4 979.4 1374.6 977.2 1377.6 973.9 1374.5 969.4 1360.4 962.5 1354.9 973.9ZM1031.4 869.0 1035.0 874.2 1049.1 879.5 1056.2 869.0 1063.2 858.5 1077.4 858.5 1084.5 848.0 1077.4 837.5 1070.3 827.1 1063.2 821.8 1059.7 827.1 1049.1 842.8 1035.0 842.8 1027.9 848.0 1031.4 869.0ZM1084.5 869.0 1091.6 879.5 1098.6 869.0 1091.6 858.5 1084.5 869.0ZM861.6 806.1 865.1 816.6 879.3 816.6 886.4 806.1 886.4 785.1 879.3 774.6 865.1 779.9 861.6 785.1 861.6 806.1ZM808.6 722.2 808.6 727.4 815.6 722.2 808.6 717.0 808.6 722.2Z" fill="#AA0000" stroke="#AA0000" stroke-width="1" fill-rule="evenodd"/>
<path d="M937.9 533.5 937.9 554.4 937.9 575.4 937.9 596.4 937.6 617.3 935.9 619.9 921.8 619.5 920.3 617.3 907.6 598.5 906.3 596.4 893.5 577.3 892.3 575.4 892.3 554.4 892.3 533.5M1096.5 533.5 1091.6 537.2 1086.6 533.5M1362.9 533.5 1362.9 554.4 1362.9 575.4 1360.4 578.1 1357.9 575.4 1357.9 554.4 1357.9 533.5M1629.2 601.3 1625.7 596.4 1627.5 575.4 1627.5 554.4 1629.2 551.8 1631.0 554.4 1632.8 575.4 1632.8 596.4ZM940.6 533.5 940.6 554.4 940.6 575.4 940.6 596.4 939.9 617.3 935.9 623.2 921.8 622.4 918.3 617.3 907.6 601.4 904.6 596.4 893.5 579.8 890.8 575.4 890.8 554.4 890.8 533.5M1051.5 533.5 1049.1 538.7 1035.0 538.7 1031.4 533.5M1103.2 533.5 1091.6 542.1 1079.9 533.5M1277.3 533.5 1277.3 554.4 1275.5 557.9 1261.3 559.7 1258.5 554.4 1247.2 537.7 1244.8 533.5M1366.2 533.5 1366.2 554.4 1366.2 575.4 1360.4 581.8 1354.6 575.4 1354.6 554.4 1354.6 533.5M1435.9 533.5 1435.9 554.4 1435.9 575.4 1431.2 580.6 1426.4 575.4 1426.4 554.4 1426.4 533.5M1504.3 533.5 1504.3 554.4 1504.3 575.4 1501.9 578.9 1499.5 575.4 1499.5 554.4 1499.5 533.5M1629.2 611.0 1618.6 596.4 1623.9 575.4 1623.9 554.4 1629.2 546.6 1634.6 554.4 1639.9 575.4 1639.9 596.4ZM943.3 533.5 943.3 554.4 943.3 575.4 943.3 596.4 942.1 617.3 935.9 626.6 921.8 625.3 916.4 617.3 907.6 604.3 902.9 596.4 893.5 582.4 889.2 575.4 889.2 554.4 889.2 533.5M1056.2 533.5 1049.1 549.2 1035.0 549.2 1024.3 533.5M1109.9 533.5 1105.7 537.7 1091.6 547.0 1077.4 541.5 1073.2 533.5M1280.8 533.5 1280.8 554.4 1275.5 564.9 1261.3 570.2 1252.9 554.4 1247.2 546.0 1240.1 533.5M1369.6 533.5 1369.6 554.4 1369.6 575.4 1360.4 585.4 1351.2 575.4 1351.2 554.4 1351.2 533.5M1445.3 533.5 1445.3 554.4 1445.3 575.4 1445.3 575.4 1431.2 591.1 1417.0 575.4 1417.0 575.4 1417.0 554.4 1417.0 533.5M1509.0 533.5 1509.0 554.4 1509.0 575.4 1501.9 585.9 1494.8 575.4 1494.8 554.4 1494.8 533.5M1671.7 649.2 1668.8 638.3 1671.7 631.7 1677.3 638.3ZM1402.9 619.0 1399.4 617.3 1402.9 616.1 1403.8 617.3ZM1629.2 628.9 1621.6 617.3 1615.1 609.5 1611.6 596.4 1615.1 591.1 1620.4 575.4 1620.4 554.4 1629.2 541.3 1638.1 554.4 1643.4 570.2 1646.9 575.4 1646.9 596.4 1643.4 607.8 1635.7 617.3ZM1190.6 575.4 1190.6 575.4 1190.6 575.4 1204.8 564.9 1218.9 575.4 1218.9 575.4 1218.9 575.4 1204.8 585.9ZM946.0 533.5 946.0 554.4 946.0 575.4 946.0 596.4 944.4 617.3 935.9 629.9 921.8 628.2 914.4 617.3 907.6 607.2 901.2 596.4 893.5 584.9 887.7 575.4 887.7 554.4 887.7 533.5M1060.9 533.5 1063.2 543.9 1066.6 533.5M1116.5 533.5 1105.7 544.4 1091.6 552.0 1077.4 554.4 1091.6 564.9 1096.3 575.4 1091.6 578.9 1077.4 575.4 1077.4 575.4 1063.2 564.9 1049.1 564.9 1035.0 564.9 1020.8 564.9 1013.7 554.4 1006.7 543.9 999.6 533.5M1284.3 533.5 1284.3 554.4 1275.5 571.9 1268.4 575.4 1261.3 585.9 1247.2 575.4 1247.2 575.4 1247.2 554.4 1235.4 533.5M1372.9 533.5 1372.9 554.4 1372.9 575.4 1360.4 589.1 1347.9 575.4 1347.9 554.4 1347.9 533.5M1454.7 533.5 1454.7 554.4 1454.7 575.4 1445.3 589.4 1438.2 596.4 1431.2 602.2 1424.1 596.4 1417.0 589.4 1407.6 575.4 1407.6 554.4 1407.6 533.5M1513.7 533.5 1513.7 554.4 1513.7 575.4 1501.9 592.9 1490.1 575.4 1490.1 554.4 1490.1 533.5M1558.5 533.5 1558.5 554.4 1558.5 575.4 1558.5 596.4 1558.5 596.4 1544.4 603.1 1530.2 596.4 1530.2 596.4 1530.2 596.4 1537.3 575.4 1537.3 554.4 1544.4 543.9ZM836.9 1081.9 833.9 1078.7 834.9 1057.7 836.8 1056.0 838.4 1057.7 840.5 1078.7ZM1685.9 710.9 1671.7 709.8 1657.5 705.3 1655.8 701.2 1652.5 680.3 1657.5 668.4 1661.1 659.3 1657.5 648.1 1645.3 638.3 1643.4 637.0 1642.7 638.3 1632.5 659.3 1629.2 665.1 1615.1 668.3 1601.0 666.7 1588.2 659.3 1586.8 658.8 1586.5 659.3 1579.7 680.3 1572.7 691.9 1561.4 680.3 1558.5 677.6 1544.4 673.8 1532.3 659.3 1530.2 656.5 1516.0 654.0 1501.9 647.9 1487.8 641.9 1473.6 641.6 1468.5 638.3 1473.6 627.4 1476.6 617.3 1473.6 596.4 1473.6 596.4 1459.5 585.9 1452.4 596.4 1449.7 617.3 1445.3 625.4 1440.9 617.3 1431.2 613.8 1417.0 609.5 1414.0 617.3 1402.9 636.4 1395.8 638.3 1388.7 641.1 1384.2 638.3 1374.5 627.2 1373.0 617.3 1374.5 611.1 1388.7 605.1 1402.9 602.9 1409.9 596.4 1402.9 585.9 1388.7 585.9 1374.5 585.9 1360.4 592.7 1346.2 580.6 1332.1 575.4 1332.1 575.4 1325.0 554.4 1325.0 533.5M964.2 661.9 957.1 659.3 964.2 654.0 967.7 659.3ZM1035.0 664.5 1027.9 659.3 1035.0 654.0 1042.0 659.3ZM1233.1 643.6 1226.0 638.3 1233.1 627.8 1240.1 638.3ZM1543.4 617.3 1544.4 630.8 1545.3 617.3 1544.4 616.6ZM948.7 533.5 948.7 554.4 948.7 575.4 948.7 596.4 946.7 617.3 935.9 633.3 921.8 631.1 912.5 617.3 907.6 610.1 899.5 596.4 893.5 587.5 886.2 575.4 886.2 554.4 886.2 533.5M1162.3 533.5 1162.3 554.4 1162.3 554.4 1148.2 559.7 1141.1 554.4 1134.0 543.9 1119.8 538.7 1105.7 551.1 1098.6 554.4 1105.7 575.4 1105.7 575.4 1105.7 575.4 1091.6 585.9 1077.4 585.9 1063.2 585.9 1049.1 596.4 1049.1 596.4 1035.0 601.6 1020.8 596.4 1020.8 596.4 1006.7 585.9 992.5 580.6 989.0 575.4 978.4 559.7 971.3 554.4 964.2 543.9 957.1 533.5M1287.9 533.5 1287.9 554.4 1282.6 575.4 1289.7 585.9 1296.7 596.4 1289.7 609.5 1275.5 600.4 1261.3 601.1 1247.2 601.6 1233.1 606.9 1218.9 606.9 1204.8 601.6 1190.6 601.6 1176.5 601.6 1162.3 596.4 1162.3 596.4 1162.3 596.4 1169.4 575.4 1176.5 564.9 1190.6 554.4 1190.6 533.5M1567.9 533.5 1572.7 543.9 1579.7 554.4 1586.8 575.4 1586.8 575.4 1586.8 596.4 1601.0 605.1 1604.5 596.4 1615.1 580.6 1616.9 575.4 1616.9 554.4 1629.2 536.1 1641.6 554.4 1643.4 559.7 1654.0 575.4 1654.0 596.4 1657.5 605.1 1671.7 596.4 1671.7 596.4 1678.8 575.4 1678.8 554.4 1685.9 543.9M1487.8 1479.3 1485.8 1477.2 1487.8 1473.0 1489.6 1477.2ZM1487.8 1331.8 1485.7 1330.4 1487.8 1327.3 1501.9 1326.7 1516.0 1328.9 1519.1 1330.4 1516.0 1331.7 1501.9 1332.1ZM1360.4 1220.5 1351.6 1204.5 1352.8 1183.6 1360.4 1169.3 1374.5 1163.1 1388.7 1171.6 1402.8 1180.9 1406.1 1183.6 1411.0 1204.5 1402.9 1218.1 1390.1 1204.5 1388.7 1202.2 1387.6 1204.5 1374.5 1219.9ZM1218.9 1197.7 1208.0 1183.6 1204.8 1178.8 1195.9 1162.6 1190.6 1145.3 1177.9 1162.6 1176.5 1164.5 1164.7 1162.6 1162.3 1162.4 1148.2 1160.0 1136.2 1141.6 1134.0 1137.7 1126.0 1120.7 1131.1 1099.7 1134.0 1097.6 1148.2 1091.5 1162.3 1087.5 1172.2 1099.7 1176.5 1105.5 1190.6 1116.2 1201.2 1099.7 1204.8 1096.2 1211.0 1099.7 1218.9 1106.0 1228.8 1120.7 1233.1 1126.2 1240.0 1141.6 1240.6 1162.6 1233.1 1177.7 1228.8 1183.6ZM808.6 1012.7 822.7 1010.7 831.8 1015.8 836.9 1020.0 851.0 1028.7 865.1 1031.1 879.3 1034.5 891.1 1036.8 893.5 1037.7 907.6 1053.5 921.8 1048.2 934.9 1057.7 935.9 1058.5 950.1 1064.8 964.2 1065.6 978.4 1061.6 992.5 1075.7 995.1 1078.7 1006.7 1093.5 1011.9 1078.7 1020.1 1057.7 1020.8 1057.1 1021.5 1057.7 1032.4 1078.7 1035.0 1083.1 1042.1 1078.7 1049.1 1075.4 1053.1 1078.7 1063.2 1088.9 1072.4 1099.7 1077.4 1109.2 1080.5 1099.7 1090.8 1078.7 1091.6 1077.7 1093.2 1078.7 1105.7 1086.8 1112.1 1099.7 1105.7 1113.5 1102.0 1120.7 1091.6 1135.8 1077.4 1131.8 1063.2 1133.7 1049.1 1135.2 1035.0 1123.2 1020.8 1140.5 1010.7 1120.7 1006.7 1108.1 1002.2 1120.7 992.5 1134.2 982.5 1141.6 978.4 1144.2 976.6 1141.6 966.8 1120.7 964.2 1116.3 950.1 1104.5 935.9 1109.4 921.8 1104.7 907.6 1099.7 907.6 1099.7 907.6 1099.7 893.5 1109.6 879.3 1109.6 865.2 1108.0 851.0 1116.7 836.9 1115.8 822.7 1113.4 808.6 1117.0M1685.9 740.9 1671.7 740.9 1657.5 738.4 1648.1 722.2 1643.4 706.3 1634.2 722.2 1629.2 727.7 1615.1 730.2 1601.0 732.4 1586.8 733.2 1574.4 743.2 1572.7 744.0 1558.5 749.3 1544.3 751.1 1539.2 743.2 1530.7 722.2 1530.2 721.1 1516.0 706.4 1512.1 701.2 1504.1 680.3 1501.9 677.4 1492.8 659.3 1487.8 654.9 1473.6 657.2 1459.5 658.2 1458.5 659.3 1459.5 666.4 1460.7 680.3 1459.5 681.5 1445.3 685.7 1433.0 701.2 1431.2 702.6 1417.0 710.2 1402.9 711.4 1396.6 701.2 1402.9 689.7 1415.6 680.3 1402.9 670.2 1388.7 673.2 1374.5 672.3 1360.4 674.3 1346.2 676.2 1332.1 675.8 1324.3 659.3 1332.1 642.8 1336.4 638.3 1332.1 634.6 1318.0 628.7 1313.1 617.3 1318.0 612.3 1332.1 607.0 1339.2 617.3 1346.2 631.5 1352.1 638.3 1360.4 649.7 1364.7 638.3 1365.6 617.3 1360.4 596.4 1360.4 596.4 1346.2 591.1 1332.1 589.4 1318.0 585.9 1310.9 596.4 1303.8 609.5 1299.6 617.3 1295.4 638.3 1289.7 647.4 1285.7 638.3 1284.2 617.3 1275.5 608.3 1261.3 610.7 1247.2 612.1 1240.1 617.3 1247.2 627.8 1254.8 638.3 1247.2 648.8 1233.1 654.0 1218.9 648.8 1211.8 638.3 1211.8 617.3 1204.8 612.1 1190.6 612.1 1176.5 612.1 1162.3 610.4 1155.2 617.3 1155.2 638.3 1148.2 648.8 1134.0 648.8 1126.9 638.3 1126.9 617.3 1134.0 596.4 1134.0 596.4 1148.2 585.9 1155.2 575.4 1148.2 570.2 1134.0 564.9 1126.9 554.4 1119.8 549.2 1112.8 554.4 1115.1 575.4 1105.7 589.4 1091.6 592.9 1077.4 596.4 1084.5 617.3 1077.4 622.6 1073.9 617.3 1063.2 601.6 1049.1 610.4 1035.0 612.1 1020.8 604.8 1006.7 606.9 999.6 596.4 992.5 591.1 981.9 575.4 978.4 570.2 971.3 575.4 971.3 596.4 971.3 617.3 964.2 627.8 957.1 617.3 950.1 606.9 948.9 617.3 935.9 636.6 921.8 634.0 910.5 617.3 907.6 613.0 897.7 596.4 893.5 590.0 884.7 575.4 884.7 554.4 884.7 533.5M1035.0 711.7 1031.4 701.2 1035.0 690.7 1042.0 680.3 1035.0 675.0 1020.8 664.5 1013.7 659.3 1020.8 648.8 1035.0 643.6 1049.1 654.0 1063.2 654.0 1070.3 659.3 1063.2 669.8 1056.2 680.3 1049.1 690.7 1042.0 701.2ZM1247.2 711.7 1240.1 701.2 1247.2 690.7 1253.2 701.2ZM1540.2 701.2 1544.4 705.7 1546.6 701.2 1544.3 698.4ZM1105.7 685.5 1102.2 680.3 1105.7 675.0 1112.8 680.3ZM1162.3 685.5 1155.2 680.3 1162.3 669.8 1169.4 680.3ZM950.1 661.9 943.0 659.3 950.1 648.8 964.2 643.6 974.8 659.3 964.2 667.2ZM1261.3 671.5 1256.9 659.3 1261.3 652.1 1266.0 659.3ZM1105.7 643.6 1098.6 638.3 1105.7 627.8 1112.8 638.3ZM1160.5 1603.0 1160.5 1582.0 1160.5 1561.1 1162.3 1558.4 1174.7 1540.1 1176.5 1536.6 1190.6 1534.8 1197.7 1540.1 1197.7 1561.1 1197.7 1582.0 1197.7 1603.0M1593.9 1603.0 1593.9 1582.0 1593.9 1561.1 1593.9 1540.1 1593.9 1519.1 1593.9 1498.1 1593.9 1477.2 1593.9 1456.2 1591.2 1435.2 1586.8 1420.0 1572.7 1429.4 1558.5 1425.8 1544.4 1417.9 1530.2 1418.9 1520.6 1435.2 1516.0 1442.6 1511.0 1435.2 1510.9 1414.3 1516.0 1403.3 1530.2 1401.0 1535.4 1393.3 1544.4 1386.6 1558.5 1372.6 1572.7 1392.2 1573.0 1393.3 1586.8 1412.4 1601.0 1413.2 1601.7 1414.3 1615.1 1433.6 1629.2 1429.5 1643.4 1425.4 1654.1 1414.3 1657.6 1410.7 1663.8 1393.3 1667.4 1372.3 1671.7 1362.8 1685.9 1372.2M1473.6 1478.5 1472.2 1477.2 1467.5 1456.2 1466.5 1435.2 1467.2 1414.3 1470.7 1393.3 1473.6 1387.3 1476.5 1393.3 1480.6 1414.3 1483.7 1435.2 1487.8 1443.8 1496.2 1456.2 1501.9 1476.9 1501.9 1477.2 1501.9 1477.5 1487.8 1493.7ZM1445.3 1423.4 1437.7 1414.3 1445.3 1405.6 1448.8 1414.3ZM893.5 1340.9 886.4 1330.4 886.4 1309.4 893.5 1298.9 900.5 1309.4 900.5 1330.4ZM808.6 1319.9 815.6 1309.4 822.7 1298.9 836.9 1298.9 851.0 1298.9 865.1 1298.9 872.2 1309.4 865.1 1319.9 858.1 1330.4 851.0 1340.9 836.9 1340.9 822.7 1340.9 815.6 1351.3 808.6 1361.8M1513.9 1309.4 1516.0 1311.1 1517.7 1309.4 1516.0 1304.7ZM935.9 1298.9 928.8 1288.4 935.9 1279.8 943.0 1288.4ZM978.4 1298.9 971.3 1288.4 978.3 1278.4 985.4 1288.4ZM1428.7 1288.4 1431.2 1294.9 1433.6 1288.4 1431.2 1284.8ZM1327.8 1225.5 1332.1 1236.1 1336.9 1225.5 1332.1 1212.0ZM808.6 1216.1 811.6 1225.5 808.6 1231.2M808.6 993.0 822.7 987.4 836.9 988.1 851.0 991.1 857.7 994.8 865.1 1001.2 877.8 1015.8 879.3 1016.9 893.5 1017.7 907.6 1021.4 916.2 1015.8 921.8 1013.4 935.9 1014.2 939.5 1015.8 950.1 1021.5 964.2 1019.5 978.3 1022.3 992.5 1034.6 996.8 1036.8 1006.7 1046.5 1020.8 1038.7 1035.0 1048.1 1049.1 1048.6 1063.2 1051.0 1077.4 1046.0 1091.6 1037.6 1105.7 1050.3 1111.9 1057.7 1119.8 1067.4 1134.0 1075.5 1148.2 1064.7 1162.3 1062.7 1176.5 1066.4 1190.6 1074.4 1204.8 1071.9 1218.9 1074.4 1224.0 1078.7 1233.1 1087.4 1243.7 1099.7 1247.2 1105.4 1252.5 1099.7 1261.3 1091.8 1275.5 1086.9 1289.7 1094.4 1301.6 1099.7 1303.8 1101.6 1318.0 1109.7 1329.4 1120.7 1332.1 1123.8 1346.2 1127.7 1353.8 1120.7 1360.4 1115.5 1369.3 1120.7 1374.5 1123.5 1388.7 1138.8 1392.6 1141.6 1402.9 1149.5 1417.0 1146.7 1431.2 1153.8 1445.3 1161.4 1446.9 1162.6 1459.4 1174.2 1473.6 1170.6 1487.8 1169.9 1501.9 1176.8 1509.9 1183.6 1516.0 1188.2 1522.2 1183.6 1530.2 1176.3 1539.7 1183.6 1544.4 1186.3 1553.6 1204.5 1557.4 1225.5 1558.5 1227.7 1560.0 1225.5 1572.7 1208.5 1586.8 1207.1 1601.0 1215.8 1606.1 1225.5 1601.0 1231.4 1593.8 1246.5 1586.8 1259.0 1573.0 1267.5 1586.8 1279.3 1590.2 1288.4 1586.8 1300.6 1579.3 1309.4 1572.7 1314.3 1570.3 1309.4 1565.6 1288.4 1558.5 1274.9 1551.4 1288.4 1548.2 1309.4 1544.4 1318.2 1539.5 1330.4 1544.4 1348.0 1545.6 1351.3 1544.3 1354.4 1530.2 1353.7 1526.9 1351.3 1516.0 1348.0 1501.9 1348.9 1487.8 1347.6 1473.6 1344.4 1461.1 1330.4 1459.5 1328.4 1458.3 1330.4 1447.7 1351.3 1445.3 1356.0 1438.5 1372.3 1435.8 1393.3 1431.2 1402.6 1428.4 1393.3 1423.4 1372.3 1420.5 1351.3 1417.3 1330.4 1417.0 1330.0 1416.8 1330.4 1413.5 1351.3 1407.1 1372.3 1402.9 1377.4 1399.2 1372.3 1391.9 1351.3 1388.7 1342.2 1380.7 1330.4 1374.5 1319.8 1369.5 1330.4 1360.4 1345.3 1346.2 1348.9 1332.1 1340.1 1325.7 1330.4 1332.1 1321.3 1339.3 1309.4 1346.2 1300.5 1360.4 1290.4 1361.5 1288.4 1360.4 1285.0 1346.2 1272.1 1332.1 1277.9 1318.0 1282.1 1303.8 1269.7 1302.6 1267.5 1289.7 1252.1 1275.5 1251.2 1261.3 1261.9 1247.2 1258.2 1240.1 1246.5 1233.1 1235.2 1218.9 1234.0 1206.0 1246.5 1204.7 1247.7 1203.8 1246.5 1190.6 1227.7 1176.5 1234.1 1162.3 1237.9 1148.2 1230.0 1144.7 1225.5 1134.0 1207.6 1132.5 1204.5 1126.8 1183.6 1120.3 1162.6 1119.8 1161.6 1118.2 1162.6 1105.7 1173.1 1095.1 1183.6 1091.6 1187.0 1077.4 1193.9 1070.2 1183.6 1063.2 1174.7 1049.1 1168.7 1038.6 1162.6 1035.0 1161.0 1033.6 1162.6 1020.8 1178.7 1006.7 1167.5 992.5 1172.8 978.4 1173.6 970.9 1162.6 964.2 1152.5 952.9 1141.6 950.1 1139.1 936.1 1141.6 935.9 1141.7 935.8 1141.6 921.8 1135.3 907.6 1139.7 905.6 1141.6 893.5 1154.5 881.1 1141.6 879.3 1140.4 877.6 1141.6 865.1 1157.5 860.3 1162.6 851.0 1170.2 836.9 1183.6 836.9 1183.6 822.7 1203.3 816.7 1183.6 808.6 1171.4M1685.9 780.3 1675.4 785.1 1671.7 786.1 1667.4 785.1 1657.6 781.1 1643.4 771.4 1629.2 767.7 1615.1 771.9 1601.0 773.5 1586.8 770.3 1572.7 777.4 1558.5 783.7 1544.4 773.6 1536.6 764.1 1530.2 754.0 1522.9 743.2 1516.0 734.7 1501.9 735.5 1487.8 741.1 1486.6 743.2 1476.8 764.1 1473.6 768.6 1471.4 764.1 1465.6 743.2 1468.7 722.2 1473.6 715.9 1485.6 701.2 1487.8 698.9 1492.0 680.3 1487.8 672.5 1480.1 680.3 1473.6 691.7 1459.5 701.1 1459.3 701.2 1445.3 715.8 1431.2 720.7 1429.5 722.2 1419.1 743.2 1417.0 748.2 1405.8 743.2 1402.9 742.5 1401.4 743.2 1388.7 756.7 1382.7 743.2 1374.5 731.1 1360.4 731.6 1346.2 736.0 1332.1 736.1 1318.0 738.3 1304.9 722.2 1303.8 721.8 1302.8 722.2 1289.7 727.9 1286.4 722.2 1289.7 709.2 1291.9 701.2 1289.7 695.7 1277.8 680.3 1275.5 678.0 1274.5 680.3 1268.1 701.2 1261.3 713.7 1257.0 722.2 1247.2 732.7 1240.1 743.2 1233.1 748.4 1226.0 743.2 1229.5 722.2 1218.9 706.5 1211.8 701.2 1204.8 690.7 1201.2 680.3 1190.6 664.5 1180.0 680.3 1176.5 690.7 1162.3 696.0 1148.2 685.5 1134.0 683.8 1119.8 690.7 1105.7 696.0 1095.1 680.3 1105.7 664.5 1119.8 669.8 1126.9 659.3 1119.8 648.8 1105.7 654.0 1091.6 643.6 1084.5 638.3 1077.4 633.1 1066.8 617.3 1063.2 612.1 1056.2 617.3 1049.1 627.8 1042.0 638.3 1049.1 643.6 1063.2 643.6 1077.4 648.8 1080.9 659.3 1077.4 669.8 1070.3 680.3 1063.2 685.5 1052.6 701.2 1049.1 706.5 1038.5 722.2 1035.0 727.4 1020.8 727.4 1013.7 722.2 1020.8 711.7 1024.3 701.2 1027.9 680.3 1020.8 675.0 1006.7 664.5 1003.1 659.3 999.6 638.3 992.5 627.8 985.4 638.3 981.9 659.3 992.5 675.0 996.0 680.3 996.0 701.2 992.5 711.7 985.4 701.2 978.4 690.7 974.8 680.3 964.2 672.4 950.0 667.2 935.9 662.8 933.5 659.3 928.8 638.3 921.8 636.9 908.6 617.3 907.6 615.9 896.0 596.4 893.5 592.6 883.1 575.4 883.1 554.4 883.1 533.5M1091.6 727.4 1084.5 722.2 1091.6 711.7 1105.7 711.7 1109.2 722.2 1105.7 732.7ZM893.5 685.5 889.9 680.3 893.5 675.0 900.5 680.3ZM1013.7 617.3 1020.8 627.8 1027.9 617.3 1020.8 613.1ZM1271.2 617.3 1275.5 622.0 1276.5 617.3 1275.5 616.3ZM889.9 1603.0 893.5 1592.5 907.6 1592.5 914.7 1603.0M964.2 1585.5 960.7 1582.0 961.8 1561.1 964.2 1555.8 971.3 1561.1 971.3 1582.0ZM990.1 1603.0 985.4 1582.0 992.5 1576.8 1006.7 1576.8 1013.7 1582.0 1013.7 1603.0M1157.0 1603.0 1157.0 1582.0 1157.0 1561.1 1162.3 1553.2 1171.1 1540.1 1176.5 1529.6 1190.6 1524.4 1204.8 1529.6 1208.3 1540.1 1208.3 1561.1 1208.3 1582.0 1208.3 1603.0M1540.1 1603.0 1530.2 1588.3 1526.0 1582.0 1516.0 1567.3 1511.8 1561.1 1501.9 1546.4 1497.7 1540.1 1487.8 1525.4 1483.5 1519.1 1475.8 1498.1 1473.6 1495.9 1469.3 1498.1 1463.7 1519.1 1463.7 1540.1 1459.5 1546.4 1452.4 1561.1 1445.3 1571.5 1438.2 1561.1 1438.2 1540.1 1438.2 1519.1 1440.0 1498.1 1445.3 1484.5 1451.4 1477.2 1445.3 1466.1 1431.2 1466.4 1428.0 1456.2 1422.8 1435.2 1417.0 1419.2 1413.7 1414.3 1402.9 1404.5 1388.7 1396.9 1384.7 1393.3 1374.5 1381.4 1368.1 1393.3 1360.8 1414.3 1360.4 1414.8 1359.1 1414.3 1346.2 1406.0 1340.1 1393.3 1332.1 1379.0 1322.7 1372.3 1318.0 1369.9 1316.4 1372.3 1312.7 1393.3 1318.0 1406.5 1321.7 1414.3 1317.9 1423.4 1303.8 1432.4 1301.4 1435.2 1298.9 1456.2 1296.9 1477.2 1293.3 1498.1 1289.7 1508.9 1275.5 1506.5 1261.3 1503.1 1258.0 1498.1 1253.7 1477.2 1247.2 1466.7 1240.1 1456.2 1233.1 1445.7 1218.9 1445.7 1211.8 1456.2 1204.8 1466.7 1197.7 1456.2 1197.7 1435.2 1204.8 1424.7 1211.8 1414.3 1218.9 1403.8 1226.0 1414.3 1233.1 1424.7 1247.2 1424.7 1261.3 1418.5 1267.0 1414.3 1275.5 1407.9 1283.4 1414.3 1289.7 1420.8 1293.3 1414.3 1289.7 1406.8 1284.2 1393.3 1289.7 1381.4 1292.8 1372.3 1289.7 1366.3 1281.1 1372.3 1275.5 1377.3 1272.5 1372.3 1261.3 1359.1 1247.2 1361.8 1233.1 1361.8 1226.0 1351.3 1226.0 1330.4 1226.0 1309.4 1218.9 1298.9 1211.8 1288.4 1204.8 1277.0 1195.0 1267.5 1190.6 1261.6 1183.2 1267.5 1176.5 1272.9 1170.7 1267.5 1162.3 1262.6 1148.2 1258.1 1135.2 1246.5 1134.0 1244.9 1119.8 1226.2 1105.7 1230.1 1091.9 1246.5 1091.6 1246.8 1090.7 1246.5 1077.4 1239.4 1063.2 1231.5 1049.1 1227.3 1044.1 1225.5 1035.0 1220.4 1030.2 1225.5 1020.8 1233.5 1006.7 1227.3 992.5 1230.2 978.3 1227.1 977.9 1225.5 969.5 1204.5 964.2 1195.5 950.1 1193.8 935.9 1202.3 933.6 1204.5 921.8 1210.2 908.9 1204.5 907.6 1203.3 893.5 1195.5 879.3 1188.4 869.1 1204.5 865.2 1212.0 857.7 1225.5 862.3 1246.5 865.1 1248.8 879.3 1255.3 893.5 1250.1 906.3 1246.5 907.6 1246.0 907.8 1246.5 919.9 1267.5 921.8 1271.0 925.4 1267.5 935.9 1259.2 950.1 1263.5 958.5 1267.5 964.2 1270.5 966.4 1267.5 978.3 1253.8 992.5 1260.1 995.5 1267.5 999.6 1288.4 1006.7 1298.9 1020.8 1298.9 1035.0 1298.9 1049.1 1298.9 1063.2 1298.9 1077.4 1298.9 1084.5 1309.4 1091.6 1319.9 1105.7 1319.9 1112.8 1330.4 1119.8 1340.9 1134.0 1340.9 1141.1 1351.3 1148.2 1361.8 1155.2 1372.3 1148.2 1382.8 1141.1 1372.3 1134.0 1361.8 1119.8 1361.8 1112.8 1372.3 1105.7 1382.8 1091.6 1382.8 1084.5 1372.3 1077.4 1361.8 1070.3 1351.3 1077.4 1340.9 1084.5 1330.4 1077.4 1319.9 1063.2 1319.9 1049.1 1319.9 1035.0 1319.9 1027.9 1330.4 1027.9 1351.3 1020.8 1361.8 1013.7 1351.3 1006.7 1340.9 999.6 1330.4 992.5 1319.9 978.4 1319.9 971.3 1330.4 964.2 1340.9 950.1 1340.9 943.0 1351.3 935.9 1361.8 928.8 1372.3 921.8 1382.8 907.6 1382.8 893.5 1382.8 879.3 1382.8 872.2 1393.3 865.1 1403.8 851.0 1403.8 836.9 1403.8 822.7 1403.8 808.6 1403.8M1035.0 1566.3 1027.9 1561.1 1020.8 1550.6 1017.3 1540.1 1020.8 1534.8 1027.9 1540.1 1035.0 1550.6 1038.5 1561.1ZM1550.6 1561.1 1558.5 1572.7 1566.4 1561.1 1558.5 1549.4 1552.2 1540.1 1552.2 1519.1 1554.0 1498.1 1554.0 1477.2 1554.0 1456.2 1544.3 1436.8 1530.2 1444.8 1523.2 1456.2 1516.0 1467.3 1512.2 1477.2 1511.1 1498.1 1516.0 1509.8 1522.3 1519.1 1530.2 1530.8 1536.5 1540.1 1544.4 1551.7ZM1332.1 1513.3 1327.1 1498.1 1332.1 1482.9 1334.9 1477.2 1340.0 1456.2 1346.2 1444.5 1351.6 1456.2 1352.6 1477.2 1346.2 1496.0 1344.2 1498.1ZM1273.3 1477.2 1275.5 1483.3 1277.5 1477.2 1279.7 1456.2 1275.5 1447.7 1271.4 1456.2ZM1063.2 1424.7 1056.2 1414.3 1063.2 1403.8 1070.3 1414.3ZM1584.6 1393.3 1586.8 1396.3 1591.6 1393.3 1586.8 1380.8ZM858.1 1372.3 865.1 1382.8 872.2 1372.3 879.3 1361.8 886.4 1351.3 879.3 1340.9 865.1 1340.9 858.1 1351.3ZM1049.1 1382.8 1042.0 1372.3 1049.1 1361.8 1056.2 1372.3ZM900.5 1351.3 907.6 1361.8 914.7 1351.3 907.6 1340.9ZM1301.2 1330.4 1303.8 1336.6 1306.4 1330.4 1303.8 1324.4ZM1668.5 1225.5 1671.7 1233.0 1674.9 1225.5 1671.7 1218.8ZM917.2 1183.6 921.8 1192.5 926.1 1183.6 921.8 1177.2ZM808.6 974.6 810.0 973.9 822.7 965.8 836.9 966.3 851.0 972.1 854.7 973.9 865.1 978.9 879.3 987.5 893.5 981.2 907.6 987.1 921.8 990.3 935.9 981.4 948.5 994.8 950.1 996.0 956.3 994.8 964.2 993.2 978.4 988.9 982.5 994.8 992.5 1012.4 1006.7 1015.7 1020.8 1010.4 1027.4 1015.8 1035.0 1022.5 1049.1 1026.1 1063.2 1023.1 1077.4 1018.9 1091.6 1016.4 1096.2 1015.8 1105.7 1013.7 1107.3 1015.8 1119.8 1032.0 1122.2 1036.8 1134.0 1054.9 1148.2 1037.1 1150.8 1036.8 1162.3 1035.2 1165.6 1036.8 1176.5 1041.0 1190.6 1044.9 1204.8 1047.0 1218.9 1039.1 1233.1 1049.4 1240.6 1057.7 1247.2 1065.4 1256.5 1057.7 1261.3 1054.7 1275.5 1055.0 1280.0 1057.7 1289.7 1065.4 1303.8 1068.9 1318.0 1077.7 1319.2 1078.7 1332.1 1092.3 1346.2 1099.7 1360.4 1079.7 1373.1 1099.7 1374.5 1101.2 1388.7 1108.6 1402.8 1116.4 1417.0 1114.9 1423.2 1120.7 1431.2 1126.6 1445.3 1135.6 1459.4 1141.6 1459.5 1141.7 1459.5 1141.6 1473.6 1135.0 1487.8 1130.2 1501.9 1133.1 1516.0 1135.2 1530.2 1129.5 1544.4 1136.5 1558.5 1140.7 1571.8 1141.6 1572.7 1141.8 1586.8 1148.6 1601.0 1153.6 1615.1 1154.5 1629.2 1160.8 1636.7 1162.6 1643.4 1163.9 1657.5 1167.6 1671.7 1173.1 1685.9 1179.4M1685.9 813.2 1671.7 809.5 1663.3 806.1 1657.5 804.3 1643.4 801.1 1629.2 797.7 1615.1 805.7 1614.6 806.1 1601.0 821.8 1586.8 814.4 1572.7 818.0 1558.5 824.1 1546.7 806.1 1544.4 803.1 1530.4 785.1 1530.2 784.9 1516.1 766.3 1505.2 785.1 1501.9 790.4 1487.8 800.3 1479.7 806.1 1473.6 809.2 1466.6 806.1 1459.5 799.1 1452.1 785.1 1445.3 774.6 1431.2 774.1 1427.1 785.1 1420.2 806.1 1417.0 811.3 1402.9 808.3 1398.7 806.1 1388.7 799.8 1379.7 785.1 1374.5 774.8 1360.4 783.4 1354.0 785.1 1346.3 786.1 1345.2 785.1 1333.1 764.1 1332.1 763.3 1318.0 763.7 1303.8 761.5 1289.7 759.9 1275.5 748.7 1261.3 745.9 1247.2 753.7 1233.1 758.9 1218.9 753.7 1211.8 743.2 1218.9 732.7 1222.4 722.2 1218.9 717.0 1204.8 706.5 1190.6 711.7 1176.5 711.7 1162.3 711.7 1155.2 701.2 1148.2 696.0 1134.0 690.7 1123.4 701.2 1119.8 711.7 1116.3 722.2 1109.2 743.2 1105.7 753.7 1098.6 743.2 1091.6 737.9 1077.4 732.7 1070.3 722.2 1070.3 701.2 1063.2 696.0 1059.7 701.2 1049.1 717.0 1045.6 722.2 1035.0 737.9 1020.8 737.9 1006.7 732.7 992.5 727.4 985.4 722.2 978.4 711.7 971.3 722.2 964.2 727.4 957.1 722.2 964.2 711.7 971.3 701.2 967.7 680.3 964.2 677.6 950.0 672.4 935.9 669.8 928.8 659.3 921.8 643.6 907.6 648.8 900.5 638.3 900.5 617.3 894.3 596.4 893.5 595.1 881.6 575.4 881.6 554.4 881.6 533.5M950.1 769.4 947.7 764.1 950.1 753.7 957.1 764.1ZM1035.0 774.6 1027.9 764.1 1035.0 753.7 1038.5 764.1ZM907.6 748.4 904.1 743.2 907.6 732.7 914.7 722.2 907.6 711.7 900.5 701.2 893.5 696.0 882.8 680.3 893.5 664.5 907.6 669.8 914.7 680.3 914.7 701.2 921.8 711.7 925.3 722.2 921.8 732.7 914.7 743.2ZM865.1 732.7 858.1 722.2 865.1 711.7 868.7 722.2ZM1003.1 701.2 1006.7 711.7 1013.7 701.2 1013.7 680.3 1006.7 675.0 1003.1 680.3ZM851.0 690.7 843.9 680.3 843.9 659.3 843.9 638.3 851.0 633.1 854.5 638.3 854.5 659.3 865.1 675.0 872.2 680.3 865.1 690.7ZM1187.1 680.3 1190.6 690.7 1194.1 680.3 1190.6 675.0ZM989.0 659.3 992.5 664.5 996.0 659.3 992.5 648.8ZM1088.0 659.3 1091.6 669.8 1098.6 659.3 1091.6 654.0ZM815.6 1603.0 822.7 1592.5 836.9 1592.5 843.9 1603.0M882.8 1603.0 879.3 1592.5 872.2 1582.0 872.2 1561.1 879.3 1550.6 886.4 1561.1 893.5 1571.5 907.6 1571.5 921.8 1571.5 928.8 1582.0 928.8 1603.0M985.4 1603.0 978.4 1587.3 964.2 1592.5 953.6 1582.0 957.1 1561.1 964.2 1545.3 978.4 1550.6 985.4 1561.1 992.5 1566.3 1006.7 1566.3 1013.7 1561.1 1010.2 1540.1 1020.8 1524.4 1035.0 1534.8 1042.0 1540.1 1045.6 1561.1 1049.1 1571.5 1063.2 1576.8 1073.9 1561.1 1063.2 1545.3 1056.2 1540.1 1059.7 1519.1 1063.2 1513.9 1070.3 1519.1 1077.4 1529.6 1091.6 1534.8 1098.6 1540.1 1091.6 1550.6 1084.5 1561.1 1084.5 1582.0 1084.5 1603.0M1042.0 1603.0 1042.0 1582.0 1035.0 1576.8 1027.9 1582.0 1027.9 1603.0M1153.5 1603.0 1153.5 1582.0 1153.5 1561.1 1162.3 1548.0 1167.6 1540.1 1176.5 1522.6 1183.5 1519.1 1187.1 1498.1 1190.6 1487.7 1197.7 1477.2 1190.6 1466.7 1176.5 1466.7 1169.4 1456.2 1162.3 1445.7 1155.2 1435.2 1148.2 1424.7 1141.1 1435.2 1141.1 1456.2 1148.2 1466.7 1155.2 1477.2 1155.2 1498.1 1148.2 1508.6 1134.0 1508.6 1119.8 1508.6 1112.8 1498.1 1112.8 1477.2 1105.7 1466.7 1091.6 1466.7 1084.5 1456.2 1077.4 1445.7 1063.2 1445.7 1049.1 1445.7 1035.0 1445.7 1027.9 1456.2 1020.8 1466.7 1013.7 1456.2 1006.7 1445.7 992.5 1445.7 985.4 1456.2 978.4 1466.7 971.3 1456.2 978.4 1445.7 985.4 1435.2 985.4 1414.3 985.4 1393.3 978.4 1382.8 964.2 1382.8 957.1 1393.3 964.2 1403.8 971.3 1414.3 964.2 1424.7 957.1 1435.2 950.1 1445.7 943.0 1435.2 943.0 1414.3 935.9 1403.8 921.8 1403.8 914.7 1414.3 907.6 1424.7 900.5 1435.2 907.6 1445.7 914.7 1456.2 907.6 1466.7 900.5 1456.2 893.5 1445.7 879.3 1445.7 865.1 1445.7 858.1 1456.2 851.0 1466.7 836.9 1466.7 822.7 1466.7 815.6 1456.2 815.6 1435.2 808.6 1424.7M1240.1 1603.0 1240.1 1582.0 1240.1 1561.1 1240.1 1540.1 1233.1 1529.6 1218.9 1529.6 1215.4 1540.1 1215.4 1561.1 1215.4 1582.0 1215.4 1603.0M808.6 1534.8 812.1 1540.1 808.6 1550.6M1301.0 1519.1 1303.8 1524.2 1308.9 1519.1 1303.8 1505.1ZM950.1 1508.6 943.0 1498.1 943.0 1477.2 950.1 1466.7 957.1 1477.2 957.1 1498.1ZM992.5 1508.6 985.4 1498.1 992.5 1487.7 999.6 1498.1ZM1226.0 1498.1 1233.1 1508.6 1240.1 1498.1 1233.1 1487.7ZM1112.8 1456.2 1119.8 1466.7 1126.9 1456.2 1119.8 1445.7ZM1098.6 1435.2 1105.7 1445.7 1112.8 1435.2 1105.7 1424.7ZM1013.7 1414.3 1020.8 1424.7 1035.0 1424.7 1042.0 1414.3 1035.0 1403.8 1020.8 1403.8ZM1183.5 1393.3 1190.6 1403.8 1197.7 1393.3 1190.6 1382.8ZM1141.1 1330.4 1148.2 1340.9 1155.2 1330.4 1155.2 1309.4 1148.2 1298.9 1141.1 1309.4ZM1183.5 1330.4 1190.6 1340.9 1197.7 1330.4 1190.6 1319.9ZM1112.8 1309.4 1119.8 1319.9 1126.9 1309.4 1134.0 1298.9 1141.1 1288.4 1134.0 1275.3 1129.5 1267.5 1119.8 1247.5 1110.2 1267.5 1112.8 1288.4ZM808.6 953.1 808.9 952.9 822.7 943.4 836.9 945.1 851.0 951.6 853.6 952.9 865.1 956.2 879.3 961.0 893.5 954.7 907.6 959.3 921.8 963.6 934.0 952.9 935.9 950.8 950.1 951.5 951.0 952.9 964.2 967.6 978.4 964.1 985.3 973.9 992.5 984.2 1003.3 994.8 1006.7 997.2 1011.1 994.8 1020.8 987.6 1031.8 994.8 1035.0 996.9 1049.1 1002.1 1063.2 998.9 1071.3 994.8 1077.4 991.9 1091.6 985.7 1105.7 979.2 1118.7 994.8 1119.8 996.3 1129.4 1015.8 1134.0 1025.2 1139.9 1015.8 1148.2 1004.7 1162.3 1006.5 1176.5 1012.8 1190.6 1012.9 1204.8 1011.9 1218.9 1015.7 1219.0 1015.8 1233.1 1027.0 1244.8 1036.8 1247.2 1039.6 1251.5 1036.8 1261.3 1029.9 1275.5 1034.6 1289.7 1036.4 1290.3 1036.8 1303.8 1045.4 1317.9 1056.3 1320.0 1057.7 1332.1 1065.7 1346.2 1069.7 1360.4 1060.8 1374.6 1071.7 1384.7 1078.7 1388.7 1080.8 1402.9 1085.3 1417.0 1083.9 1429.7 1099.7 1431.2 1101.2 1445.3 1105.8 1459.4 1111.3 1473.6 1101.9 1477.6 1099.7 1487.8 1095.7 1501.9 1098.3 1516.0 1099.7 1516.2 1099.7 1530.2 1100.1 1544.4 1100.9 1558.5 1113.3 1567.0 1120.7 1572.7 1123.8 1586.8 1122.3 1601.0 1121.1 1608.8 1120.7 1615.1 1120.2 1618.7 1120.7 1629.2 1122.3 1643.4 1125.8 1657.5 1136.5 1666.1 1141.6 1671.7 1143.7 1685.9 1145.0M1685.9 844.6 1671.7 841.4 1657.6 837.0 1643.4 829.6 1629.2 835.0 1615.1 847.2 1614.5 848.0 1601.0 869.0 1601.0 869.1 1600.8 869.0 1586.8 857.2 1572.7 861.4 1558.5 865.7 1544.4 852.4 1539.4 848.0 1530.2 838.3 1522.3 827.1 1516.0 817.0 1507.7 827.1 1501.9 833.7 1490.4 848.0 1487.8 850.4 1473.6 851.2 1462.3 869.0 1459.5 871.1 1457.1 869.0 1445.3 853.2 1437.5 848.0 1431.2 842.6 1417.0 845.6 1405.2 848.0 1402.9 849.0 1391.4 869.0 1388.7 873.0 1385.6 869.0 1374.5 851.6 1371.6 848.0 1360.4 832.0 1356.8 827.1 1346.2 814.0 1332.1 807.3 1320.5 827.1 1318.0 830.6 1303.8 828.2 1289.7 831.0 1275.5 827.5 1274.8 827.1 1261.3 819.6 1247.2 816.6 1240.1 806.1 1240.1 785.1 1233.1 774.6 1226.0 785.1 1226.0 806.1 1218.9 816.6 1211.8 827.1 1204.8 837.5 1201.2 827.1 1197.7 806.1 1204.8 795.6 1211.8 785.1 1204.8 774.6 1190.6 774.6 1183.5 764.1 1176.5 753.7 1169.4 743.2 1162.3 732.7 1155.2 743.2 1148.2 748.4 1141.1 743.2 1141.1 722.2 1141.1 701.2 1134.0 697.7 1130.5 701.2 1126.9 722.2 1119.8 732.7 1116.3 743.2 1109.2 764.1 1105.7 774.6 1091.6 774.6 1084.5 764.1 1077.4 753.7 1070.3 764.1 1063.2 774.6 1056.2 764.1 1059.7 743.2 1049.1 727.4 1038.5 743.2 1045.6 764.1 1042.0 785.1 1035.0 790.4 1020.8 795.6 1018.4 785.1 1017.3 764.1 1006.7 748.4 999.6 743.2 992.5 737.9 978.4 732.7 964.2 737.9 957.1 743.2 964.2 753.7 971.3 764.1 964.2 769.4 950.1 779.9 943.0 764.1 946.5 743.2 943.0 722.2 950.1 717.0 960.7 701.2 957.1 680.3 950.1 677.6 935.9 676.8 928.8 680.3 928.8 701.2 932.4 722.2 925.3 743.2 921.8 748.4 907.6 758.9 897.0 743.2 893.5 732.7 886.4 722.2 886.4 701.2 879.3 690.7 872.2 701.2 875.8 722.2 872.2 743.2 865.1 748.4 854.5 764.1 851.0 769.4 843.9 764.1 843.9 743.2 847.5 722.2 843.9 701.2 836.9 690.7 833.3 680.3 833.3 659.3 833.3 638.3 833.3 617.3 836.9 606.9 843.9 617.3 851.0 622.6 861.6 638.3 861.6 659.3 865.1 664.5 879.3 669.8 886.4 659.3 886.4 638.3 886.4 617.3 886.4 596.4 880.1 575.4 880.1 554.4 880.1 533.5M1257.3 764.1 1261.3 775.4 1264.2 764.1 1261.3 761.1ZM1197.7 722.2 1204.8 732.7 1211.8 722.2 1204.8 717.0ZM914.7 659.3 921.8 669.8 924.1 659.3 921.8 654.0ZM872.2 1603.0 865.1 1592.5 858.1 1603.0M980.7 1603.0 978.4 1597.8 964.2 1599.5 950.1 1592.5 943.0 1603.0M1149.9 1603.0 1149.9 1582.0 1149.9 1561.1 1162.3 1542.7 1164.1 1540.1 1169.4 1519.1 1162.3 1508.6 1155.2 1519.1 1148.2 1529.6 1134.0 1529.6 1119.8 1529.6 1112.8 1540.1 1119.8 1550.6 1126.9 1561.1 1126.9 1582.0 1134.0 1592.5 1141.1 1603.0M928.8 1561.1 935.9 1571.5 950.1 1571.5 952.4 1561.1 957.1 1540.1 950.1 1529.6 943.0 1540.1 935.9 1550.6ZM1056.2 1561.1 1063.2 1566.3 1066.8 1561.1 1063.2 1555.8ZM900.5 1540.1 907.6 1550.6 914.7 1540.1 907.6 1529.6ZM808.6 1524.4 819.2 1540.1 822.7 1550.6 836.9 1550.6 843.9 1561.1 851.0 1571.5 858.1 1561.1 865.1 1555.8 875.8 1540.1 872.2 1519.1 865.1 1508.6 851.0 1508.6 836.9 1508.6 829.8 1498.1 822.7 1487.7 808.6 1487.7M914.7 1519.1 921.8 1529.6 928.8 1519.1 921.8 1508.6ZM1027.9 1519.1 1035.0 1524.4 1049.1 1529.6 1052.6 1519.1 1063.2 1503.4 1070.3 1498.1 1070.3 1477.2 1063.2 1466.7 1056.2 1477.2 1049.1 1487.7 1042.0 1477.2 1035.0 1466.7 1027.9 1477.2 1027.9 1498.1ZM1084.5 1519.1 1091.6 1524.4 1105.7 1529.6 1112.8 1519.1 1105.7 1508.6 1098.6 1498.1 1091.6 1487.7 1084.5 1498.1ZM1169.4 1498.1 1176.5 1508.6 1180.0 1498.1 1176.5 1487.7ZM999.6 1477.2 1006.7 1487.7 1013.7 1477.2 1006.7 1466.7ZM808.6 905.7 819.2 890.0 815.6 869.0 815.6 848.0 822.7 837.5 829.8 848.0 836.9 858.5 843.9 869.0 851.0 879.5 858.1 890.0 865.1 900.5 872.2 910.9 872.2 931.9 879.3 940.7 893.5 939.3 900.5 931.9 907.6 921.4 921.8 921.4 935.9 921.4 943.0 910.9 943.0 890.0 935.9 879.5 928.8 869.0 935.9 858.5 943.0 869.0 950.1 879.5 957.1 890.0 964.2 900.5 971.3 890.0 978.4 879.5 992.5 879.5 999.6 890.0 992.5 900.5 985.4 910.9 985.4 931.9 987.9 952.9 992.5 959.4 1004.2 973.9 1006.7 976.5 1009.6 973.9 1016.6 952.9 1013.7 931.9 1013.7 910.9 1020.8 900.5 1027.9 910.9 1027.9 931.9 1034.4 952.9 1035.0 953.4 1049.1 966.7 1056.6 973.9 1063.2 977.7 1070.1 973.9 1077.4 968.2 1091.6 959.1 1105.7 957.1 1119.8 962.8 1127.8 973.9 1134.0 983.8 1148.2 976.7 1161.8 973.9 1162.3 973.7 1162.5 973.9 1176.5 983.8 1190.6 987.6 1204.8 985.7 1213.5 994.8 1218.9 998.4 1233.1 1008.9 1247.2 1009.5 1261.3 1005.5 1275.5 1009.4 1289.7 1015.6 1289.9 1015.8 1303.8 1021.6 1318.0 1031.2 1326.7 1036.8 1332.1 1041.3 1346.2 1041.8 1353.9 1036.8 1360.4 1032.6 1374.5 1034.5 1376.4 1036.8 1388.7 1049.7 1402.9 1053.6 1408.1 1057.7 1417.0 1061.4 1431.2 1070.2 1445.3 1075.9 1451.8 1078.7 1459.5 1082.6 1464.9 1078.7 1473.6 1073.0 1487.8 1071.6 1501.9 1072.4 1516.0 1072.5 1530.2 1072.1 1544.4 1072.3 1552.5 1078.7 1558.5 1083.6 1572.7 1092.4 1584.5 1099.7 1586.8 1100.4 1588.3 1099.7 1600.9 1091.2 1615.1 1090.2 1629.2 1086.9 1643.4 1083.9 1657.5 1084.7 1671.7 1099.7 1685.9 1092.1M1685.9 893.8 1671.7 893.8 1657.6 894.0 1643.4 894.1 1629.2 893.0 1615.1 895.3 1601.0 901.7 1586.8 900.0 1572.7 906.9 1566.0 910.9 1558.5 914.5 1555.3 910.9 1544.4 897.8 1530.2 896.3 1516.0 893.2 1501.9 898.0 1487.8 892.7 1478.2 910.9 1473.9 931.9 1473.6 933.9 1465.7 952.9 1459.5 958.9 1453.2 952.9 1455.2 931.9 1452.5 910.9 1445.3 899.3 1433.0 910.9 1431.2 912.5 1417.0 912.5 1408.2 910.9 1402.9 909.3 1401.1 910.9 1388.7 917.7 1375.8 910.9 1374.5 909.9 1365.1 910.9 1360.4 911.1 1360.0 910.9 1346.2 895.2 1332.1 897.2 1318.0 900.0 1311.6 910.9 1303.8 919.5 1299.6 910.9 1299.2 890.0 1303.8 880.7 1310.1 869.0 1306.6 848.0 1303.8 844.9 1300.4 848.0 1289.8 869.0 1289.7 869.1 1289.4 869.0 1275.5 861.3 1262.7 848.0 1261.3 846.9 1260.2 848.0 1254.9 869.0 1252.7 890.0 1247.2 895.2 1233.1 900.5 1226.0 890.0 1226.0 869.0 1218.9 858.5 1204.8 858.5 1197.7 848.0 1194.1 827.1 1190.6 816.6 1183.5 806.1 1176.5 795.6 1169.4 806.1 1169.4 827.1 1169.4 848.0 1162.3 858.5 1155.2 848.0 1155.2 827.1 1148.2 816.6 1134.0 811.3 1119.8 811.3 1105.7 811.3 1098.6 806.1 1091.6 795.6 1077.4 795.6 1063.2 795.6 1049.1 795.6 1035.0 800.8 1027.9 806.1 1027.9 827.1 1020.8 832.3 1006.7 832.3 992.5 837.5 985.4 827.1 985.4 806.1 992.5 795.6 1006.7 800.8 1013.7 785.1 1010.2 764.1 1006.7 758.9 992.5 753.7 985.4 764.1 978.4 774.6 964.2 779.9 957.1 785.1 950.1 790.4 943.0 785.1 938.3 764.1 939.4 743.2 935.9 732.7 932.4 743.2 921.8 758.9 914.7 764.1 907.6 774.6 900.5 764.1 893.5 753.7 879.3 748.4 865.1 758.9 861.6 764.1 851.0 779.9 836.9 774.6 829.8 764.1 829.8 743.2 836.9 732.7 840.4 722.2 836.9 711.7 833.3 701.2 826.2 680.3 826.2 659.3 826.2 638.3 826.2 617.3 829.8 596.4 829.8 575.4 822.7 564.9 815.6 554.4 815.6 533.5M1226.0 848.0 1233.1 858.5 1240.1 848.0 1233.1 837.5ZM1116.3 764.1 1119.8 774.6 1126.9 764.1 1119.8 753.7ZM1141.1 764.1 1148.2 774.6 1162.3 774.6 1169.4 764.1 1162.3 753.7 1148.2 758.9ZM1045.6 743.2 1049.1 753.7 1052.6 743.2 1049.1 737.9ZM943.0 701.2 950.1 706.5 953.6 701.2 950.1 690.7ZM858.1 1540.1 865.1 1545.3 868.7 1540.1 865.1 1529.6ZM1580.5 1057.7 1586.8 1066.8 1593.0 1057.7 1595.9 1036.8 1596.7 1015.8 1596.5 994.8 1595.4 973.9 1590.5 952.9 1586.8 947.4 1582.5 952.9 1572.7 960.9 1564.6 973.9 1558.5 982.0 1544.4 985.8 1530.2 978.6 1527.6 973.9 1523.1 952.9 1530.2 933.1 1532.0 931.9 1530.2 930.6 1516.0 924.4 1501.9 927.7 1487.8 923.7 1484.8 931.9 1480.7 952.9 1476.2 973.9 1473.6 978.9 1459.5 984.7 1445.3 977.1 1441.7 973.9 1431.2 964.9 1420.9 952.9 1417.0 947.8 1414.4 952.9 1402.9 972.2 1388.7 958.2 1385.0 952.9 1374.6 935.8 1360.4 932.7 1346.4 952.9 1346.2 953.2 1332.1 966.0 1324.0 973.9 1317.9 981.6 1310.0 994.8 1318.0 1009.9 1332.1 1014.0 1346.2 1013.6 1360.4 1005.9 1374.5 1003.4 1383.3 1015.8 1388.7 1022.8 1399.1 1015.8 1402.9 1012.1 1405.1 1015.8 1416.0 1036.8 1417.0 1037.9 1431.2 1045.2 1445.3 1050.8 1459.5 1056.3 1473.6 1047.2 1487.8 1043.9 1495.7 1036.8 1501.9 1030.0 1511.5 1015.8 1516.0 1008.5 1519.1 1015.8 1517.8 1036.8 1530.2 1040.3 1544.4 1041.5 1558.5 1044.1 1572.7 1044.6ZM1254.4 973.9 1261.3 979.8 1275.5 982.1 1286.2 973.9 1289.7 970.8 1298.7 952.9 1289.7 939.5 1275.5 938.2 1271.3 931.9 1268.3 910.9 1261.3 898.9 1247.2 905.7 1240.1 910.9 1247.2 921.4 1253.1 931.9 1247.2 944.9 1240.1 952.9 1247.2 964.8ZM1061.1 952.9 1063.2 955.4 1065.9 952.9 1077.4 942.8 1084.5 931.9 1084.5 910.9 1091.6 900.5 1098.6 890.0 1105.7 879.5 1112.8 869.0 1119.8 858.5 1126.9 869.0 1126.9 890.0 1119.8 900.5 1112.8 910.9 1119.8 921.4 1126.9 931.9 1133.2 952.9 1134.0 954.1 1135.8 952.9 1141.1 931.9 1141.1 910.9 1141.1 890.0 1141.1 869.0 1141.1 848.0 1141.1 827.1 1134.0 821.8 1119.8 821.8 1105.7 821.8 1098.6 827.1 1091.6 837.5 1084.5 827.1 1077.4 816.6 1063.2 811.3 1052.6 827.1 1049.1 832.3 1035.0 832.3 1020.8 842.8 1006.7 842.8 999.6 848.0 999.6 869.0 1006.7 879.5 1013.7 869.0 1020.8 858.5 1024.3 869.0 1035.0 884.7 1042.0 890.0 1042.0 910.9 1042.0 931.9 1049.1 941.5ZM1155.2 931.9 1162.3 944.4 1176.5 950.1 1190.6 945.0 1204.8 945.0 1211.8 931.9 1211.8 910.9 1211.8 890.0 1204.8 879.5 1197.7 890.0 1197.7 910.9 1190.6 921.4 1176.5 921.4 1162.3 921.4ZM1313.4 931.9 1318.0 937.8 1324.7 931.9 1318.0 926.4ZM1685.8 941.3 1671.7 937.1 1657.5 938.2 1648.6 931.9 1643.4 926.8 1629.2 916.6 1615.1 922.6 1607.3 931.9 1615.1 945.3 1620.9 952.9 1615.1 960.9 1607.6 973.9 1605.5 994.8 1605.2 1015.8 1606.1 1036.8 1610.8 1057.7 1615.1 1061.5 1629.2 1058.7 1630.7 1057.7 1643.4 1047.3 1657.5 1045.4 1671.7 1045.9 1685.9 1042.3M808.6 895.2 812.1 890.0 808.6 879.5M914.7 890.0 921.8 900.5 928.8 890.0 921.8 879.5ZM1169.4 890.0 1176.5 900.5 1183.5 890.0 1176.5 879.5ZM858.1 869.0 865.1 879.5 879.3 879.5 893.5 879.5 907.6 879.5 914.7 869.0 914.7 848.0 907.6 837.5 900.5 827.1 900.5 806.1 900.5 785.1 893.5 774.6 886.4 764.1 879.3 758.9 872.2 764.1 865.1 769.4 854.5 785.1 854.5 806.1 858.1 827.1 851.0 837.5 843.9 848.0 851.0 858.5ZM1183.5 869.0 1190.6 879.5 1197.7 869.0 1190.6 858.5ZM879.3 858.5 872.2 848.0 879.3 837.5 886.4 848.0ZM808.6 837.5 815.6 827.1 822.7 816.6 829.8 806.1 829.8 785.1 822.7 774.6 815.6 785.1 808.6 795.6M928.8 827.1 935.9 837.5 950.1 837.5 957.1 827.1 957.1 806.1 950.1 800.8 935.9 795.6 928.8 785.1 921.8 774.6 914.7 785.1 914.7 806.1 921.8 816.6ZM999.6 785.1 1006.7 790.4 1009.0 785.1 1006.7 774.6ZM808.6 737.9 822.7 732.7 829.8 722.2 826.2 701.2 822.7 690.7 815.6 701.2 808.6 706.5M1620.7 1015.8 1629.2 1029.8 1637.9 1015.8 1637.3 994.8 1629.2 983.3 1621.9 994.8ZM1329.5 994.8 1332.1 997.2 1346.2 997.3 1349.2 994.8 1346.2 988.2 1332.1 991.3ZM1354.9 973.9 1360.4 979.4 1374.6 977.2 1377.6 973.9 1374.5 969.4 1360.4 962.5ZM1685.9 972.3 1671.7 955.3 1662.4 973.9 1662.8 994.8 1671.7 1010.2 1685.0 994.8 1685.9 986.6M1031.4 869.0 1035.0 874.2 1049.1 879.5 1056.2 869.0 1063.2 858.5 1077.4 858.5 1084.5 848.0 1077.4 837.5 1070.3 827.1 1063.2 821.8 1059.7 827.1 1049.1 842.8 1035.0 842.8 1027.9 848.0ZM1084.5 869.0 1091.6 879.5 1098.6 869.0 1091.6 858.5ZM861.6 806.1 865.1 816.6 879.3 816.6 886.4 806.1 886.4 785.1 879.3 774.6 865.1 779.9 861.6 785.1ZM808.6 727.4 815.6 722.2 808.6 717.0" fill="none" stroke="#000" stroke-width="4.6" stroke-linejoin="miter" stroke-miterlimit="3"/>
<path d="M907.6 638.3 L921.8 616.3 L935.9 638.3Z" fill="#000" stroke="#000" stroke-width="2" stroke-linejoin="miter"/>
</g>
<path d="M426.50 1603.0 V1584.0 M426.50 135.0 V154.0" stroke="#262626" stroke-width="4" fill="none"/>
<text class="tkx" x="426.50" y="1676.5" text-anchor="middle">0</text>
<path d="M709.50 1603.0 V1584.0 M709.50 135.0 V154.0" stroke="#262626" stroke-width="4" fill="none"/>
<text class="tkx" x="709.50" y="1676.5" text-anchor="middle">2</text>
<path d="M992.50 1603.0 V1584.0 M992.50 135.0 V154.0" stroke="#262626" stroke-width="4" fill="none"/>
<text class="tkx" x="992.50" y="1676.5" text-anchor="middle">4</text>
<path d="M1275.50 1603.0 V1584.0 M1275.50 135.0 V154.0" stroke="#262626" stroke-width="4" fill="none"/>
<text class="tkx" x="1275.50" y="1676.5" text-anchor="middle">6</text>
<path d="M1558.50 1603.0 V1584.0 M1558.50 135.0 V154.0" stroke="#262626" stroke-width="4" fill="none"/>
<text class="tkx" x="1558.50" y="1676.5" text-anchor="middle">8</text>
<path d="M1841.50 1603.0 V1584.0 M1841.50 135.0 V154.0" stroke="#262626" stroke-width="4" fill="none"/>
<text class="tkx" x="1841.50" y="1676.5" text-anchor="middle">10</text>
<path d="M285.0 1603.00 H304.0 M1983.0 1603.00 H1964.0" stroke="#262626" stroke-width="4" fill="none"/>
<text class="tkx" x="263.5" y="1621.30" text-anchor="end">80</text>
<path d="M285.0 1393.29 H304.0 M1983.0 1393.29 H1964.0" stroke="#262626" stroke-width="4" fill="none"/>
<text class="tkx" x="263.5" y="1411.59" text-anchor="end">85</text>
<path d="M285.0 1183.57 H304.0 M1983.0 1183.57 H1964.0" stroke="#262626" stroke-width="4" fill="none"/>
<text class="tkx" x="263.5" y="1201.87" text-anchor="end">90</text>
<path d="M285.0 973.86 H304.0 M1983.0 973.86 H1964.0" stroke="#262626" stroke-width="4" fill="none"/>
<text class="tkx" x="263.5" y="992.16" text-anchor="end">95</text>
<path d="M285.0 764.14 H304.0 M1983.0 764.14 H1964.0" stroke="#262626" stroke-width="4" fill="none"/>
<text class="tkx" x="263.5" y="782.44" text-anchor="end">100</text>
<path d="M285.0 554.43 H304.0 M1983.0 554.43 H1964.0" stroke="#262626" stroke-width="4" fill="none"/>
<text class="tkx" x="263.5" y="572.73" text-anchor="end">105</text>
<path d="M285.0 344.71 H304.0 M1983.0 344.71 H1964.0" stroke="#262626" stroke-width="4" fill="none"/>
<text class="tkx" x="263.5" y="363.01" text-anchor="end">110</text>
<path d="M285.0 135.00 H304.0 M1983.0 135.00 H1964.0" stroke="#262626" stroke-width="4" fill="none"/>
<text class="tkx" x="263.5" y="153.30" text-anchor="end">115</text>
<rect x="285.0" y="135.0" width="1698.0" height="1468.0" fill="none" stroke="#262626" stroke-width="4"/>
<text x="1134" y="95.7" text-anchor="middle" font-size="83.33" font-weight="bold" fill="#000">Zonal Wind 20160308</text>
<text class="lb" x="1134" y="1751.4" text-anchor="middle">UT (Hour)</text>
<text class="lb" transform="translate(122,867) rotate(-90)" text-anchor="middle">Altitude (km)</text>
<rect x="2023.0" y="1481.42" width="86.0" height="123.08" fill="#0000AA"/>
<rect x="2023.0" y="1358.83" width="86.0" height="123.08" fill="#0000FF"/>
<rect x="2023.0" y="1236.25" width="86.0" height="123.08" fill="#0055FF"/>
<rect x="2023.0" y="1113.67" width="86.0" height="123.08" fill="#00AAFF"/>
<rect x="2023.0" y="991.08" width="86.0" height="123.08" fill="#00FFFF"/>
<rect x="2023.0" y="868.50" width="86.0" height="123.08" fill="#55FFAA"/>
<rect x="2023.0" y="745.92" width="86.0" height="123.08" fill="#AAFF55"/>
<rect x="2023.0" y="623.33" width="86.0" height="123.08" fill="#FFFF00"/>
<rect x="2023.0" y="500.75" width="86.0" height="123.08" fill="#FFAA00"/>
<rect x="2023.0" y="378.17" width="86.0" height="123.08" fill="#FF5500"/>
<rect x="2023.0" y="255.58" width="86.0" height="123.08" fill="#FF0000"/>
<rect x="2023.0" y="133.00" width="86.0" height="123.08" fill="#AA0000"/>
<path d="M2109.0 1481.42 H2092.0" stroke="#262626" stroke-width="4" fill="none"/>
<text class="tk" x="2131" y="1497.92">-100</text>
<path d="M2109.0 1358.83 H2092.0" stroke="#262626" stroke-width="4" fill="none"/>
<text class="tk" x="2131" y="1375.33">-80</text>
<path d="M2109.0 1236.25 H2092.0" stroke="#262626" stroke-width="4" fill="none"/>
<text class="tk" x="2131" y="1252.75">-60</text>
<path d="M2109.0 1113.67 H2092.0" stroke="#262626" stroke-width="4" fill="none"/>
<text class="tk" x="2131" y="1130.17">-40</text>
<path d="M2109.0 991.08 H2092.0" stroke="#262626" stroke-width="4" fill="none"/>
<text class="tk" x="2131" y="1007.58">-20</text>
<path d="M2109.0 868.50 H2092.0" stroke="#262626" stroke-width="4" fill="none"/>
<text class="tk" x="2131" y="885.00">0</text>
<path d="M2109.0 745.92 H2092.0" stroke="#262626" stroke-width="4" fill="none"/>
<text class="tk" x="2131" y="762.42">20</text>
<path d="M2109.0 623.33 H2092.0" stroke="#262626" stroke-width="4" fill="none"/>
<text class="tk" x="2131" y="639.83">40</text>
<path d="M2109.0 500.75 H2092.0" stroke="#262626" stroke-width="4" fill="none"/>
<text class="tk" x="2131" y="517.25">60</text>
<path d="M2109.0 378.17 H2092.0" stroke="#262626" stroke-width="4" fill="none"/>
<text class="tk" x="2131" y="394.67">80</text>
<path d="M2109.0 255.58 H2092.0" stroke="#262626" stroke-width="4" fill="none"/>
<text class="tk" x="2131" y="272.08">100</text>
<rect x="2023.0" y="133.0" width="86.0" height="1471.0" fill="none" stroke="#262626" stroke-width="4"/>
<text x="2066" y="99" text-anchor="middle" font-size="58.33" fill="#000">m/s</text>
</svg>
</body></html>
